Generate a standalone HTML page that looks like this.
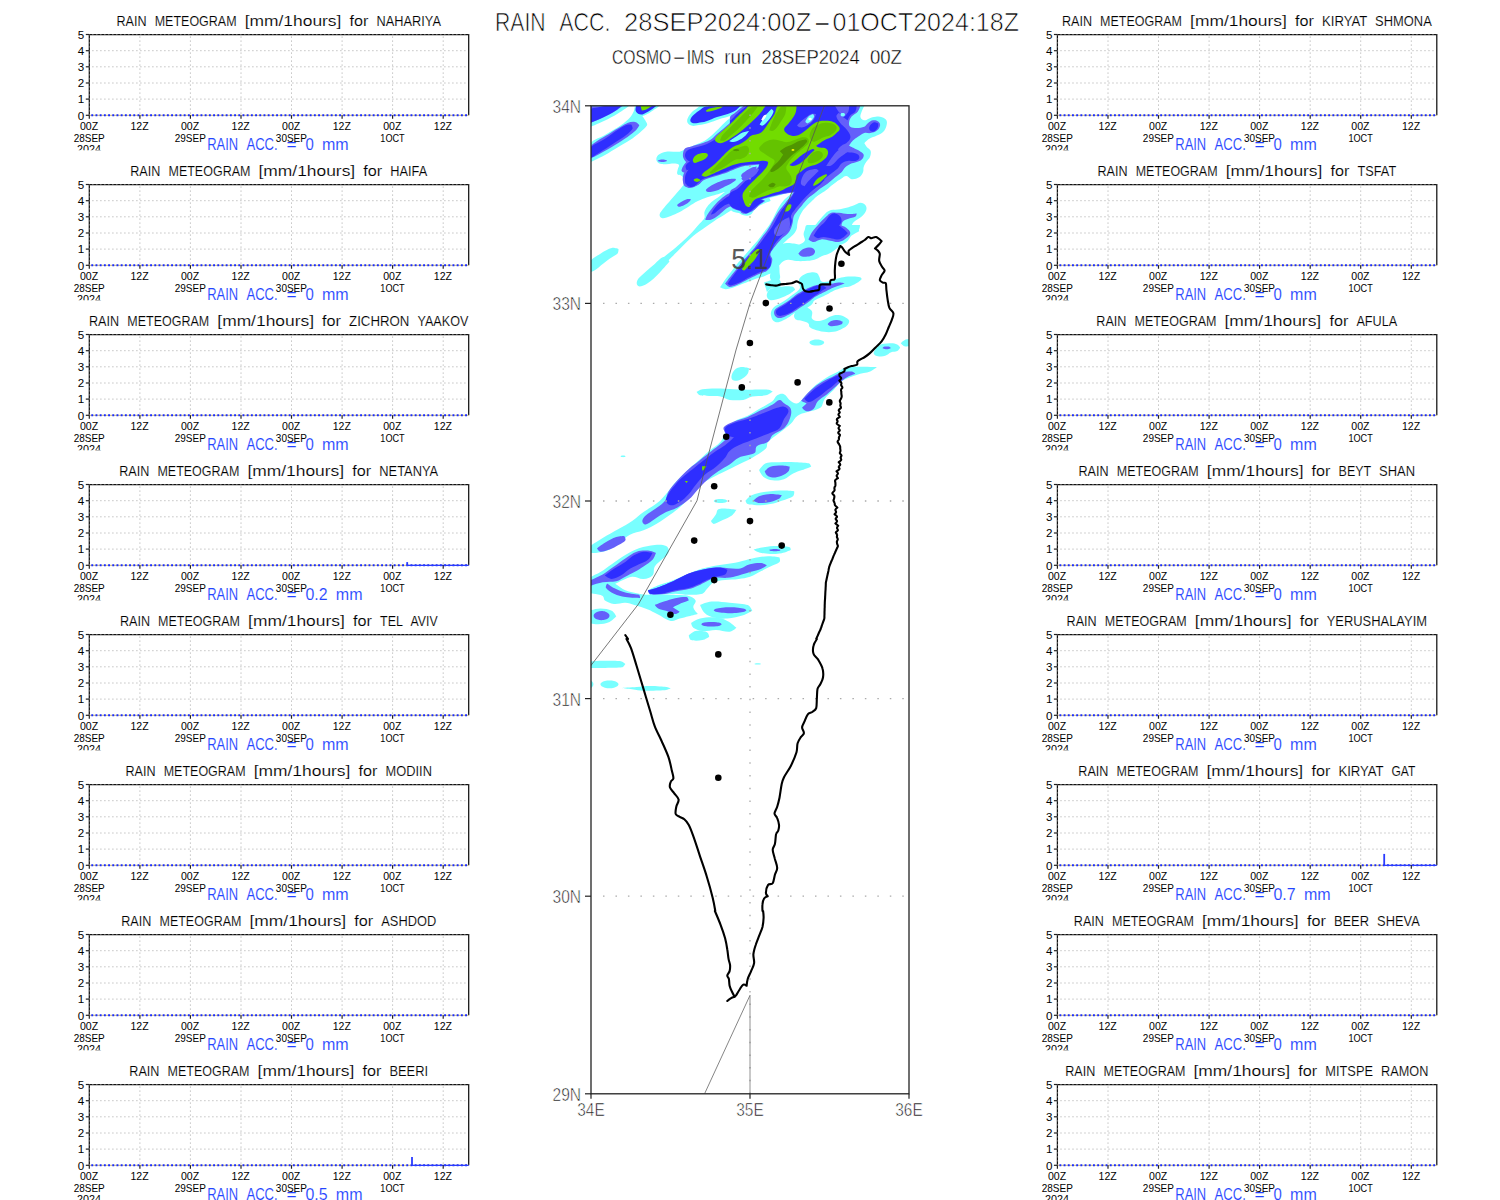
<!DOCTYPE html>
<html><head><meta charset="utf-8"><title>RAIN ACC. COSMO-IMS</title>
<style>
html,body{margin:0;padding:0;background:#fff;}
svg{display:block}
text{font-family:"Liberation Sans", sans-serif;fill:#111;}
.pt{font-size:15.4px;fill:#000;stroke:#fff;stroke-width:.15px}
.yl{font-size:11.6px;text-anchor:end;fill:#000}
.xl{font-size:11.6px;text-anchor:middle;fill:#000}
.ac{font-size:16.2px;fill:#2444ff;stroke:#fff;stroke-width:.12px}
.mt{font-size:25.4px;fill:#000;stroke:#fff;stroke-width:.7px}
.st{font-size:19.5px;fill:#000;stroke:#fff;stroke-width:.4px}
.ml{font-size:18px;fill:#111;stroke:#fff;stroke-width:.55px}
.gd{stroke:#b4b4b4;stroke-width:1;stroke-dasharray:1.2 2.8;fill:none}
.mg{stroke:#aaa;stroke-width:1.3;stroke-dasharray:1.5 10.97;fill:none}
.fr{stroke:#111;stroke-width:1.25;fill:none}
.frd{stroke:#fff;stroke-width:.9;stroke-dasharray:.8 3.2;fill:none;opacity:.75}
.bl{stroke:#1a2cff;stroke-width:2;stroke-dasharray:1.9 2.3;fill:none}
.tk{stroke:#222;stroke-width:1.2}
</style></head>
<body><svg width="1500" height="1200" viewBox="0 0 1500 1200">
<rect width="1500" height="1200" fill="#fff"/>
<g>
<text class="pt" y="26.4"><tspan x="116.5" textLength="30.1" lengthAdjust="spacingAndGlyphs">RAIN</tspan> <tspan x="154.7" textLength="81.9" lengthAdjust="spacingAndGlyphs">METEOGRAM</tspan> <tspan x="244.7" textLength="96.7" lengthAdjust="spacingAndGlyphs">[mm/1hours]</tspan> <tspan x="349.6" textLength="18.9" lengthAdjust="spacingAndGlyphs">for</tspan> <tspan x="376.6" textLength="64.3" lengthAdjust="spacingAndGlyphs">NAHARIYA</tspan></text>
<line class="gd" x1="92.3" y1="99.1" x2="468.7" y2="99.1"/>
<line class="gd" x1="92.3" y1="83.0" x2="468.7" y2="83.0"/>
<line class="gd" x1="92.3" y1="66.8" x2="468.7" y2="66.8"/>
<line class="gd" x1="92.3" y1="50.7" x2="468.7" y2="50.7"/>
<line class="gd" x1="139.9" y1="36.5" x2="139.9" y2="115.3"/>
<line class="gd" x1="190.4" y1="36.5" x2="190.4" y2="115.3"/>
<line class="gd" x1="241.0" y1="36.5" x2="241.0" y2="115.3"/>
<line class="gd" x1="291.5" y1="36.5" x2="291.5" y2="115.3"/>
<line class="gd" x1="342.1" y1="36.5" x2="342.1" y2="115.3"/>
<line class="gd" x1="392.6" y1="36.5" x2="392.6" y2="115.3"/>
<line class="gd" x1="443.2" y1="36.5" x2="443.2" y2="115.3"/>
<path class="fr" d="M89.3 115.3V34.5H468.7V115.3"/>
<path class="frd" d="M89.3 115.3V34.5H468.7"/>
<line x1="89.3" y1="115.3" x2="468.7" y2="115.3" stroke="#c8b878" stroke-width="1"/>
<line class="bl" x1="91.3" y1="115.3" x2="468.7" y2="115.3"/>
<line class="tk" x1="85.8" y1="115.3" x2="89.3" y2="115.3"/>
<text class="yl" x="84.3" y="119.5">0</text>
<line class="tk" x1="85.8" y1="99.1" x2="89.3" y2="99.1"/>
<text class="yl" x="84.3" y="103.3">1</text>
<line class="tk" x1="85.8" y1="83.0" x2="89.3" y2="83.0"/>
<text class="yl" x="84.3" y="87.2">2</text>
<line class="tk" x1="85.8" y1="66.8" x2="89.3" y2="66.8"/>
<text class="yl" x="84.3" y="71.0">3</text>
<line class="tk" x1="85.8" y1="50.7" x2="89.3" y2="50.7"/>
<text class="yl" x="84.3" y="54.9">4</text>
<line class="tk" x1="85.8" y1="34.5" x2="89.3" y2="34.5"/>
<text class="yl" x="84.3" y="38.7">5</text>
<g clip-path="url(#c89_0)">
<clipPath id="c89_0"><rect x="29.299999999999997" y="-5.5" width="499.4" height="155.8"/></clipPath>
<text class="ac" y="149.7"><tspan x="207.2" textLength="30.9" lengthAdjust="spacingAndGlyphs">RAIN</tspan> <tspan x="246.4" textLength="31.3" lengthAdjust="spacingAndGlyphs">ACC.</tspan> <tspan x="286.5" textLength="10.1" lengthAdjust="spacingAndGlyphs">=</tspan> <tspan x="305.4" textLength="8.3" lengthAdjust="spacingAndGlyphs">0</tspan> <tspan x="322.0" textLength="26.7" lengthAdjust="spacingAndGlyphs">mm</tspan></text>
<line class="tk" x1="89.3" y1="115.3" x2="89.3" y2="118.8"/>
<text class="xl" x="89.0" y="129.7" textLength="18.2" lengthAdjust="spacingAndGlyphs">00Z</text>
<text class="xl" x="89.2" y="141.5" textLength="31.1" lengthAdjust="spacingAndGlyphs">28SEP</text>
<line class="tk" x1="139.9" y1="115.3" x2="139.9" y2="118.8"/>
<text class="xl" x="139.6" y="129.7" textLength="18.2" lengthAdjust="spacingAndGlyphs">12Z</text>
<line class="tk" x1="190.4" y1="115.3" x2="190.4" y2="118.8"/>
<text class="xl" x="190.1" y="129.7" textLength="18.2" lengthAdjust="spacingAndGlyphs">00Z</text>
<text class="xl" x="190.3" y="141.5" textLength="31.1" lengthAdjust="spacingAndGlyphs">29SEP</text>
<line class="tk" x1="241.0" y1="115.3" x2="241.0" y2="118.8"/>
<text class="xl" x="240.7" y="129.7" textLength="18.2" lengthAdjust="spacingAndGlyphs">12Z</text>
<line class="tk" x1="291.5" y1="115.3" x2="291.5" y2="118.8"/>
<text class="xl" x="291.2" y="129.7" textLength="18.2" lengthAdjust="spacingAndGlyphs">00Z</text>
<text class="xl" x="291.4" y="141.5" textLength="31.1" lengthAdjust="spacingAndGlyphs">30SEP</text>
<line class="tk" x1="342.1" y1="115.3" x2="342.1" y2="118.8"/>
<text class="xl" x="341.8" y="129.7" textLength="18.2" lengthAdjust="spacingAndGlyphs">12Z</text>
<line class="tk" x1="392.6" y1="115.3" x2="392.6" y2="118.8"/>
<text class="xl" x="392.3" y="129.7" textLength="18.2" lengthAdjust="spacingAndGlyphs">00Z</text>
<text class="xl" x="392.5" y="141.5" textLength="24.3" lengthAdjust="spacingAndGlyphs">1OCT</text>
<line class="tk" x1="443.2" y1="115.3" x2="443.2" y2="118.8"/>
<text class="xl" x="442.9" y="129.7" textLength="18.2" lengthAdjust="spacingAndGlyphs">12Z</text>
<text class="xl" x="89.0" y="153.2" textLength="24" lengthAdjust="spacingAndGlyphs">2024</text>
</g>
</g>
<g>
<text class="pt" y="176.4"><tspan x="130.2" textLength="30.1" lengthAdjust="spacingAndGlyphs">RAIN</tspan> <tspan x="168.5" textLength="81.9" lengthAdjust="spacingAndGlyphs">METEOGRAM</tspan> <tspan x="258.5" textLength="96.7" lengthAdjust="spacingAndGlyphs">[mm/1hours]</tspan> <tspan x="363.3" textLength="18.9" lengthAdjust="spacingAndGlyphs">for</tspan> <tspan x="390.3" textLength="36.9" lengthAdjust="spacingAndGlyphs">HAIFA</tspan></text>
<line class="gd" x1="92.3" y1="249.1" x2="468.7" y2="249.1"/>
<line class="gd" x1="92.3" y1="233.0" x2="468.7" y2="233.0"/>
<line class="gd" x1="92.3" y1="216.8" x2="468.7" y2="216.8"/>
<line class="gd" x1="92.3" y1="200.7" x2="468.7" y2="200.7"/>
<line class="gd" x1="139.9" y1="186.5" x2="139.9" y2="265.3"/>
<line class="gd" x1="190.4" y1="186.5" x2="190.4" y2="265.3"/>
<line class="gd" x1="241.0" y1="186.5" x2="241.0" y2="265.3"/>
<line class="gd" x1="291.5" y1="186.5" x2="291.5" y2="265.3"/>
<line class="gd" x1="342.1" y1="186.5" x2="342.1" y2="265.3"/>
<line class="gd" x1="392.6" y1="186.5" x2="392.6" y2="265.3"/>
<line class="gd" x1="443.2" y1="186.5" x2="443.2" y2="265.3"/>
<path class="fr" d="M89.3 265.3V184.5H468.7V265.3"/>
<path class="frd" d="M89.3 265.3V184.5H468.7"/>
<line x1="89.3" y1="265.3" x2="468.7" y2="265.3" stroke="#c8b878" stroke-width="1"/>
<line class="bl" x1="91.3" y1="265.3" x2="468.7" y2="265.3"/>
<line class="tk" x1="85.8" y1="265.3" x2="89.3" y2="265.3"/>
<text class="yl" x="84.3" y="269.5">0</text>
<line class="tk" x1="85.8" y1="249.1" x2="89.3" y2="249.1"/>
<text class="yl" x="84.3" y="253.3">1</text>
<line class="tk" x1="85.8" y1="233.0" x2="89.3" y2="233.0"/>
<text class="yl" x="84.3" y="237.2">2</text>
<line class="tk" x1="85.8" y1="216.8" x2="89.3" y2="216.8"/>
<text class="yl" x="84.3" y="221.0">3</text>
<line class="tk" x1="85.8" y1="200.7" x2="89.3" y2="200.7"/>
<text class="yl" x="84.3" y="204.9">4</text>
<line class="tk" x1="85.8" y1="184.5" x2="89.3" y2="184.5"/>
<text class="yl" x="84.3" y="188.7">5</text>
<g clip-path="url(#c89_1)">
<clipPath id="c89_1"><rect x="29.299999999999997" y="144.5" width="499.4" height="155.8"/></clipPath>
<text class="ac" y="299.7"><tspan x="207.2" textLength="30.9" lengthAdjust="spacingAndGlyphs">RAIN</tspan> <tspan x="246.4" textLength="31.3" lengthAdjust="spacingAndGlyphs">ACC.</tspan> <tspan x="286.5" textLength="10.1" lengthAdjust="spacingAndGlyphs">=</tspan> <tspan x="305.4" textLength="8.3" lengthAdjust="spacingAndGlyphs">0</tspan> <tspan x="322.0" textLength="26.7" lengthAdjust="spacingAndGlyphs">mm</tspan></text>
<line class="tk" x1="89.3" y1="265.3" x2="89.3" y2="268.8"/>
<text class="xl" x="89.0" y="279.7" textLength="18.2" lengthAdjust="spacingAndGlyphs">00Z</text>
<text class="xl" x="89.2" y="291.5" textLength="31.1" lengthAdjust="spacingAndGlyphs">28SEP</text>
<line class="tk" x1="139.9" y1="265.3" x2="139.9" y2="268.8"/>
<text class="xl" x="139.6" y="279.7" textLength="18.2" lengthAdjust="spacingAndGlyphs">12Z</text>
<line class="tk" x1="190.4" y1="265.3" x2="190.4" y2="268.8"/>
<text class="xl" x="190.1" y="279.7" textLength="18.2" lengthAdjust="spacingAndGlyphs">00Z</text>
<text class="xl" x="190.3" y="291.5" textLength="31.1" lengthAdjust="spacingAndGlyphs">29SEP</text>
<line class="tk" x1="241.0" y1="265.3" x2="241.0" y2="268.8"/>
<text class="xl" x="240.7" y="279.7" textLength="18.2" lengthAdjust="spacingAndGlyphs">12Z</text>
<line class="tk" x1="291.5" y1="265.3" x2="291.5" y2="268.8"/>
<text class="xl" x="291.2" y="279.7" textLength="18.2" lengthAdjust="spacingAndGlyphs">00Z</text>
<text class="xl" x="291.4" y="291.5" textLength="31.1" lengthAdjust="spacingAndGlyphs">30SEP</text>
<line class="tk" x1="342.1" y1="265.3" x2="342.1" y2="268.8"/>
<text class="xl" x="341.8" y="279.7" textLength="18.2" lengthAdjust="spacingAndGlyphs">12Z</text>
<line class="tk" x1="392.6" y1="265.3" x2="392.6" y2="268.8"/>
<text class="xl" x="392.3" y="279.7" textLength="18.2" lengthAdjust="spacingAndGlyphs">00Z</text>
<text class="xl" x="392.5" y="291.5" textLength="24.3" lengthAdjust="spacingAndGlyphs">1OCT</text>
<line class="tk" x1="443.2" y1="265.3" x2="443.2" y2="268.8"/>
<text class="xl" x="442.9" y="279.7" textLength="18.2" lengthAdjust="spacingAndGlyphs">12Z</text>
<text class="xl" x="89.0" y="303.2" textLength="24" lengthAdjust="spacingAndGlyphs">2024</text>
</g>
</g>
<g>
<text class="pt" y="326.4"><tspan x="89.0" textLength="30.1" lengthAdjust="spacingAndGlyphs">RAIN</tspan> <tspan x="127.3" textLength="81.9" lengthAdjust="spacingAndGlyphs">METEOGRAM</tspan> <tspan x="217.3" textLength="96.7" lengthAdjust="spacingAndGlyphs">[mm/1hours]</tspan> <tspan x="322.1" textLength="18.9" lengthAdjust="spacingAndGlyphs">for</tspan> <tspan x="349.1" textLength="60.3" lengthAdjust="spacingAndGlyphs">ZICHRON</tspan> <tspan x="417.5" textLength="50.8" lengthAdjust="spacingAndGlyphs">YAAKOV</tspan></text>
<line class="gd" x1="92.3" y1="399.1" x2="468.7" y2="399.1"/>
<line class="gd" x1="92.3" y1="383.0" x2="468.7" y2="383.0"/>
<line class="gd" x1="92.3" y1="366.8" x2="468.7" y2="366.8"/>
<line class="gd" x1="92.3" y1="350.7" x2="468.7" y2="350.7"/>
<line class="gd" x1="139.9" y1="336.5" x2="139.9" y2="415.3"/>
<line class="gd" x1="190.4" y1="336.5" x2="190.4" y2="415.3"/>
<line class="gd" x1="241.0" y1="336.5" x2="241.0" y2="415.3"/>
<line class="gd" x1="291.5" y1="336.5" x2="291.5" y2="415.3"/>
<line class="gd" x1="342.1" y1="336.5" x2="342.1" y2="415.3"/>
<line class="gd" x1="392.6" y1="336.5" x2="392.6" y2="415.3"/>
<line class="gd" x1="443.2" y1="336.5" x2="443.2" y2="415.3"/>
<path class="fr" d="M89.3 415.3V334.5H468.7V415.3"/>
<path class="frd" d="M89.3 415.3V334.5H468.7"/>
<line x1="89.3" y1="415.3" x2="468.7" y2="415.3" stroke="#c8b878" stroke-width="1"/>
<line class="bl" x1="91.3" y1="415.3" x2="468.7" y2="415.3"/>
<line class="tk" x1="85.8" y1="415.3" x2="89.3" y2="415.3"/>
<text class="yl" x="84.3" y="419.5">0</text>
<line class="tk" x1="85.8" y1="399.1" x2="89.3" y2="399.1"/>
<text class="yl" x="84.3" y="403.3">1</text>
<line class="tk" x1="85.8" y1="383.0" x2="89.3" y2="383.0"/>
<text class="yl" x="84.3" y="387.2">2</text>
<line class="tk" x1="85.8" y1="366.8" x2="89.3" y2="366.8"/>
<text class="yl" x="84.3" y="371.0">3</text>
<line class="tk" x1="85.8" y1="350.7" x2="89.3" y2="350.7"/>
<text class="yl" x="84.3" y="354.9">4</text>
<line class="tk" x1="85.8" y1="334.5" x2="89.3" y2="334.5"/>
<text class="yl" x="84.3" y="338.7">5</text>
<g clip-path="url(#c89_2)">
<clipPath id="c89_2"><rect x="29.299999999999997" y="294.5" width="499.4" height="155.8"/></clipPath>
<text class="ac" y="449.7"><tspan x="207.2" textLength="30.9" lengthAdjust="spacingAndGlyphs">RAIN</tspan> <tspan x="246.4" textLength="31.3" lengthAdjust="spacingAndGlyphs">ACC.</tspan> <tspan x="286.5" textLength="10.1" lengthAdjust="spacingAndGlyphs">=</tspan> <tspan x="305.4" textLength="8.3" lengthAdjust="spacingAndGlyphs">0</tspan> <tspan x="322.0" textLength="26.7" lengthAdjust="spacingAndGlyphs">mm</tspan></text>
<line class="tk" x1="89.3" y1="415.3" x2="89.3" y2="418.8"/>
<text class="xl" x="89.0" y="429.7" textLength="18.2" lengthAdjust="spacingAndGlyphs">00Z</text>
<text class="xl" x="89.2" y="441.5" textLength="31.1" lengthAdjust="spacingAndGlyphs">28SEP</text>
<line class="tk" x1="139.9" y1="415.3" x2="139.9" y2="418.8"/>
<text class="xl" x="139.6" y="429.7" textLength="18.2" lengthAdjust="spacingAndGlyphs">12Z</text>
<line class="tk" x1="190.4" y1="415.3" x2="190.4" y2="418.8"/>
<text class="xl" x="190.1" y="429.7" textLength="18.2" lengthAdjust="spacingAndGlyphs">00Z</text>
<text class="xl" x="190.3" y="441.5" textLength="31.1" lengthAdjust="spacingAndGlyphs">29SEP</text>
<line class="tk" x1="241.0" y1="415.3" x2="241.0" y2="418.8"/>
<text class="xl" x="240.7" y="429.7" textLength="18.2" lengthAdjust="spacingAndGlyphs">12Z</text>
<line class="tk" x1="291.5" y1="415.3" x2="291.5" y2="418.8"/>
<text class="xl" x="291.2" y="429.7" textLength="18.2" lengthAdjust="spacingAndGlyphs">00Z</text>
<text class="xl" x="291.4" y="441.5" textLength="31.1" lengthAdjust="spacingAndGlyphs">30SEP</text>
<line class="tk" x1="342.1" y1="415.3" x2="342.1" y2="418.8"/>
<text class="xl" x="341.8" y="429.7" textLength="18.2" lengthAdjust="spacingAndGlyphs">12Z</text>
<line class="tk" x1="392.6" y1="415.3" x2="392.6" y2="418.8"/>
<text class="xl" x="392.3" y="429.7" textLength="18.2" lengthAdjust="spacingAndGlyphs">00Z</text>
<text class="xl" x="392.5" y="441.5" textLength="24.3" lengthAdjust="spacingAndGlyphs">1OCT</text>
<line class="tk" x1="443.2" y1="415.3" x2="443.2" y2="418.8"/>
<text class="xl" x="442.9" y="429.7" textLength="18.2" lengthAdjust="spacingAndGlyphs">12Z</text>
<text class="xl" x="89.0" y="453.2" textLength="24" lengthAdjust="spacingAndGlyphs">2024</text>
</g>
</g>
<g>
<text class="pt" y="476.4"><tspan x="119.2" textLength="30.1" lengthAdjust="spacingAndGlyphs">RAIN</tspan> <tspan x="157.4" textLength="81.9" lengthAdjust="spacingAndGlyphs">METEOGRAM</tspan> <tspan x="247.4" textLength="96.7" lengthAdjust="spacingAndGlyphs">[mm/1hours]</tspan> <tspan x="352.3" textLength="18.9" lengthAdjust="spacingAndGlyphs">for</tspan> <tspan x="379.3" textLength="58.9" lengthAdjust="spacingAndGlyphs">NETANYA</tspan></text>
<line class="gd" x1="92.3" y1="549.1" x2="468.7" y2="549.1"/>
<line class="gd" x1="92.3" y1="533.0" x2="468.7" y2="533.0"/>
<line class="gd" x1="92.3" y1="516.8" x2="468.7" y2="516.8"/>
<line class="gd" x1="92.3" y1="500.7" x2="468.7" y2="500.7"/>
<line class="gd" x1="139.9" y1="486.5" x2="139.9" y2="565.3"/>
<line class="gd" x1="190.4" y1="486.5" x2="190.4" y2="565.3"/>
<line class="gd" x1="241.0" y1="486.5" x2="241.0" y2="565.3"/>
<line class="gd" x1="291.5" y1="486.5" x2="291.5" y2="565.3"/>
<line class="gd" x1="342.1" y1="486.5" x2="342.1" y2="565.3"/>
<line class="gd" x1="392.6" y1="486.5" x2="392.6" y2="565.3"/>
<line class="gd" x1="443.2" y1="486.5" x2="443.2" y2="565.3"/>
<path class="fr" d="M89.3 565.3V484.5H468.7V565.3"/>
<path class="frd" d="M89.3 565.3V484.5H468.7"/>
<line x1="89.3" y1="565.3" x2="468.7" y2="565.3" stroke="#c8b878" stroke-width="1"/>
<line class="bl" x1="91.3" y1="565.3" x2="468.7" y2="565.3"/>
<path d="M407.2 565.3V562.1" stroke="#2a3cff" stroke-width="1.8" fill="none"/>
<path d="M407.2 565.3H468.7" stroke="#2a3cff" stroke-width="1.2" fill="none"/>
<line class="tk" x1="85.8" y1="565.3" x2="89.3" y2="565.3"/>
<text class="yl" x="84.3" y="569.5">0</text>
<line class="tk" x1="85.8" y1="549.1" x2="89.3" y2="549.1"/>
<text class="yl" x="84.3" y="553.3">1</text>
<line class="tk" x1="85.8" y1="533.0" x2="89.3" y2="533.0"/>
<text class="yl" x="84.3" y="537.2">2</text>
<line class="tk" x1="85.8" y1="516.8" x2="89.3" y2="516.8"/>
<text class="yl" x="84.3" y="521.0">3</text>
<line class="tk" x1="85.8" y1="500.7" x2="89.3" y2="500.7"/>
<text class="yl" x="84.3" y="504.9">4</text>
<line class="tk" x1="85.8" y1="484.5" x2="89.3" y2="484.5"/>
<text class="yl" x="84.3" y="488.7">5</text>
<g clip-path="url(#c89_3)">
<clipPath id="c89_3"><rect x="29.299999999999997" y="444.5" width="499.4" height="155.8"/></clipPath>
<text class="ac" y="599.7"><tspan x="207.2" textLength="30.9" lengthAdjust="spacingAndGlyphs">RAIN</tspan> <tspan x="246.4" textLength="31.3" lengthAdjust="spacingAndGlyphs">ACC.</tspan> <tspan x="286.5" textLength="10.1" lengthAdjust="spacingAndGlyphs">=</tspan> <tspan x="305.4" textLength="22.1" lengthAdjust="spacingAndGlyphs">0.2</tspan> <tspan x="335.8" textLength="26.7" lengthAdjust="spacingAndGlyphs">mm</tspan></text>
<line class="tk" x1="89.3" y1="565.3" x2="89.3" y2="568.8"/>
<text class="xl" x="89.0" y="579.7" textLength="18.2" lengthAdjust="spacingAndGlyphs">00Z</text>
<text class="xl" x="89.2" y="591.5" textLength="31.1" lengthAdjust="spacingAndGlyphs">28SEP</text>
<line class="tk" x1="139.9" y1="565.3" x2="139.9" y2="568.8"/>
<text class="xl" x="139.6" y="579.7" textLength="18.2" lengthAdjust="spacingAndGlyphs">12Z</text>
<line class="tk" x1="190.4" y1="565.3" x2="190.4" y2="568.8"/>
<text class="xl" x="190.1" y="579.7" textLength="18.2" lengthAdjust="spacingAndGlyphs">00Z</text>
<text class="xl" x="190.3" y="591.5" textLength="31.1" lengthAdjust="spacingAndGlyphs">29SEP</text>
<line class="tk" x1="241.0" y1="565.3" x2="241.0" y2="568.8"/>
<text class="xl" x="240.7" y="579.7" textLength="18.2" lengthAdjust="spacingAndGlyphs">12Z</text>
<line class="tk" x1="291.5" y1="565.3" x2="291.5" y2="568.8"/>
<text class="xl" x="291.2" y="579.7" textLength="18.2" lengthAdjust="spacingAndGlyphs">00Z</text>
<text class="xl" x="291.4" y="591.5" textLength="31.1" lengthAdjust="spacingAndGlyphs">30SEP</text>
<line class="tk" x1="342.1" y1="565.3" x2="342.1" y2="568.8"/>
<text class="xl" x="341.8" y="579.7" textLength="18.2" lengthAdjust="spacingAndGlyphs">12Z</text>
<line class="tk" x1="392.6" y1="565.3" x2="392.6" y2="568.8"/>
<text class="xl" x="392.3" y="579.7" textLength="18.2" lengthAdjust="spacingAndGlyphs">00Z</text>
<text class="xl" x="392.5" y="591.5" textLength="24.3" lengthAdjust="spacingAndGlyphs">1OCT</text>
<line class="tk" x1="443.2" y1="565.3" x2="443.2" y2="568.8"/>
<text class="xl" x="442.9" y="579.7" textLength="18.2" lengthAdjust="spacingAndGlyphs">12Z</text>
<text class="xl" x="89.0" y="603.2" textLength="24" lengthAdjust="spacingAndGlyphs">2024</text>
</g>
</g>
<g>
<text class="pt" y="626.4"><tspan x="119.9" textLength="30.1" lengthAdjust="spacingAndGlyphs">RAIN</tspan> <tspan x="158.1" textLength="81.9" lengthAdjust="spacingAndGlyphs">METEOGRAM</tspan> <tspan x="248.1" textLength="96.7" lengthAdjust="spacingAndGlyphs">[mm/1hours]</tspan> <tspan x="353.0" textLength="18.9" lengthAdjust="spacingAndGlyphs">for</tspan> <tspan x="380.0" textLength="22.5" lengthAdjust="spacingAndGlyphs">TEL</tspan> <tspan x="410.6" textLength="27.0" lengthAdjust="spacingAndGlyphs">AVIV</tspan></text>
<line class="gd" x1="92.3" y1="699.1" x2="468.7" y2="699.1"/>
<line class="gd" x1="92.3" y1="683.0" x2="468.7" y2="683.0"/>
<line class="gd" x1="92.3" y1="666.8" x2="468.7" y2="666.8"/>
<line class="gd" x1="92.3" y1="650.7" x2="468.7" y2="650.7"/>
<line class="gd" x1="139.9" y1="636.5" x2="139.9" y2="715.3"/>
<line class="gd" x1="190.4" y1="636.5" x2="190.4" y2="715.3"/>
<line class="gd" x1="241.0" y1="636.5" x2="241.0" y2="715.3"/>
<line class="gd" x1="291.5" y1="636.5" x2="291.5" y2="715.3"/>
<line class="gd" x1="342.1" y1="636.5" x2="342.1" y2="715.3"/>
<line class="gd" x1="392.6" y1="636.5" x2="392.6" y2="715.3"/>
<line class="gd" x1="443.2" y1="636.5" x2="443.2" y2="715.3"/>
<path class="fr" d="M89.3 715.3V634.5H468.7V715.3"/>
<path class="frd" d="M89.3 715.3V634.5H468.7"/>
<line x1="89.3" y1="715.3" x2="468.7" y2="715.3" stroke="#c8b878" stroke-width="1"/>
<line class="bl" x1="91.3" y1="715.3" x2="468.7" y2="715.3"/>
<line class="tk" x1="85.8" y1="715.3" x2="89.3" y2="715.3"/>
<text class="yl" x="84.3" y="719.5">0</text>
<line class="tk" x1="85.8" y1="699.1" x2="89.3" y2="699.1"/>
<text class="yl" x="84.3" y="703.3">1</text>
<line class="tk" x1="85.8" y1="683.0" x2="89.3" y2="683.0"/>
<text class="yl" x="84.3" y="687.2">2</text>
<line class="tk" x1="85.8" y1="666.8" x2="89.3" y2="666.8"/>
<text class="yl" x="84.3" y="671.0">3</text>
<line class="tk" x1="85.8" y1="650.7" x2="89.3" y2="650.7"/>
<text class="yl" x="84.3" y="654.9">4</text>
<line class="tk" x1="85.8" y1="634.5" x2="89.3" y2="634.5"/>
<text class="yl" x="84.3" y="638.7">5</text>
<g clip-path="url(#c89_4)">
<clipPath id="c89_4"><rect x="29.299999999999997" y="594.5" width="499.4" height="155.8"/></clipPath>
<text class="ac" y="749.7"><tspan x="207.2" textLength="30.9" lengthAdjust="spacingAndGlyphs">RAIN</tspan> <tspan x="246.4" textLength="31.3" lengthAdjust="spacingAndGlyphs">ACC.</tspan> <tspan x="286.5" textLength="10.1" lengthAdjust="spacingAndGlyphs">=</tspan> <tspan x="305.4" textLength="8.3" lengthAdjust="spacingAndGlyphs">0</tspan> <tspan x="322.0" textLength="26.7" lengthAdjust="spacingAndGlyphs">mm</tspan></text>
<line class="tk" x1="89.3" y1="715.3" x2="89.3" y2="718.8"/>
<text class="xl" x="89.0" y="729.7" textLength="18.2" lengthAdjust="spacingAndGlyphs">00Z</text>
<text class="xl" x="89.2" y="741.5" textLength="31.1" lengthAdjust="spacingAndGlyphs">28SEP</text>
<line class="tk" x1="139.9" y1="715.3" x2="139.9" y2="718.8"/>
<text class="xl" x="139.6" y="729.7" textLength="18.2" lengthAdjust="spacingAndGlyphs">12Z</text>
<line class="tk" x1="190.4" y1="715.3" x2="190.4" y2="718.8"/>
<text class="xl" x="190.1" y="729.7" textLength="18.2" lengthAdjust="spacingAndGlyphs">00Z</text>
<text class="xl" x="190.3" y="741.5" textLength="31.1" lengthAdjust="spacingAndGlyphs">29SEP</text>
<line class="tk" x1="241.0" y1="715.3" x2="241.0" y2="718.8"/>
<text class="xl" x="240.7" y="729.7" textLength="18.2" lengthAdjust="spacingAndGlyphs">12Z</text>
<line class="tk" x1="291.5" y1="715.3" x2="291.5" y2="718.8"/>
<text class="xl" x="291.2" y="729.7" textLength="18.2" lengthAdjust="spacingAndGlyphs">00Z</text>
<text class="xl" x="291.4" y="741.5" textLength="31.1" lengthAdjust="spacingAndGlyphs">30SEP</text>
<line class="tk" x1="342.1" y1="715.3" x2="342.1" y2="718.8"/>
<text class="xl" x="341.8" y="729.7" textLength="18.2" lengthAdjust="spacingAndGlyphs">12Z</text>
<line class="tk" x1="392.6" y1="715.3" x2="392.6" y2="718.8"/>
<text class="xl" x="392.3" y="729.7" textLength="18.2" lengthAdjust="spacingAndGlyphs">00Z</text>
<text class="xl" x="392.5" y="741.5" textLength="24.3" lengthAdjust="spacingAndGlyphs">1OCT</text>
<line class="tk" x1="443.2" y1="715.3" x2="443.2" y2="718.8"/>
<text class="xl" x="442.9" y="729.7" textLength="18.2" lengthAdjust="spacingAndGlyphs">12Z</text>
<text class="xl" x="89.0" y="753.2" textLength="24" lengthAdjust="spacingAndGlyphs">2024</text>
</g>
</g>
<g>
<text class="pt" y="776.4"><tspan x="125.5" textLength="30.1" lengthAdjust="spacingAndGlyphs">RAIN</tspan> <tspan x="163.7" textLength="81.9" lengthAdjust="spacingAndGlyphs">METEOGRAM</tspan> <tspan x="253.7" textLength="96.7" lengthAdjust="spacingAndGlyphs">[mm/1hours]</tspan> <tspan x="358.6" textLength="18.9" lengthAdjust="spacingAndGlyphs">for</tspan> <tspan x="385.6" textLength="46.3" lengthAdjust="spacingAndGlyphs">MODIIN</tspan></text>
<line class="gd" x1="92.3" y1="849.1" x2="468.7" y2="849.1"/>
<line class="gd" x1="92.3" y1="833.0" x2="468.7" y2="833.0"/>
<line class="gd" x1="92.3" y1="816.8" x2="468.7" y2="816.8"/>
<line class="gd" x1="92.3" y1="800.7" x2="468.7" y2="800.7"/>
<line class="gd" x1="139.9" y1="786.5" x2="139.9" y2="865.3"/>
<line class="gd" x1="190.4" y1="786.5" x2="190.4" y2="865.3"/>
<line class="gd" x1="241.0" y1="786.5" x2="241.0" y2="865.3"/>
<line class="gd" x1="291.5" y1="786.5" x2="291.5" y2="865.3"/>
<line class="gd" x1="342.1" y1="786.5" x2="342.1" y2="865.3"/>
<line class="gd" x1="392.6" y1="786.5" x2="392.6" y2="865.3"/>
<line class="gd" x1="443.2" y1="786.5" x2="443.2" y2="865.3"/>
<path class="fr" d="M89.3 865.3V784.5H468.7V865.3"/>
<path class="frd" d="M89.3 865.3V784.5H468.7"/>
<line x1="89.3" y1="865.3" x2="468.7" y2="865.3" stroke="#c8b878" stroke-width="1"/>
<line class="bl" x1="91.3" y1="865.3" x2="468.7" y2="865.3"/>
<line class="tk" x1="85.8" y1="865.3" x2="89.3" y2="865.3"/>
<text class="yl" x="84.3" y="869.5">0</text>
<line class="tk" x1="85.8" y1="849.1" x2="89.3" y2="849.1"/>
<text class="yl" x="84.3" y="853.3">1</text>
<line class="tk" x1="85.8" y1="833.0" x2="89.3" y2="833.0"/>
<text class="yl" x="84.3" y="837.2">2</text>
<line class="tk" x1="85.8" y1="816.8" x2="89.3" y2="816.8"/>
<text class="yl" x="84.3" y="821.0">3</text>
<line class="tk" x1="85.8" y1="800.7" x2="89.3" y2="800.7"/>
<text class="yl" x="84.3" y="804.9">4</text>
<line class="tk" x1="85.8" y1="784.5" x2="89.3" y2="784.5"/>
<text class="yl" x="84.3" y="788.7">5</text>
<g clip-path="url(#c89_5)">
<clipPath id="c89_5"><rect x="29.299999999999997" y="744.5" width="499.4" height="155.8"/></clipPath>
<text class="ac" y="899.7"><tspan x="207.2" textLength="30.9" lengthAdjust="spacingAndGlyphs">RAIN</tspan> <tspan x="246.4" textLength="31.3" lengthAdjust="spacingAndGlyphs">ACC.</tspan> <tspan x="286.5" textLength="10.1" lengthAdjust="spacingAndGlyphs">=</tspan> <tspan x="305.4" textLength="8.3" lengthAdjust="spacingAndGlyphs">0</tspan> <tspan x="322.0" textLength="26.7" lengthAdjust="spacingAndGlyphs">mm</tspan></text>
<line class="tk" x1="89.3" y1="865.3" x2="89.3" y2="868.8"/>
<text class="xl" x="89.0" y="879.7" textLength="18.2" lengthAdjust="spacingAndGlyphs">00Z</text>
<text class="xl" x="89.2" y="891.5" textLength="31.1" lengthAdjust="spacingAndGlyphs">28SEP</text>
<line class="tk" x1="139.9" y1="865.3" x2="139.9" y2="868.8"/>
<text class="xl" x="139.6" y="879.7" textLength="18.2" lengthAdjust="spacingAndGlyphs">12Z</text>
<line class="tk" x1="190.4" y1="865.3" x2="190.4" y2="868.8"/>
<text class="xl" x="190.1" y="879.7" textLength="18.2" lengthAdjust="spacingAndGlyphs">00Z</text>
<text class="xl" x="190.3" y="891.5" textLength="31.1" lengthAdjust="spacingAndGlyphs">29SEP</text>
<line class="tk" x1="241.0" y1="865.3" x2="241.0" y2="868.8"/>
<text class="xl" x="240.7" y="879.7" textLength="18.2" lengthAdjust="spacingAndGlyphs">12Z</text>
<line class="tk" x1="291.5" y1="865.3" x2="291.5" y2="868.8"/>
<text class="xl" x="291.2" y="879.7" textLength="18.2" lengthAdjust="spacingAndGlyphs">00Z</text>
<text class="xl" x="291.4" y="891.5" textLength="31.1" lengthAdjust="spacingAndGlyphs">30SEP</text>
<line class="tk" x1="342.1" y1="865.3" x2="342.1" y2="868.8"/>
<text class="xl" x="341.8" y="879.7" textLength="18.2" lengthAdjust="spacingAndGlyphs">12Z</text>
<line class="tk" x1="392.6" y1="865.3" x2="392.6" y2="868.8"/>
<text class="xl" x="392.3" y="879.7" textLength="18.2" lengthAdjust="spacingAndGlyphs">00Z</text>
<text class="xl" x="392.5" y="891.5" textLength="24.3" lengthAdjust="spacingAndGlyphs">1OCT</text>
<line class="tk" x1="443.2" y1="865.3" x2="443.2" y2="868.8"/>
<text class="xl" x="442.9" y="879.7" textLength="18.2" lengthAdjust="spacingAndGlyphs">12Z</text>
<text class="xl" x="89.0" y="903.2" textLength="24" lengthAdjust="spacingAndGlyphs">2024</text>
</g>
</g>
<g>
<text class="pt" y="926.4"><tspan x="121.2" textLength="30.1" lengthAdjust="spacingAndGlyphs">RAIN</tspan> <tspan x="159.5" textLength="81.9" lengthAdjust="spacingAndGlyphs">METEOGRAM</tspan> <tspan x="249.5" textLength="96.7" lengthAdjust="spacingAndGlyphs">[mm/1hours]</tspan> <tspan x="354.3" textLength="18.9" lengthAdjust="spacingAndGlyphs">for</tspan> <tspan x="381.3" textLength="54.9" lengthAdjust="spacingAndGlyphs">ASHDOD</tspan></text>
<line class="gd" x1="92.3" y1="999.1" x2="468.7" y2="999.1"/>
<line class="gd" x1="92.3" y1="983.0" x2="468.7" y2="983.0"/>
<line class="gd" x1="92.3" y1="966.8" x2="468.7" y2="966.8"/>
<line class="gd" x1="92.3" y1="950.7" x2="468.7" y2="950.7"/>
<line class="gd" x1="139.9" y1="936.5" x2="139.9" y2="1015.3"/>
<line class="gd" x1="190.4" y1="936.5" x2="190.4" y2="1015.3"/>
<line class="gd" x1="241.0" y1="936.5" x2="241.0" y2="1015.3"/>
<line class="gd" x1="291.5" y1="936.5" x2="291.5" y2="1015.3"/>
<line class="gd" x1="342.1" y1="936.5" x2="342.1" y2="1015.3"/>
<line class="gd" x1="392.6" y1="936.5" x2="392.6" y2="1015.3"/>
<line class="gd" x1="443.2" y1="936.5" x2="443.2" y2="1015.3"/>
<path class="fr" d="M89.3 1015.3V934.5H468.7V1015.3"/>
<path class="frd" d="M89.3 1015.3V934.5H468.7"/>
<line x1="89.3" y1="1015.3" x2="468.7" y2="1015.3" stroke="#c8b878" stroke-width="1"/>
<line class="bl" x1="91.3" y1="1015.3" x2="468.7" y2="1015.3"/>
<line class="tk" x1="85.8" y1="1015.3" x2="89.3" y2="1015.3"/>
<text class="yl" x="84.3" y="1019.5">0</text>
<line class="tk" x1="85.8" y1="999.1" x2="89.3" y2="999.1"/>
<text class="yl" x="84.3" y="1003.3">1</text>
<line class="tk" x1="85.8" y1="983.0" x2="89.3" y2="983.0"/>
<text class="yl" x="84.3" y="987.2">2</text>
<line class="tk" x1="85.8" y1="966.8" x2="89.3" y2="966.8"/>
<text class="yl" x="84.3" y="971.0">3</text>
<line class="tk" x1="85.8" y1="950.7" x2="89.3" y2="950.7"/>
<text class="yl" x="84.3" y="954.9">4</text>
<line class="tk" x1="85.8" y1="934.5" x2="89.3" y2="934.5"/>
<text class="yl" x="84.3" y="938.7">5</text>
<g clip-path="url(#c89_6)">
<clipPath id="c89_6"><rect x="29.299999999999997" y="894.5" width="499.4" height="155.8"/></clipPath>
<text class="ac" y="1049.7"><tspan x="207.2" textLength="30.9" lengthAdjust="spacingAndGlyphs">RAIN</tspan> <tspan x="246.4" textLength="31.3" lengthAdjust="spacingAndGlyphs">ACC.</tspan> <tspan x="286.5" textLength="10.1" lengthAdjust="spacingAndGlyphs">=</tspan> <tspan x="305.4" textLength="8.3" lengthAdjust="spacingAndGlyphs">0</tspan> <tspan x="322.0" textLength="26.7" lengthAdjust="spacingAndGlyphs">mm</tspan></text>
<line class="tk" x1="89.3" y1="1015.3" x2="89.3" y2="1018.8"/>
<text class="xl" x="89.0" y="1029.7" textLength="18.2" lengthAdjust="spacingAndGlyphs">00Z</text>
<text class="xl" x="89.2" y="1041.5" textLength="31.1" lengthAdjust="spacingAndGlyphs">28SEP</text>
<line class="tk" x1="139.9" y1="1015.3" x2="139.9" y2="1018.8"/>
<text class="xl" x="139.6" y="1029.7" textLength="18.2" lengthAdjust="spacingAndGlyphs">12Z</text>
<line class="tk" x1="190.4" y1="1015.3" x2="190.4" y2="1018.8"/>
<text class="xl" x="190.1" y="1029.7" textLength="18.2" lengthAdjust="spacingAndGlyphs">00Z</text>
<text class="xl" x="190.3" y="1041.5" textLength="31.1" lengthAdjust="spacingAndGlyphs">29SEP</text>
<line class="tk" x1="241.0" y1="1015.3" x2="241.0" y2="1018.8"/>
<text class="xl" x="240.7" y="1029.7" textLength="18.2" lengthAdjust="spacingAndGlyphs">12Z</text>
<line class="tk" x1="291.5" y1="1015.3" x2="291.5" y2="1018.8"/>
<text class="xl" x="291.2" y="1029.7" textLength="18.2" lengthAdjust="spacingAndGlyphs">00Z</text>
<text class="xl" x="291.4" y="1041.5" textLength="31.1" lengthAdjust="spacingAndGlyphs">30SEP</text>
<line class="tk" x1="342.1" y1="1015.3" x2="342.1" y2="1018.8"/>
<text class="xl" x="341.8" y="1029.7" textLength="18.2" lengthAdjust="spacingAndGlyphs">12Z</text>
<line class="tk" x1="392.6" y1="1015.3" x2="392.6" y2="1018.8"/>
<text class="xl" x="392.3" y="1029.7" textLength="18.2" lengthAdjust="spacingAndGlyphs">00Z</text>
<text class="xl" x="392.5" y="1041.5" textLength="24.3" lengthAdjust="spacingAndGlyphs">1OCT</text>
<line class="tk" x1="443.2" y1="1015.3" x2="443.2" y2="1018.8"/>
<text class="xl" x="442.9" y="1029.7" textLength="18.2" lengthAdjust="spacingAndGlyphs">12Z</text>
<text class="xl" x="89.0" y="1053.2" textLength="24" lengthAdjust="spacingAndGlyphs">2024</text>
</g>
</g>
<g>
<text class="pt" y="1076.4"><tspan x="129.3" textLength="30.1" lengthAdjust="spacingAndGlyphs">RAIN</tspan> <tspan x="167.6" textLength="81.9" lengthAdjust="spacingAndGlyphs">METEOGRAM</tspan> <tspan x="257.6" textLength="96.7" lengthAdjust="spacingAndGlyphs">[mm/1hours]</tspan> <tspan x="362.4" textLength="18.9" lengthAdjust="spacingAndGlyphs">for</tspan> <tspan x="389.4" textLength="38.7" lengthAdjust="spacingAndGlyphs">BEERI</tspan></text>
<line class="gd" x1="92.3" y1="1149.1" x2="468.7" y2="1149.1"/>
<line class="gd" x1="92.3" y1="1133.0" x2="468.7" y2="1133.0"/>
<line class="gd" x1="92.3" y1="1116.8" x2="468.7" y2="1116.8"/>
<line class="gd" x1="92.3" y1="1100.7" x2="468.7" y2="1100.7"/>
<line class="gd" x1="139.9" y1="1086.5" x2="139.9" y2="1165.3"/>
<line class="gd" x1="190.4" y1="1086.5" x2="190.4" y2="1165.3"/>
<line class="gd" x1="241.0" y1="1086.5" x2="241.0" y2="1165.3"/>
<line class="gd" x1="291.5" y1="1086.5" x2="291.5" y2="1165.3"/>
<line class="gd" x1="342.1" y1="1086.5" x2="342.1" y2="1165.3"/>
<line class="gd" x1="392.6" y1="1086.5" x2="392.6" y2="1165.3"/>
<line class="gd" x1="443.2" y1="1086.5" x2="443.2" y2="1165.3"/>
<path class="fr" d="M89.3 1165.3V1084.5H468.7V1165.3"/>
<path class="frd" d="M89.3 1165.3V1084.5H468.7"/>
<line x1="89.3" y1="1165.3" x2="468.7" y2="1165.3" stroke="#c8b878" stroke-width="1"/>
<line class="bl" x1="91.3" y1="1165.3" x2="468.7" y2="1165.3"/>
<path d="M412.0 1165.3V1157.0" stroke="#2a3cff" stroke-width="1.8" fill="none"/>
<path d="M412.0 1165.3H468.7" stroke="#2a3cff" stroke-width="1.2" fill="none"/>
<line class="tk" x1="85.8" y1="1165.3" x2="89.3" y2="1165.3"/>
<text class="yl" x="84.3" y="1169.5">0</text>
<line class="tk" x1="85.8" y1="1149.1" x2="89.3" y2="1149.1"/>
<text class="yl" x="84.3" y="1153.3">1</text>
<line class="tk" x1="85.8" y1="1133.0" x2="89.3" y2="1133.0"/>
<text class="yl" x="84.3" y="1137.2">2</text>
<line class="tk" x1="85.8" y1="1116.8" x2="89.3" y2="1116.8"/>
<text class="yl" x="84.3" y="1121.0">3</text>
<line class="tk" x1="85.8" y1="1100.7" x2="89.3" y2="1100.7"/>
<text class="yl" x="84.3" y="1104.9">4</text>
<line class="tk" x1="85.8" y1="1084.5" x2="89.3" y2="1084.5"/>
<text class="yl" x="84.3" y="1088.7">5</text>
<g clip-path="url(#c89_7)">
<clipPath id="c89_7"><rect x="29.299999999999997" y="1044.5" width="499.4" height="155.8"/></clipPath>
<text class="ac" y="1199.7"><tspan x="207.2" textLength="30.9" lengthAdjust="spacingAndGlyphs">RAIN</tspan> <tspan x="246.4" textLength="31.3" lengthAdjust="spacingAndGlyphs">ACC.</tspan> <tspan x="286.5" textLength="10.1" lengthAdjust="spacingAndGlyphs">=</tspan> <tspan x="305.4" textLength="22.1" lengthAdjust="spacingAndGlyphs">0.5</tspan> <tspan x="335.8" textLength="26.7" lengthAdjust="spacingAndGlyphs">mm</tspan></text>
<line class="tk" x1="89.3" y1="1165.3" x2="89.3" y2="1168.8"/>
<text class="xl" x="89.0" y="1179.7" textLength="18.2" lengthAdjust="spacingAndGlyphs">00Z</text>
<text class="xl" x="89.2" y="1191.5" textLength="31.1" lengthAdjust="spacingAndGlyphs">28SEP</text>
<line class="tk" x1="139.9" y1="1165.3" x2="139.9" y2="1168.8"/>
<text class="xl" x="139.6" y="1179.7" textLength="18.2" lengthAdjust="spacingAndGlyphs">12Z</text>
<line class="tk" x1="190.4" y1="1165.3" x2="190.4" y2="1168.8"/>
<text class="xl" x="190.1" y="1179.7" textLength="18.2" lengthAdjust="spacingAndGlyphs">00Z</text>
<text class="xl" x="190.3" y="1191.5" textLength="31.1" lengthAdjust="spacingAndGlyphs">29SEP</text>
<line class="tk" x1="241.0" y1="1165.3" x2="241.0" y2="1168.8"/>
<text class="xl" x="240.7" y="1179.7" textLength="18.2" lengthAdjust="spacingAndGlyphs">12Z</text>
<line class="tk" x1="291.5" y1="1165.3" x2="291.5" y2="1168.8"/>
<text class="xl" x="291.2" y="1179.7" textLength="18.2" lengthAdjust="spacingAndGlyphs">00Z</text>
<text class="xl" x="291.4" y="1191.5" textLength="31.1" lengthAdjust="spacingAndGlyphs">30SEP</text>
<line class="tk" x1="342.1" y1="1165.3" x2="342.1" y2="1168.8"/>
<text class="xl" x="341.8" y="1179.7" textLength="18.2" lengthAdjust="spacingAndGlyphs">12Z</text>
<line class="tk" x1="392.6" y1="1165.3" x2="392.6" y2="1168.8"/>
<text class="xl" x="392.3" y="1179.7" textLength="18.2" lengthAdjust="spacingAndGlyphs">00Z</text>
<text class="xl" x="392.5" y="1191.5" textLength="24.3" lengthAdjust="spacingAndGlyphs">1OCT</text>
<line class="tk" x1="443.2" y1="1165.3" x2="443.2" y2="1168.8"/>
<text class="xl" x="442.9" y="1179.7" textLength="18.2" lengthAdjust="spacingAndGlyphs">12Z</text>
<text class="xl" x="89.0" y="1203.2" textLength="24" lengthAdjust="spacingAndGlyphs">2024</text>
</g>
</g>
<g>
<text class="pt" y="26.4"><tspan x="1061.9" textLength="30.1" lengthAdjust="spacingAndGlyphs">RAIN</tspan> <tspan x="1100.1" textLength="81.9" lengthAdjust="spacingAndGlyphs">METEOGRAM</tspan> <tspan x="1190.1" textLength="96.7" lengthAdjust="spacingAndGlyphs">[mm/1hours]</tspan> <tspan x="1295.0" textLength="18.9" lengthAdjust="spacingAndGlyphs">for</tspan> <tspan x="1322.0" textLength="45.0" lengthAdjust="spacingAndGlyphs">KIRYAT</tspan> <tspan x="1375.1" textLength="56.7" lengthAdjust="spacingAndGlyphs">SHMONA</tspan></text>
<line class="gd" x1="1060.4" y1="99.1" x2="1436.8" y2="99.1"/>
<line class="gd" x1="1060.4" y1="83.0" x2="1436.8" y2="83.0"/>
<line class="gd" x1="1060.4" y1="66.8" x2="1436.8" y2="66.8"/>
<line class="gd" x1="1060.4" y1="50.7" x2="1436.8" y2="50.7"/>
<line class="gd" x1="1108.0" y1="36.5" x2="1108.0" y2="115.3"/>
<line class="gd" x1="1158.5" y1="36.5" x2="1158.5" y2="115.3"/>
<line class="gd" x1="1209.1" y1="36.5" x2="1209.1" y2="115.3"/>
<line class="gd" x1="1259.6" y1="36.5" x2="1259.6" y2="115.3"/>
<line class="gd" x1="1310.2" y1="36.5" x2="1310.2" y2="115.3"/>
<line class="gd" x1="1360.7" y1="36.5" x2="1360.7" y2="115.3"/>
<line class="gd" x1="1411.3" y1="36.5" x2="1411.3" y2="115.3"/>
<path class="fr" d="M1057.4 115.3V34.5H1436.8V115.3"/>
<path class="frd" d="M1057.4 115.3V34.5H1436.8"/>
<line x1="1057.4" y1="115.3" x2="1436.8" y2="115.3" stroke="#c8b878" stroke-width="1"/>
<line class="bl" x1="1059.4" y1="115.3" x2="1436.8" y2="115.3"/>
<line class="tk" x1="1053.9" y1="115.3" x2="1057.4" y2="115.3"/>
<text class="yl" x="1052.4" y="119.5">0</text>
<line class="tk" x1="1053.9" y1="99.1" x2="1057.4" y2="99.1"/>
<text class="yl" x="1052.4" y="103.3">1</text>
<line class="tk" x1="1053.9" y1="83.0" x2="1057.4" y2="83.0"/>
<text class="yl" x="1052.4" y="87.2">2</text>
<line class="tk" x1="1053.9" y1="66.8" x2="1057.4" y2="66.8"/>
<text class="yl" x="1052.4" y="71.0">3</text>
<line class="tk" x1="1053.9" y1="50.7" x2="1057.4" y2="50.7"/>
<text class="yl" x="1052.4" y="54.9">4</text>
<line class="tk" x1="1053.9" y1="34.5" x2="1057.4" y2="34.5"/>
<text class="yl" x="1052.4" y="38.7">5</text>
<g clip-path="url(#c1057_0)">
<clipPath id="c1057_0"><rect x="997.4000000000001" y="-5.5" width="499.39999999999986" height="155.8"/></clipPath>
<text class="ac" y="149.7"><tspan x="1175.3" textLength="30.9" lengthAdjust="spacingAndGlyphs">RAIN</tspan> <tspan x="1214.5" textLength="31.3" lengthAdjust="spacingAndGlyphs">ACC.</tspan> <tspan x="1254.6" textLength="10.1" lengthAdjust="spacingAndGlyphs">=</tspan> <tspan x="1273.5" textLength="8.3" lengthAdjust="spacingAndGlyphs">0</tspan> <tspan x="1290.1" textLength="26.7" lengthAdjust="spacingAndGlyphs">mm</tspan></text>
<line class="tk" x1="1057.4" y1="115.3" x2="1057.4" y2="118.8"/>
<text class="xl" x="1057.1" y="129.7" textLength="18.2" lengthAdjust="spacingAndGlyphs">00Z</text>
<text class="xl" x="1057.3" y="141.5" textLength="31.1" lengthAdjust="spacingAndGlyphs">28SEP</text>
<line class="tk" x1="1108.0" y1="115.3" x2="1108.0" y2="118.8"/>
<text class="xl" x="1107.7" y="129.7" textLength="18.2" lengthAdjust="spacingAndGlyphs">12Z</text>
<line class="tk" x1="1158.5" y1="115.3" x2="1158.5" y2="118.8"/>
<text class="xl" x="1158.2" y="129.7" textLength="18.2" lengthAdjust="spacingAndGlyphs">00Z</text>
<text class="xl" x="1158.4" y="141.5" textLength="31.1" lengthAdjust="spacingAndGlyphs">29SEP</text>
<line class="tk" x1="1209.1" y1="115.3" x2="1209.1" y2="118.8"/>
<text class="xl" x="1208.8" y="129.7" textLength="18.2" lengthAdjust="spacingAndGlyphs">12Z</text>
<line class="tk" x1="1259.6" y1="115.3" x2="1259.6" y2="118.8"/>
<text class="xl" x="1259.3" y="129.7" textLength="18.2" lengthAdjust="spacingAndGlyphs">00Z</text>
<text class="xl" x="1259.5" y="141.5" textLength="31.1" lengthAdjust="spacingAndGlyphs">30SEP</text>
<line class="tk" x1="1310.2" y1="115.3" x2="1310.2" y2="118.8"/>
<text class="xl" x="1309.9" y="129.7" textLength="18.2" lengthAdjust="spacingAndGlyphs">12Z</text>
<line class="tk" x1="1360.7" y1="115.3" x2="1360.7" y2="118.8"/>
<text class="xl" x="1360.4" y="129.7" textLength="18.2" lengthAdjust="spacingAndGlyphs">00Z</text>
<text class="xl" x="1360.6" y="141.5" textLength="24.3" lengthAdjust="spacingAndGlyphs">1OCT</text>
<line class="tk" x1="1411.3" y1="115.3" x2="1411.3" y2="118.8"/>
<text class="xl" x="1411.0" y="129.7" textLength="18.2" lengthAdjust="spacingAndGlyphs">12Z</text>
<text class="xl" x="1057.1" y="153.2" textLength="24" lengthAdjust="spacingAndGlyphs">2024</text>
</g>
</g>
<g>
<text class="pt" y="176.4"><tspan x="1097.4" textLength="30.1" lengthAdjust="spacingAndGlyphs">RAIN</tspan> <tspan x="1135.7" textLength="81.9" lengthAdjust="spacingAndGlyphs">METEOGRAM</tspan> <tspan x="1225.7" textLength="96.7" lengthAdjust="spacingAndGlyphs">[mm/1hours]</tspan> <tspan x="1330.5" textLength="18.9" lengthAdjust="spacingAndGlyphs">for</tspan> <tspan x="1357.5" textLength="38.7" lengthAdjust="spacingAndGlyphs">TSFAT</tspan></text>
<line class="gd" x1="1060.4" y1="249.1" x2="1436.8" y2="249.1"/>
<line class="gd" x1="1060.4" y1="233.0" x2="1436.8" y2="233.0"/>
<line class="gd" x1="1060.4" y1="216.8" x2="1436.8" y2="216.8"/>
<line class="gd" x1="1060.4" y1="200.7" x2="1436.8" y2="200.7"/>
<line class="gd" x1="1108.0" y1="186.5" x2="1108.0" y2="265.3"/>
<line class="gd" x1="1158.5" y1="186.5" x2="1158.5" y2="265.3"/>
<line class="gd" x1="1209.1" y1="186.5" x2="1209.1" y2="265.3"/>
<line class="gd" x1="1259.6" y1="186.5" x2="1259.6" y2="265.3"/>
<line class="gd" x1="1310.2" y1="186.5" x2="1310.2" y2="265.3"/>
<line class="gd" x1="1360.7" y1="186.5" x2="1360.7" y2="265.3"/>
<line class="gd" x1="1411.3" y1="186.5" x2="1411.3" y2="265.3"/>
<path class="fr" d="M1057.4 265.3V184.5H1436.8V265.3"/>
<path class="frd" d="M1057.4 265.3V184.5H1436.8"/>
<line x1="1057.4" y1="265.3" x2="1436.8" y2="265.3" stroke="#c8b878" stroke-width="1"/>
<line class="bl" x1="1059.4" y1="265.3" x2="1436.8" y2="265.3"/>
<line class="tk" x1="1053.9" y1="265.3" x2="1057.4" y2="265.3"/>
<text class="yl" x="1052.4" y="269.5">0</text>
<line class="tk" x1="1053.9" y1="249.1" x2="1057.4" y2="249.1"/>
<text class="yl" x="1052.4" y="253.3">1</text>
<line class="tk" x1="1053.9" y1="233.0" x2="1057.4" y2="233.0"/>
<text class="yl" x="1052.4" y="237.2">2</text>
<line class="tk" x1="1053.9" y1="216.8" x2="1057.4" y2="216.8"/>
<text class="yl" x="1052.4" y="221.0">3</text>
<line class="tk" x1="1053.9" y1="200.7" x2="1057.4" y2="200.7"/>
<text class="yl" x="1052.4" y="204.9">4</text>
<line class="tk" x1="1053.9" y1="184.5" x2="1057.4" y2="184.5"/>
<text class="yl" x="1052.4" y="188.7">5</text>
<g clip-path="url(#c1057_1)">
<clipPath id="c1057_1"><rect x="997.4000000000001" y="144.5" width="499.39999999999986" height="155.8"/></clipPath>
<text class="ac" y="299.7"><tspan x="1175.3" textLength="30.9" lengthAdjust="spacingAndGlyphs">RAIN</tspan> <tspan x="1214.5" textLength="31.3" lengthAdjust="spacingAndGlyphs">ACC.</tspan> <tspan x="1254.6" textLength="10.1" lengthAdjust="spacingAndGlyphs">=</tspan> <tspan x="1273.5" textLength="8.3" lengthAdjust="spacingAndGlyphs">0</tspan> <tspan x="1290.1" textLength="26.7" lengthAdjust="spacingAndGlyphs">mm</tspan></text>
<line class="tk" x1="1057.4" y1="265.3" x2="1057.4" y2="268.8"/>
<text class="xl" x="1057.1" y="279.7" textLength="18.2" lengthAdjust="spacingAndGlyphs">00Z</text>
<text class="xl" x="1057.3" y="291.5" textLength="31.1" lengthAdjust="spacingAndGlyphs">28SEP</text>
<line class="tk" x1="1108.0" y1="265.3" x2="1108.0" y2="268.8"/>
<text class="xl" x="1107.7" y="279.7" textLength="18.2" lengthAdjust="spacingAndGlyphs">12Z</text>
<line class="tk" x1="1158.5" y1="265.3" x2="1158.5" y2="268.8"/>
<text class="xl" x="1158.2" y="279.7" textLength="18.2" lengthAdjust="spacingAndGlyphs">00Z</text>
<text class="xl" x="1158.4" y="291.5" textLength="31.1" lengthAdjust="spacingAndGlyphs">29SEP</text>
<line class="tk" x1="1209.1" y1="265.3" x2="1209.1" y2="268.8"/>
<text class="xl" x="1208.8" y="279.7" textLength="18.2" lengthAdjust="spacingAndGlyphs">12Z</text>
<line class="tk" x1="1259.6" y1="265.3" x2="1259.6" y2="268.8"/>
<text class="xl" x="1259.3" y="279.7" textLength="18.2" lengthAdjust="spacingAndGlyphs">00Z</text>
<text class="xl" x="1259.5" y="291.5" textLength="31.1" lengthAdjust="spacingAndGlyphs">30SEP</text>
<line class="tk" x1="1310.2" y1="265.3" x2="1310.2" y2="268.8"/>
<text class="xl" x="1309.9" y="279.7" textLength="18.2" lengthAdjust="spacingAndGlyphs">12Z</text>
<line class="tk" x1="1360.7" y1="265.3" x2="1360.7" y2="268.8"/>
<text class="xl" x="1360.4" y="279.7" textLength="18.2" lengthAdjust="spacingAndGlyphs">00Z</text>
<text class="xl" x="1360.6" y="291.5" textLength="24.3" lengthAdjust="spacingAndGlyphs">1OCT</text>
<line class="tk" x1="1411.3" y1="265.3" x2="1411.3" y2="268.8"/>
<text class="xl" x="1411.0" y="279.7" textLength="18.2" lengthAdjust="spacingAndGlyphs">12Z</text>
<text class="xl" x="1057.1" y="303.2" textLength="24" lengthAdjust="spacingAndGlyphs">2024</text>
</g>
</g>
<g>
<text class="pt" y="326.4"><tspan x="1096.3" textLength="30.1" lengthAdjust="spacingAndGlyphs">RAIN</tspan> <tspan x="1134.5" textLength="81.9" lengthAdjust="spacingAndGlyphs">METEOGRAM</tspan> <tspan x="1224.5" textLength="96.7" lengthAdjust="spacingAndGlyphs">[mm/1hours]</tspan> <tspan x="1329.4" textLength="18.9" lengthAdjust="spacingAndGlyphs">for</tspan> <tspan x="1356.4" textLength="40.9" lengthAdjust="spacingAndGlyphs">AFULA</tspan></text>
<line class="gd" x1="1060.4" y1="399.1" x2="1436.8" y2="399.1"/>
<line class="gd" x1="1060.4" y1="383.0" x2="1436.8" y2="383.0"/>
<line class="gd" x1="1060.4" y1="366.8" x2="1436.8" y2="366.8"/>
<line class="gd" x1="1060.4" y1="350.7" x2="1436.8" y2="350.7"/>
<line class="gd" x1="1108.0" y1="336.5" x2="1108.0" y2="415.3"/>
<line class="gd" x1="1158.5" y1="336.5" x2="1158.5" y2="415.3"/>
<line class="gd" x1="1209.1" y1="336.5" x2="1209.1" y2="415.3"/>
<line class="gd" x1="1259.6" y1="336.5" x2="1259.6" y2="415.3"/>
<line class="gd" x1="1310.2" y1="336.5" x2="1310.2" y2="415.3"/>
<line class="gd" x1="1360.7" y1="336.5" x2="1360.7" y2="415.3"/>
<line class="gd" x1="1411.3" y1="336.5" x2="1411.3" y2="415.3"/>
<path class="fr" d="M1057.4 415.3V334.5H1436.8V415.3"/>
<path class="frd" d="M1057.4 415.3V334.5H1436.8"/>
<line x1="1057.4" y1="415.3" x2="1436.8" y2="415.3" stroke="#c8b878" stroke-width="1"/>
<line class="bl" x1="1059.4" y1="415.3" x2="1436.8" y2="415.3"/>
<line class="tk" x1="1053.9" y1="415.3" x2="1057.4" y2="415.3"/>
<text class="yl" x="1052.4" y="419.5">0</text>
<line class="tk" x1="1053.9" y1="399.1" x2="1057.4" y2="399.1"/>
<text class="yl" x="1052.4" y="403.3">1</text>
<line class="tk" x1="1053.9" y1="383.0" x2="1057.4" y2="383.0"/>
<text class="yl" x="1052.4" y="387.2">2</text>
<line class="tk" x1="1053.9" y1="366.8" x2="1057.4" y2="366.8"/>
<text class="yl" x="1052.4" y="371.0">3</text>
<line class="tk" x1="1053.9" y1="350.7" x2="1057.4" y2="350.7"/>
<text class="yl" x="1052.4" y="354.9">4</text>
<line class="tk" x1="1053.9" y1="334.5" x2="1057.4" y2="334.5"/>
<text class="yl" x="1052.4" y="338.7">5</text>
<g clip-path="url(#c1057_2)">
<clipPath id="c1057_2"><rect x="997.4000000000001" y="294.5" width="499.39999999999986" height="155.8"/></clipPath>
<text class="ac" y="449.7"><tspan x="1175.3" textLength="30.9" lengthAdjust="spacingAndGlyphs">RAIN</tspan> <tspan x="1214.5" textLength="31.3" lengthAdjust="spacingAndGlyphs">ACC.</tspan> <tspan x="1254.6" textLength="10.1" lengthAdjust="spacingAndGlyphs">=</tspan> <tspan x="1273.5" textLength="8.3" lengthAdjust="spacingAndGlyphs">0</tspan> <tspan x="1290.1" textLength="26.7" lengthAdjust="spacingAndGlyphs">mm</tspan></text>
<line class="tk" x1="1057.4" y1="415.3" x2="1057.4" y2="418.8"/>
<text class="xl" x="1057.1" y="429.7" textLength="18.2" lengthAdjust="spacingAndGlyphs">00Z</text>
<text class="xl" x="1057.3" y="441.5" textLength="31.1" lengthAdjust="spacingAndGlyphs">28SEP</text>
<line class="tk" x1="1108.0" y1="415.3" x2="1108.0" y2="418.8"/>
<text class="xl" x="1107.7" y="429.7" textLength="18.2" lengthAdjust="spacingAndGlyphs">12Z</text>
<line class="tk" x1="1158.5" y1="415.3" x2="1158.5" y2="418.8"/>
<text class="xl" x="1158.2" y="429.7" textLength="18.2" lengthAdjust="spacingAndGlyphs">00Z</text>
<text class="xl" x="1158.4" y="441.5" textLength="31.1" lengthAdjust="spacingAndGlyphs">29SEP</text>
<line class="tk" x1="1209.1" y1="415.3" x2="1209.1" y2="418.8"/>
<text class="xl" x="1208.8" y="429.7" textLength="18.2" lengthAdjust="spacingAndGlyphs">12Z</text>
<line class="tk" x1="1259.6" y1="415.3" x2="1259.6" y2="418.8"/>
<text class="xl" x="1259.3" y="429.7" textLength="18.2" lengthAdjust="spacingAndGlyphs">00Z</text>
<text class="xl" x="1259.5" y="441.5" textLength="31.1" lengthAdjust="spacingAndGlyphs">30SEP</text>
<line class="tk" x1="1310.2" y1="415.3" x2="1310.2" y2="418.8"/>
<text class="xl" x="1309.9" y="429.7" textLength="18.2" lengthAdjust="spacingAndGlyphs">12Z</text>
<line class="tk" x1="1360.7" y1="415.3" x2="1360.7" y2="418.8"/>
<text class="xl" x="1360.4" y="429.7" textLength="18.2" lengthAdjust="spacingAndGlyphs">00Z</text>
<text class="xl" x="1360.6" y="441.5" textLength="24.3" lengthAdjust="spacingAndGlyphs">1OCT</text>
<line class="tk" x1="1411.3" y1="415.3" x2="1411.3" y2="418.8"/>
<text class="xl" x="1411.0" y="429.7" textLength="18.2" lengthAdjust="spacingAndGlyphs">12Z</text>
<text class="xl" x="1057.1" y="453.2" textLength="24" lengthAdjust="spacingAndGlyphs">2024</text>
</g>
</g>
<g>
<text class="pt" y="476.4"><tspan x="1078.5" textLength="30.1" lengthAdjust="spacingAndGlyphs">RAIN</tspan> <tspan x="1116.8" textLength="81.9" lengthAdjust="spacingAndGlyphs">METEOGRAM</tspan> <tspan x="1206.8" textLength="96.7" lengthAdjust="spacingAndGlyphs">[mm/1hours]</tspan> <tspan x="1311.6" textLength="18.9" lengthAdjust="spacingAndGlyphs">for</tspan> <tspan x="1338.6" textLength="32.4" lengthAdjust="spacingAndGlyphs">BEYT</tspan> <tspan x="1379.1" textLength="36.0" lengthAdjust="spacingAndGlyphs">SHAN</tspan></text>
<line class="gd" x1="1060.4" y1="549.1" x2="1436.8" y2="549.1"/>
<line class="gd" x1="1060.4" y1="533.0" x2="1436.8" y2="533.0"/>
<line class="gd" x1="1060.4" y1="516.8" x2="1436.8" y2="516.8"/>
<line class="gd" x1="1060.4" y1="500.7" x2="1436.8" y2="500.7"/>
<line class="gd" x1="1108.0" y1="486.5" x2="1108.0" y2="565.3"/>
<line class="gd" x1="1158.5" y1="486.5" x2="1158.5" y2="565.3"/>
<line class="gd" x1="1209.1" y1="486.5" x2="1209.1" y2="565.3"/>
<line class="gd" x1="1259.6" y1="486.5" x2="1259.6" y2="565.3"/>
<line class="gd" x1="1310.2" y1="486.5" x2="1310.2" y2="565.3"/>
<line class="gd" x1="1360.7" y1="486.5" x2="1360.7" y2="565.3"/>
<line class="gd" x1="1411.3" y1="486.5" x2="1411.3" y2="565.3"/>
<path class="fr" d="M1057.4 565.3V484.5H1436.8V565.3"/>
<path class="frd" d="M1057.4 565.3V484.5H1436.8"/>
<line x1="1057.4" y1="565.3" x2="1436.8" y2="565.3" stroke="#c8b878" stroke-width="1"/>
<line class="bl" x1="1059.4" y1="565.3" x2="1436.8" y2="565.3"/>
<line class="tk" x1="1053.9" y1="565.3" x2="1057.4" y2="565.3"/>
<text class="yl" x="1052.4" y="569.5">0</text>
<line class="tk" x1="1053.9" y1="549.1" x2="1057.4" y2="549.1"/>
<text class="yl" x="1052.4" y="553.3">1</text>
<line class="tk" x1="1053.9" y1="533.0" x2="1057.4" y2="533.0"/>
<text class="yl" x="1052.4" y="537.2">2</text>
<line class="tk" x1="1053.9" y1="516.8" x2="1057.4" y2="516.8"/>
<text class="yl" x="1052.4" y="521.0">3</text>
<line class="tk" x1="1053.9" y1="500.7" x2="1057.4" y2="500.7"/>
<text class="yl" x="1052.4" y="504.9">4</text>
<line class="tk" x1="1053.9" y1="484.5" x2="1057.4" y2="484.5"/>
<text class="yl" x="1052.4" y="488.7">5</text>
<g clip-path="url(#c1057_3)">
<clipPath id="c1057_3"><rect x="997.4000000000001" y="444.5" width="499.39999999999986" height="155.8"/></clipPath>
<text class="ac" y="599.7"><tspan x="1175.3" textLength="30.9" lengthAdjust="spacingAndGlyphs">RAIN</tspan> <tspan x="1214.5" textLength="31.3" lengthAdjust="spacingAndGlyphs">ACC.</tspan> <tspan x="1254.6" textLength="10.1" lengthAdjust="spacingAndGlyphs">=</tspan> <tspan x="1273.5" textLength="8.3" lengthAdjust="spacingAndGlyphs">0</tspan> <tspan x="1290.1" textLength="26.7" lengthAdjust="spacingAndGlyphs">mm</tspan></text>
<line class="tk" x1="1057.4" y1="565.3" x2="1057.4" y2="568.8"/>
<text class="xl" x="1057.1" y="579.7" textLength="18.2" lengthAdjust="spacingAndGlyphs">00Z</text>
<text class="xl" x="1057.3" y="591.5" textLength="31.1" lengthAdjust="spacingAndGlyphs">28SEP</text>
<line class="tk" x1="1108.0" y1="565.3" x2="1108.0" y2="568.8"/>
<text class="xl" x="1107.7" y="579.7" textLength="18.2" lengthAdjust="spacingAndGlyphs">12Z</text>
<line class="tk" x1="1158.5" y1="565.3" x2="1158.5" y2="568.8"/>
<text class="xl" x="1158.2" y="579.7" textLength="18.2" lengthAdjust="spacingAndGlyphs">00Z</text>
<text class="xl" x="1158.4" y="591.5" textLength="31.1" lengthAdjust="spacingAndGlyphs">29SEP</text>
<line class="tk" x1="1209.1" y1="565.3" x2="1209.1" y2="568.8"/>
<text class="xl" x="1208.8" y="579.7" textLength="18.2" lengthAdjust="spacingAndGlyphs">12Z</text>
<line class="tk" x1="1259.6" y1="565.3" x2="1259.6" y2="568.8"/>
<text class="xl" x="1259.3" y="579.7" textLength="18.2" lengthAdjust="spacingAndGlyphs">00Z</text>
<text class="xl" x="1259.5" y="591.5" textLength="31.1" lengthAdjust="spacingAndGlyphs">30SEP</text>
<line class="tk" x1="1310.2" y1="565.3" x2="1310.2" y2="568.8"/>
<text class="xl" x="1309.9" y="579.7" textLength="18.2" lengthAdjust="spacingAndGlyphs">12Z</text>
<line class="tk" x1="1360.7" y1="565.3" x2="1360.7" y2="568.8"/>
<text class="xl" x="1360.4" y="579.7" textLength="18.2" lengthAdjust="spacingAndGlyphs">00Z</text>
<text class="xl" x="1360.6" y="591.5" textLength="24.3" lengthAdjust="spacingAndGlyphs">1OCT</text>
<line class="tk" x1="1411.3" y1="565.3" x2="1411.3" y2="568.8"/>
<text class="xl" x="1411.0" y="579.7" textLength="18.2" lengthAdjust="spacingAndGlyphs">12Z</text>
<text class="xl" x="1057.1" y="603.2" textLength="24" lengthAdjust="spacingAndGlyphs">2024</text>
</g>
</g>
<g>
<text class="pt" y="626.4"><tspan x="1066.6" textLength="30.1" lengthAdjust="spacingAndGlyphs">RAIN</tspan> <tspan x="1104.8" textLength="81.9" lengthAdjust="spacingAndGlyphs">METEOGRAM</tspan> <tspan x="1194.8" textLength="96.7" lengthAdjust="spacingAndGlyphs">[mm/1hours]</tspan> <tspan x="1299.7" textLength="18.9" lengthAdjust="spacingAndGlyphs">for</tspan> <tspan x="1326.7" textLength="100.3" lengthAdjust="spacingAndGlyphs">YERUSHALAYIM</tspan></text>
<line class="gd" x1="1060.4" y1="699.1" x2="1436.8" y2="699.1"/>
<line class="gd" x1="1060.4" y1="683.0" x2="1436.8" y2="683.0"/>
<line class="gd" x1="1060.4" y1="666.8" x2="1436.8" y2="666.8"/>
<line class="gd" x1="1060.4" y1="650.7" x2="1436.8" y2="650.7"/>
<line class="gd" x1="1108.0" y1="636.5" x2="1108.0" y2="715.3"/>
<line class="gd" x1="1158.5" y1="636.5" x2="1158.5" y2="715.3"/>
<line class="gd" x1="1209.1" y1="636.5" x2="1209.1" y2="715.3"/>
<line class="gd" x1="1259.6" y1="636.5" x2="1259.6" y2="715.3"/>
<line class="gd" x1="1310.2" y1="636.5" x2="1310.2" y2="715.3"/>
<line class="gd" x1="1360.7" y1="636.5" x2="1360.7" y2="715.3"/>
<line class="gd" x1="1411.3" y1="636.5" x2="1411.3" y2="715.3"/>
<path class="fr" d="M1057.4 715.3V634.5H1436.8V715.3"/>
<path class="frd" d="M1057.4 715.3V634.5H1436.8"/>
<line x1="1057.4" y1="715.3" x2="1436.8" y2="715.3" stroke="#c8b878" stroke-width="1"/>
<line class="bl" x1="1059.4" y1="715.3" x2="1436.8" y2="715.3"/>
<line class="tk" x1="1053.9" y1="715.3" x2="1057.4" y2="715.3"/>
<text class="yl" x="1052.4" y="719.5">0</text>
<line class="tk" x1="1053.9" y1="699.1" x2="1057.4" y2="699.1"/>
<text class="yl" x="1052.4" y="703.3">1</text>
<line class="tk" x1="1053.9" y1="683.0" x2="1057.4" y2="683.0"/>
<text class="yl" x="1052.4" y="687.2">2</text>
<line class="tk" x1="1053.9" y1="666.8" x2="1057.4" y2="666.8"/>
<text class="yl" x="1052.4" y="671.0">3</text>
<line class="tk" x1="1053.9" y1="650.7" x2="1057.4" y2="650.7"/>
<text class="yl" x="1052.4" y="654.9">4</text>
<line class="tk" x1="1053.9" y1="634.5" x2="1057.4" y2="634.5"/>
<text class="yl" x="1052.4" y="638.7">5</text>
<g clip-path="url(#c1057_4)">
<clipPath id="c1057_4"><rect x="997.4000000000001" y="594.5" width="499.39999999999986" height="155.8"/></clipPath>
<text class="ac" y="749.7"><tspan x="1175.3" textLength="30.9" lengthAdjust="spacingAndGlyphs">RAIN</tspan> <tspan x="1214.5" textLength="31.3" lengthAdjust="spacingAndGlyphs">ACC.</tspan> <tspan x="1254.6" textLength="10.1" lengthAdjust="spacingAndGlyphs">=</tspan> <tspan x="1273.5" textLength="8.3" lengthAdjust="spacingAndGlyphs">0</tspan> <tspan x="1290.1" textLength="26.7" lengthAdjust="spacingAndGlyphs">mm</tspan></text>
<line class="tk" x1="1057.4" y1="715.3" x2="1057.4" y2="718.8"/>
<text class="xl" x="1057.1" y="729.7" textLength="18.2" lengthAdjust="spacingAndGlyphs">00Z</text>
<text class="xl" x="1057.3" y="741.5" textLength="31.1" lengthAdjust="spacingAndGlyphs">28SEP</text>
<line class="tk" x1="1108.0" y1="715.3" x2="1108.0" y2="718.8"/>
<text class="xl" x="1107.7" y="729.7" textLength="18.2" lengthAdjust="spacingAndGlyphs">12Z</text>
<line class="tk" x1="1158.5" y1="715.3" x2="1158.5" y2="718.8"/>
<text class="xl" x="1158.2" y="729.7" textLength="18.2" lengthAdjust="spacingAndGlyphs">00Z</text>
<text class="xl" x="1158.4" y="741.5" textLength="31.1" lengthAdjust="spacingAndGlyphs">29SEP</text>
<line class="tk" x1="1209.1" y1="715.3" x2="1209.1" y2="718.8"/>
<text class="xl" x="1208.8" y="729.7" textLength="18.2" lengthAdjust="spacingAndGlyphs">12Z</text>
<line class="tk" x1="1259.6" y1="715.3" x2="1259.6" y2="718.8"/>
<text class="xl" x="1259.3" y="729.7" textLength="18.2" lengthAdjust="spacingAndGlyphs">00Z</text>
<text class="xl" x="1259.5" y="741.5" textLength="31.1" lengthAdjust="spacingAndGlyphs">30SEP</text>
<line class="tk" x1="1310.2" y1="715.3" x2="1310.2" y2="718.8"/>
<text class="xl" x="1309.9" y="729.7" textLength="18.2" lengthAdjust="spacingAndGlyphs">12Z</text>
<line class="tk" x1="1360.7" y1="715.3" x2="1360.7" y2="718.8"/>
<text class="xl" x="1360.4" y="729.7" textLength="18.2" lengthAdjust="spacingAndGlyphs">00Z</text>
<text class="xl" x="1360.6" y="741.5" textLength="24.3" lengthAdjust="spacingAndGlyphs">1OCT</text>
<line class="tk" x1="1411.3" y1="715.3" x2="1411.3" y2="718.8"/>
<text class="xl" x="1411.0" y="729.7" textLength="18.2" lengthAdjust="spacingAndGlyphs">12Z</text>
<text class="xl" x="1057.1" y="753.2" textLength="24" lengthAdjust="spacingAndGlyphs">2024</text>
</g>
</g>
<g>
<text class="pt" y="776.4"><tspan x="1078.3" textLength="30.1" lengthAdjust="spacingAndGlyphs">RAIN</tspan> <tspan x="1116.5" textLength="81.9" lengthAdjust="spacingAndGlyphs">METEOGRAM</tspan> <tspan x="1206.5" textLength="96.7" lengthAdjust="spacingAndGlyphs">[mm/1hours]</tspan> <tspan x="1311.4" textLength="18.9" lengthAdjust="spacingAndGlyphs">for</tspan> <tspan x="1338.4" textLength="45.0" lengthAdjust="spacingAndGlyphs">KIRYAT</tspan> <tspan x="1391.5" textLength="23.8" lengthAdjust="spacingAndGlyphs">GAT</tspan></text>
<line class="gd" x1="1060.4" y1="849.1" x2="1436.8" y2="849.1"/>
<line class="gd" x1="1060.4" y1="833.0" x2="1436.8" y2="833.0"/>
<line class="gd" x1="1060.4" y1="816.8" x2="1436.8" y2="816.8"/>
<line class="gd" x1="1060.4" y1="800.7" x2="1436.8" y2="800.7"/>
<line class="gd" x1="1108.0" y1="786.5" x2="1108.0" y2="865.3"/>
<line class="gd" x1="1158.5" y1="786.5" x2="1158.5" y2="865.3"/>
<line class="gd" x1="1209.1" y1="786.5" x2="1209.1" y2="865.3"/>
<line class="gd" x1="1259.6" y1="786.5" x2="1259.6" y2="865.3"/>
<line class="gd" x1="1310.2" y1="786.5" x2="1310.2" y2="865.3"/>
<line class="gd" x1="1360.7" y1="786.5" x2="1360.7" y2="865.3"/>
<line class="gd" x1="1411.3" y1="786.5" x2="1411.3" y2="865.3"/>
<path class="fr" d="M1057.4 865.3V784.5H1436.8V865.3"/>
<path class="frd" d="M1057.4 865.3V784.5H1436.8"/>
<line x1="1057.4" y1="865.3" x2="1436.8" y2="865.3" stroke="#c8b878" stroke-width="1"/>
<line class="bl" x1="1059.4" y1="865.3" x2="1436.8" y2="865.3"/>
<path d="M1384.2 865.3V853.9" stroke="#2a3cff" stroke-width="1.8" fill="none"/>
<path d="M1384.2 865.3H1436.8" stroke="#2a3cff" stroke-width="1.2" fill="none"/>
<line class="tk" x1="1053.9" y1="865.3" x2="1057.4" y2="865.3"/>
<text class="yl" x="1052.4" y="869.5">0</text>
<line class="tk" x1="1053.9" y1="849.1" x2="1057.4" y2="849.1"/>
<text class="yl" x="1052.4" y="853.3">1</text>
<line class="tk" x1="1053.9" y1="833.0" x2="1057.4" y2="833.0"/>
<text class="yl" x="1052.4" y="837.2">2</text>
<line class="tk" x1="1053.9" y1="816.8" x2="1057.4" y2="816.8"/>
<text class="yl" x="1052.4" y="821.0">3</text>
<line class="tk" x1="1053.9" y1="800.7" x2="1057.4" y2="800.7"/>
<text class="yl" x="1052.4" y="804.9">4</text>
<line class="tk" x1="1053.9" y1="784.5" x2="1057.4" y2="784.5"/>
<text class="yl" x="1052.4" y="788.7">5</text>
<g clip-path="url(#c1057_5)">
<clipPath id="c1057_5"><rect x="997.4000000000001" y="744.5" width="499.39999999999986" height="155.8"/></clipPath>
<text class="ac" y="899.7"><tspan x="1175.3" textLength="30.9" lengthAdjust="spacingAndGlyphs">RAIN</tspan> <tspan x="1214.5" textLength="31.3" lengthAdjust="spacingAndGlyphs">ACC.</tspan> <tspan x="1254.6" textLength="10.1" lengthAdjust="spacingAndGlyphs">=</tspan> <tspan x="1273.5" textLength="22.1" lengthAdjust="spacingAndGlyphs">0.7</tspan> <tspan x="1303.9" textLength="26.7" lengthAdjust="spacingAndGlyphs">mm</tspan></text>
<line class="tk" x1="1057.4" y1="865.3" x2="1057.4" y2="868.8"/>
<text class="xl" x="1057.1" y="879.7" textLength="18.2" lengthAdjust="spacingAndGlyphs">00Z</text>
<text class="xl" x="1057.3" y="891.5" textLength="31.1" lengthAdjust="spacingAndGlyphs">28SEP</text>
<line class="tk" x1="1108.0" y1="865.3" x2="1108.0" y2="868.8"/>
<text class="xl" x="1107.7" y="879.7" textLength="18.2" lengthAdjust="spacingAndGlyphs">12Z</text>
<line class="tk" x1="1158.5" y1="865.3" x2="1158.5" y2="868.8"/>
<text class="xl" x="1158.2" y="879.7" textLength="18.2" lengthAdjust="spacingAndGlyphs">00Z</text>
<text class="xl" x="1158.4" y="891.5" textLength="31.1" lengthAdjust="spacingAndGlyphs">29SEP</text>
<line class="tk" x1="1209.1" y1="865.3" x2="1209.1" y2="868.8"/>
<text class="xl" x="1208.8" y="879.7" textLength="18.2" lengthAdjust="spacingAndGlyphs">12Z</text>
<line class="tk" x1="1259.6" y1="865.3" x2="1259.6" y2="868.8"/>
<text class="xl" x="1259.3" y="879.7" textLength="18.2" lengthAdjust="spacingAndGlyphs">00Z</text>
<text class="xl" x="1259.5" y="891.5" textLength="31.1" lengthAdjust="spacingAndGlyphs">30SEP</text>
<line class="tk" x1="1310.2" y1="865.3" x2="1310.2" y2="868.8"/>
<text class="xl" x="1309.9" y="879.7" textLength="18.2" lengthAdjust="spacingAndGlyphs">12Z</text>
<line class="tk" x1="1360.7" y1="865.3" x2="1360.7" y2="868.8"/>
<text class="xl" x="1360.4" y="879.7" textLength="18.2" lengthAdjust="spacingAndGlyphs">00Z</text>
<text class="xl" x="1360.6" y="891.5" textLength="24.3" lengthAdjust="spacingAndGlyphs">1OCT</text>
<line class="tk" x1="1411.3" y1="865.3" x2="1411.3" y2="868.8"/>
<text class="xl" x="1411.0" y="879.7" textLength="18.2" lengthAdjust="spacingAndGlyphs">12Z</text>
<text class="xl" x="1057.1" y="903.2" textLength="24" lengthAdjust="spacingAndGlyphs">2024</text>
</g>
</g>
<g>
<text class="pt" y="926.4"><tspan x="1073.8" textLength="30.1" lengthAdjust="spacingAndGlyphs">RAIN</tspan> <tspan x="1112.0" textLength="81.9" lengthAdjust="spacingAndGlyphs">METEOGRAM</tspan> <tspan x="1202.0" textLength="96.7" lengthAdjust="spacingAndGlyphs">[mm/1hours]</tspan> <tspan x="1306.9" textLength="18.9" lengthAdjust="spacingAndGlyphs">for</tspan> <tspan x="1333.9" textLength="35.1" lengthAdjust="spacingAndGlyphs">BEER</tspan> <tspan x="1377.1" textLength="42.7" lengthAdjust="spacingAndGlyphs">SHEVA</tspan></text>
<line class="gd" x1="1060.4" y1="999.1" x2="1436.8" y2="999.1"/>
<line class="gd" x1="1060.4" y1="983.0" x2="1436.8" y2="983.0"/>
<line class="gd" x1="1060.4" y1="966.8" x2="1436.8" y2="966.8"/>
<line class="gd" x1="1060.4" y1="950.7" x2="1436.8" y2="950.7"/>
<line class="gd" x1="1108.0" y1="936.5" x2="1108.0" y2="1015.3"/>
<line class="gd" x1="1158.5" y1="936.5" x2="1158.5" y2="1015.3"/>
<line class="gd" x1="1209.1" y1="936.5" x2="1209.1" y2="1015.3"/>
<line class="gd" x1="1259.6" y1="936.5" x2="1259.6" y2="1015.3"/>
<line class="gd" x1="1310.2" y1="936.5" x2="1310.2" y2="1015.3"/>
<line class="gd" x1="1360.7" y1="936.5" x2="1360.7" y2="1015.3"/>
<line class="gd" x1="1411.3" y1="936.5" x2="1411.3" y2="1015.3"/>
<path class="fr" d="M1057.4 1015.3V934.5H1436.8V1015.3"/>
<path class="frd" d="M1057.4 1015.3V934.5H1436.8"/>
<line x1="1057.4" y1="1015.3" x2="1436.8" y2="1015.3" stroke="#c8b878" stroke-width="1"/>
<line class="bl" x1="1059.4" y1="1015.3" x2="1436.8" y2="1015.3"/>
<line class="tk" x1="1053.9" y1="1015.3" x2="1057.4" y2="1015.3"/>
<text class="yl" x="1052.4" y="1019.5">0</text>
<line class="tk" x1="1053.9" y1="999.1" x2="1057.4" y2="999.1"/>
<text class="yl" x="1052.4" y="1003.3">1</text>
<line class="tk" x1="1053.9" y1="983.0" x2="1057.4" y2="983.0"/>
<text class="yl" x="1052.4" y="987.2">2</text>
<line class="tk" x1="1053.9" y1="966.8" x2="1057.4" y2="966.8"/>
<text class="yl" x="1052.4" y="971.0">3</text>
<line class="tk" x1="1053.9" y1="950.7" x2="1057.4" y2="950.7"/>
<text class="yl" x="1052.4" y="954.9">4</text>
<line class="tk" x1="1053.9" y1="934.5" x2="1057.4" y2="934.5"/>
<text class="yl" x="1052.4" y="938.7">5</text>
<g clip-path="url(#c1057_6)">
<clipPath id="c1057_6"><rect x="997.4000000000001" y="894.5" width="499.39999999999986" height="155.8"/></clipPath>
<text class="ac" y="1049.7"><tspan x="1175.3" textLength="30.9" lengthAdjust="spacingAndGlyphs">RAIN</tspan> <tspan x="1214.5" textLength="31.3" lengthAdjust="spacingAndGlyphs">ACC.</tspan> <tspan x="1254.6" textLength="10.1" lengthAdjust="spacingAndGlyphs">=</tspan> <tspan x="1273.5" textLength="8.3" lengthAdjust="spacingAndGlyphs">0</tspan> <tspan x="1290.1" textLength="26.7" lengthAdjust="spacingAndGlyphs">mm</tspan></text>
<line class="tk" x1="1057.4" y1="1015.3" x2="1057.4" y2="1018.8"/>
<text class="xl" x="1057.1" y="1029.7" textLength="18.2" lengthAdjust="spacingAndGlyphs">00Z</text>
<text class="xl" x="1057.3" y="1041.5" textLength="31.1" lengthAdjust="spacingAndGlyphs">28SEP</text>
<line class="tk" x1="1108.0" y1="1015.3" x2="1108.0" y2="1018.8"/>
<text class="xl" x="1107.7" y="1029.7" textLength="18.2" lengthAdjust="spacingAndGlyphs">12Z</text>
<line class="tk" x1="1158.5" y1="1015.3" x2="1158.5" y2="1018.8"/>
<text class="xl" x="1158.2" y="1029.7" textLength="18.2" lengthAdjust="spacingAndGlyphs">00Z</text>
<text class="xl" x="1158.4" y="1041.5" textLength="31.1" lengthAdjust="spacingAndGlyphs">29SEP</text>
<line class="tk" x1="1209.1" y1="1015.3" x2="1209.1" y2="1018.8"/>
<text class="xl" x="1208.8" y="1029.7" textLength="18.2" lengthAdjust="spacingAndGlyphs">12Z</text>
<line class="tk" x1="1259.6" y1="1015.3" x2="1259.6" y2="1018.8"/>
<text class="xl" x="1259.3" y="1029.7" textLength="18.2" lengthAdjust="spacingAndGlyphs">00Z</text>
<text class="xl" x="1259.5" y="1041.5" textLength="31.1" lengthAdjust="spacingAndGlyphs">30SEP</text>
<line class="tk" x1="1310.2" y1="1015.3" x2="1310.2" y2="1018.8"/>
<text class="xl" x="1309.9" y="1029.7" textLength="18.2" lengthAdjust="spacingAndGlyphs">12Z</text>
<line class="tk" x1="1360.7" y1="1015.3" x2="1360.7" y2="1018.8"/>
<text class="xl" x="1360.4" y="1029.7" textLength="18.2" lengthAdjust="spacingAndGlyphs">00Z</text>
<text class="xl" x="1360.6" y="1041.5" textLength="24.3" lengthAdjust="spacingAndGlyphs">1OCT</text>
<line class="tk" x1="1411.3" y1="1015.3" x2="1411.3" y2="1018.8"/>
<text class="xl" x="1411.0" y="1029.7" textLength="18.2" lengthAdjust="spacingAndGlyphs">12Z</text>
<text class="xl" x="1057.1" y="1053.2" textLength="24" lengthAdjust="spacingAndGlyphs">2024</text>
</g>
</g>
<g>
<text class="pt" y="1076.4"><tspan x="1065.2" textLength="30.1" lengthAdjust="spacingAndGlyphs">RAIN</tspan> <tspan x="1103.5" textLength="81.9" lengthAdjust="spacingAndGlyphs">METEOGRAM</tspan> <tspan x="1193.5" textLength="96.7" lengthAdjust="spacingAndGlyphs">[mm/1hours]</tspan> <tspan x="1298.3" textLength="18.9" lengthAdjust="spacingAndGlyphs">for</tspan> <tspan x="1325.3" textLength="47.7" lengthAdjust="spacingAndGlyphs">MITSPE</tspan> <tspan x="1381.1" textLength="47.2" lengthAdjust="spacingAndGlyphs">RAMON</tspan></text>
<line class="gd" x1="1060.4" y1="1149.1" x2="1436.8" y2="1149.1"/>
<line class="gd" x1="1060.4" y1="1133.0" x2="1436.8" y2="1133.0"/>
<line class="gd" x1="1060.4" y1="1116.8" x2="1436.8" y2="1116.8"/>
<line class="gd" x1="1060.4" y1="1100.7" x2="1436.8" y2="1100.7"/>
<line class="gd" x1="1108.0" y1="1086.5" x2="1108.0" y2="1165.3"/>
<line class="gd" x1="1158.5" y1="1086.5" x2="1158.5" y2="1165.3"/>
<line class="gd" x1="1209.1" y1="1086.5" x2="1209.1" y2="1165.3"/>
<line class="gd" x1="1259.6" y1="1086.5" x2="1259.6" y2="1165.3"/>
<line class="gd" x1="1310.2" y1="1086.5" x2="1310.2" y2="1165.3"/>
<line class="gd" x1="1360.7" y1="1086.5" x2="1360.7" y2="1165.3"/>
<line class="gd" x1="1411.3" y1="1086.5" x2="1411.3" y2="1165.3"/>
<path class="fr" d="M1057.4 1165.3V1084.5H1436.8V1165.3"/>
<path class="frd" d="M1057.4 1165.3V1084.5H1436.8"/>
<line x1="1057.4" y1="1165.3" x2="1436.8" y2="1165.3" stroke="#c8b878" stroke-width="1"/>
<line class="bl" x1="1059.4" y1="1165.3" x2="1436.8" y2="1165.3"/>
<line class="tk" x1="1053.9" y1="1165.3" x2="1057.4" y2="1165.3"/>
<text class="yl" x="1052.4" y="1169.5">0</text>
<line class="tk" x1="1053.9" y1="1149.1" x2="1057.4" y2="1149.1"/>
<text class="yl" x="1052.4" y="1153.3">1</text>
<line class="tk" x1="1053.9" y1="1133.0" x2="1057.4" y2="1133.0"/>
<text class="yl" x="1052.4" y="1137.2">2</text>
<line class="tk" x1="1053.9" y1="1116.8" x2="1057.4" y2="1116.8"/>
<text class="yl" x="1052.4" y="1121.0">3</text>
<line class="tk" x1="1053.9" y1="1100.7" x2="1057.4" y2="1100.7"/>
<text class="yl" x="1052.4" y="1104.9">4</text>
<line class="tk" x1="1053.9" y1="1084.5" x2="1057.4" y2="1084.5"/>
<text class="yl" x="1052.4" y="1088.7">5</text>
<g clip-path="url(#c1057_7)">
<clipPath id="c1057_7"><rect x="997.4000000000001" y="1044.5" width="499.39999999999986" height="155.8"/></clipPath>
<text class="ac" y="1199.7"><tspan x="1175.3" textLength="30.9" lengthAdjust="spacingAndGlyphs">RAIN</tspan> <tspan x="1214.5" textLength="31.3" lengthAdjust="spacingAndGlyphs">ACC.</tspan> <tspan x="1254.6" textLength="10.1" lengthAdjust="spacingAndGlyphs">=</tspan> <tspan x="1273.5" textLength="8.3" lengthAdjust="spacingAndGlyphs">0</tspan> <tspan x="1290.1" textLength="26.7" lengthAdjust="spacingAndGlyphs">mm</tspan></text>
<line class="tk" x1="1057.4" y1="1165.3" x2="1057.4" y2="1168.8"/>
<text class="xl" x="1057.1" y="1179.7" textLength="18.2" lengthAdjust="spacingAndGlyphs">00Z</text>
<text class="xl" x="1057.3" y="1191.5" textLength="31.1" lengthAdjust="spacingAndGlyphs">28SEP</text>
<line class="tk" x1="1108.0" y1="1165.3" x2="1108.0" y2="1168.8"/>
<text class="xl" x="1107.7" y="1179.7" textLength="18.2" lengthAdjust="spacingAndGlyphs">12Z</text>
<line class="tk" x1="1158.5" y1="1165.3" x2="1158.5" y2="1168.8"/>
<text class="xl" x="1158.2" y="1179.7" textLength="18.2" lengthAdjust="spacingAndGlyphs">00Z</text>
<text class="xl" x="1158.4" y="1191.5" textLength="31.1" lengthAdjust="spacingAndGlyphs">29SEP</text>
<line class="tk" x1="1209.1" y1="1165.3" x2="1209.1" y2="1168.8"/>
<text class="xl" x="1208.8" y="1179.7" textLength="18.2" lengthAdjust="spacingAndGlyphs">12Z</text>
<line class="tk" x1="1259.6" y1="1165.3" x2="1259.6" y2="1168.8"/>
<text class="xl" x="1259.3" y="1179.7" textLength="18.2" lengthAdjust="spacingAndGlyphs">00Z</text>
<text class="xl" x="1259.5" y="1191.5" textLength="31.1" lengthAdjust="spacingAndGlyphs">30SEP</text>
<line class="tk" x1="1310.2" y1="1165.3" x2="1310.2" y2="1168.8"/>
<text class="xl" x="1309.9" y="1179.7" textLength="18.2" lengthAdjust="spacingAndGlyphs">12Z</text>
<line class="tk" x1="1360.7" y1="1165.3" x2="1360.7" y2="1168.8"/>
<text class="xl" x="1360.4" y="1179.7" textLength="18.2" lengthAdjust="spacingAndGlyphs">00Z</text>
<text class="xl" x="1360.6" y="1191.5" textLength="24.3" lengthAdjust="spacingAndGlyphs">1OCT</text>
<line class="tk" x1="1411.3" y1="1165.3" x2="1411.3" y2="1168.8"/>
<text class="xl" x="1411.0" y="1179.7" textLength="18.2" lengthAdjust="spacingAndGlyphs">12Z</text>
<text class="xl" x="1057.1" y="1203.2" textLength="24" lengthAdjust="spacingAndGlyphs">2024</text>
</g>
</g>
<text class="mt" y="30.6"><tspan x="495.0" textLength="50.6" lengthAdjust="spacingAndGlyphs">RAIN</tspan> <tspan x="559.2" textLength="51.3" lengthAdjust="spacingAndGlyphs">ACC.</tspan> <tspan x="624.1" textLength="187.2" lengthAdjust="spacingAndGlyphs">28SEP2024:00Z</tspan><tspan x="812.6" textLength="19.4" lengthAdjust="spacingAndGlyphs">-</tspan><tspan x="832.5" textLength="186.5" lengthAdjust="spacingAndGlyphs">01OCT2024:18Z</tspan></text>
<text class="st" y="64.0"><tspan x="612.0" textLength="59.2" lengthAdjust="spacingAndGlyphs">COSMO</tspan><tspan x="672.1" textLength="14.2" lengthAdjust="spacingAndGlyphs">-</tspan><tspan x="686.7" textLength="27.7" lengthAdjust="spacingAndGlyphs">IMS</tspan> <tspan x="724.3" textLength="27.1" lengthAdjust="spacingAndGlyphs">run</tspan> <tspan x="761.4" textLength="98.5" lengthAdjust="spacingAndGlyphs">28SEP2024</tspan> <tspan x="869.9" textLength="32.1" lengthAdjust="spacingAndGlyphs">00Z</tspan></text>
<clipPath id="mapclip"><rect x="591.0" y="105.8" width="318.0" height="988.0"/></clipPath>
<g clip-path="url(#mapclip)">
<g fill="#78ffff"><path d="M590.0 105.0C590.0 105.0 630.0 105.6 630.0 105.6C630.0 105.6 622.4 110.8 617.5 113.8C612.9 116.5 609.5 118.4 605.0 120.6C601.3 122.5 597.5 124.0 595.0 125.0C593.1 125.8 590.0 126.9 590.0 126.9C590.0 126.9 590.0 105.0 590.0 105.0Z"/><path d="M590.0 144.4C593.0 138.9 599.3 138.5 605.0 135.0C611.2 131.2 616.5 128.3 621.2 125.0C624.8 122.5 627.5 120.2 630.0 117.5C631.9 115.5 632.5 113.6 633.8 111.2C634.8 109.2 634.0 106.1 636.2 105.6C639.3 105.0 660.0 105.6 660.0 105.6C660.0 105.6 653.5 110.4 650.0 112.5C647.3 114.2 642.5 116.2 642.5 116.2C642.5 116.2 645.4 120.2 646.2 121.9C646.9 123.2 647.6 124.4 646.9 125.6C645.9 127.3 642.8 130.1 640.0 132.5C636.6 135.4 634.0 137.4 630.0 140.0C625.5 143.0 622.2 144.7 617.5 147.5C612.8 150.3 609.5 152.5 605.0 155.0C601.3 157.1 597.5 158.8 595.0 160.0C593.1 160.9 590.0 162.5 590.0 162.5C590.0 162.5 587.0 149.9 590.0 144.4Z"/><path d="M687.1 121.3C686.9 119.0 688.5 116.3 690.3 113.9C692.2 111.3 694.4 110.2 696.7 108.5C698.6 107.1 699.7 105.5 702.1 105.3C705.2 105.1 744.7 105.3 744.7 105.3C744.7 105.3 741.1 109.7 738.3 111.7C735.4 113.8 733.2 114.7 729.8 116.0C726.0 117.5 723.2 117.9 719.1 119.2C715.0 120.5 712.5 121.8 708.5 122.9C704.9 124.0 702.3 124.5 698.9 125.1C696.1 125.5 693.7 126.3 691.4 125.6C689.2 124.9 687.3 123.6 687.1 121.3Z"/><path d="M589.1 262.7C591.3 258.9 595.9 256.6 600.4 253.7C604.4 251.0 608.4 248.8 611.7 248.0C614.3 247.4 618.5 249.1 618.5 249.1C618.5 249.1 618.7 252.4 617.4 253.7C615.7 255.3 611.0 257.7 607.2 260.5C602.9 263.6 599.0 267.4 595.9 269.5C593.5 271.2 589.1 272.9 589.1 272.9C589.1 272.9 587.1 266.1 589.1 262.7Z"/><path d="M730.0 105.1C730.0 105.1 864.9 105.1 864.9 105.1C864.9 105.1 862.6 109.1 861.7 111.5C861.0 113.5 860.0 115.4 860.5 117.2C861.0 118.9 862.5 120.1 864.3 120.3C866.0 120.6 867.4 119.0 869.3 118.4C871.6 117.7 873.2 117.0 875.7 116.8C878.1 116.5 879.8 116.5 882.0 117.2C884.0 117.8 885.5 118.6 886.4 120.3C887.3 122.1 887.0 123.9 886.4 126.0C885.8 128.3 885.0 130.0 883.3 131.7C881.4 133.6 879.4 134.3 876.9 135.5C874.1 136.9 871.9 137.2 869.3 138.7C867.1 140.0 864.3 143.1 864.3 143.1C864.3 143.1 865.7 145.6 866.8 146.9C868.1 148.5 870.0 148.8 870.6 150.7C871.2 152.8 870.8 154.8 870.0 157.1C869.1 159.3 867.4 160.1 866.2 162.1C865.0 164.0 864.3 165.2 863.6 167.2C863.1 169.1 863.8 170.5 863.0 172.3C862.1 174.3 861.3 176.1 859.2 177.3C856.9 178.7 854.1 179.5 851.6 179.2C849.3 179.0 848.6 176.2 846.5 176.1C844.5 175.9 843.3 177.5 841.5 178.6C839.0 180.1 836.6 181.6 833.9 183.7C830.9 185.9 829.3 187.7 826.3 190.0C823.5 192.1 821.6 193.1 818.7 195.1C815.8 197.0 813.9 198.1 811.1 200.1C808.6 201.9 806.9 203.0 804.7 205.2C802.6 207.4 801.1 208.8 799.7 211.5C798.2 214.2 797.9 216.2 797.1 219.1C796.4 222.0 797.1 224.1 795.9 226.7C794.6 229.5 792.9 230.8 790.8 233.1C788.5 235.6 786.5 236.6 784.5 239.4C782.6 242.0 783.8 246.2 780.7 247.0C776.5 248.0 754.1 247.0 754.1 247.0C754.1 247.0 756.2 242.9 757.9 240.7C760.1 237.7 762.8 235.4 765.5 231.8C768.2 228.1 769.4 225.5 771.8 221.7C774.2 217.8 775.7 215.4 778.1 211.5C780.5 207.7 781.7 205.0 784.5 201.4C787.5 197.3 793.3 191.3 793.3 191.3C793.3 191.3 785.5 193.7 780.7 195.1C774.6 196.8 767.2 198.4 762.9 200.1C759.7 201.4 757.6 202.8 755.3 205.2C753.3 207.4 754.1 210.5 751.5 212.2C749.0 213.8 746.0 214.1 742.7 213.4C738.4 212.5 730.6 213.0 730.0 207.7C729.2 200.8 730.0 105.1 730.0 105.1Z"/><path d="M806.0 238.1C806.2 236.1 807.0 233.9 808.5 231.8C810.5 229.0 813.4 227.2 816.1 224.2C818.7 221.4 819.9 219.3 822.5 216.6C824.7 214.3 825.9 212.2 828.8 210.9C831.8 209.5 834.3 210.2 837.7 209.6C841.1 209.0 843.2 208.6 846.5 207.7C849.5 206.9 851.3 206.2 854.1 205.2C856.6 204.3 858.2 202.7 860.5 202.7C862.6 202.7 864.4 203.7 865.5 205.2C866.7 206.7 866.8 208.4 866.2 210.3C865.4 212.5 863.9 214.6 861.7 216.6C859.3 218.9 855.9 220.2 854.1 221.7C852.8 222.8 851.6 225.5 851.6 225.5C851.6 225.5 856.6 227.0 857.9 228.0C859.0 228.8 859.2 231.2 859.2 231.2C859.2 231.2 853.9 233.7 851.6 235.6C849.8 237.1 849.6 239.1 847.8 240.7C845.8 242.4 844.2 243.7 841.5 244.5C838.2 245.4 835.2 245.1 831.3 245.1C827.5 245.1 825.0 244.8 821.2 244.5C817.8 244.1 814.9 243.7 812.3 243.2C810.4 242.8 808.5 242.9 807.3 241.9C806.1 241.0 805.8 239.6 806.0 238.1Z"/><path d="M807.2 225.0C809.9 224.8 860.0 225.0 860.0 225.0C860.0 225.0 860.0 228.4 858.8 229.8C857.2 231.7 854.3 232.7 851.6 234.6C848.5 236.8 845.4 238.6 843.2 240.6C841.5 242.1 841.0 243.7 839.6 245.4C838.3 246.9 837.5 247.8 836.0 249.0C834.0 250.6 831.7 252.4 828.8 253.8C826.2 255.1 824.3 255.1 821.6 256.2C818.8 257.4 817.3 259.0 814.4 259.8C811.0 260.8 808.4 260.8 804.8 261.0C801.6 261.2 799.6 261.2 796.4 261.0C793.2 260.8 790.9 259.6 788.0 259.8C785.6 260.0 783.9 261.0 782.0 262.2C780.4 263.2 780.1 265.3 778.4 265.8C776.7 266.3 774.8 266.0 773.6 264.6C772.4 263.2 772.2 260.9 772.4 258.6C772.6 256.0 773.4 253.9 774.8 251.4C776.2 248.8 777.2 247.1 779.6 245.4C782.0 243.7 783.9 243.4 786.8 243.0C789.5 242.7 791.4 243.4 794.0 243.6C796.3 243.8 797.8 244.8 800.0 244.2C802.2 243.6 804.1 242.5 804.8 240.6C805.5 238.7 803.6 236.8 803.6 234.6C803.6 232.7 804.1 231.6 804.8 229.8C805.5 227.9 805.2 225.2 807.2 225.0Z"/><path d="M800.0 277.8C801.2 276.1 802.8 275.2 804.8 274.2C806.9 273.1 808.4 272.6 810.8 272.4C813.1 272.2 815.1 272.2 816.8 273.0C818.3 273.7 818.4 275.2 819.2 276.6C820.2 278.3 819.8 280.5 821.6 281.4C823.5 282.4 826.1 281.8 828.8 281.4C831.6 280.9 833.2 279.8 836.0 279.0C838.7 278.2 840.4 277.6 843.2 277.2C846.6 276.7 849.4 276.6 852.8 276.6C855.5 276.6 858.8 276.9 860.0 277.2C860.9 277.4 861.8 279.0 861.8 279.0C861.8 279.0 859.4 281.5 857.6 282.6C855.3 284.0 853.3 285.2 850.4 286.2C847.8 287.1 845.9 286.7 843.2 287.4C840.4 288.1 838.7 288.7 836.0 289.8C833.2 291.0 831.5 292.0 828.8 293.4C826.1 294.8 824.3 295.6 821.6 297.0C818.9 298.4 816.1 299.3 814.4 300.6C813.1 301.6 813.2 303.0 812.0 304.2C810.6 305.6 807.2 307.8 807.2 307.8C807.2 307.8 811.1 309.3 812.0 311.4C813.0 313.6 811.0 316.7 812.0 318.6C812.9 320.4 814.8 320.8 816.8 321.0C819.2 321.2 821.4 320.7 824.0 319.8C826.9 318.8 828.3 317.2 831.2 316.2C833.8 315.3 835.6 314.8 838.4 315.0C841.3 315.2 843.4 316.2 845.6 317.4C847.3 318.3 849.0 319.3 849.2 321.0C849.4 322.7 848.2 324.4 846.8 325.8C845.1 327.5 843.2 328.3 840.8 329.4C838.2 330.6 836.5 331.4 833.6 331.8C830.2 332.3 827.6 332.3 824.0 331.8C820.3 331.3 816.9 330.2 814.4 329.4C812.5 328.8 810.8 328.2 809.6 327.0C808.6 326.0 809.5 324.3 808.4 323.4C807.0 322.2 804.8 321.7 802.4 321.0C800.2 320.3 798.1 320.8 796.4 319.8C795.0 319.0 794.2 317.6 794.0 316.2C793.8 314.8 795.2 312.6 795.2 312.6C795.2 312.6 792.3 314.9 790.4 316.2C788.2 317.6 786.8 318.6 784.4 319.8C782.2 320.9 780.6 322.0 778.4 322.2C776.5 322.4 775.0 322.2 773.6 321.0C772.2 319.8 771.7 318.1 771.2 316.2C770.8 314.4 770.6 313.1 771.2 311.4C771.9 309.5 773.1 308.1 774.8 306.6C776.7 304.9 778.6 304.4 780.8 303.0C783.4 301.3 785.6 299.9 788.0 298.2C789.9 296.9 791.0 296.0 792.8 294.6C794.6 293.2 796.2 292.4 797.6 291.0C798.8 289.8 799.8 289.0 800.0 287.4C800.2 285.7 798.8 284.5 798.8 282.6C798.8 280.7 798.9 279.3 800.0 277.8Z"/><path d="M767.0 297.0C766.5 295.4 766.8 293.8 767.6 292.2C768.4 290.5 769.4 289.4 771.2 288.6C773.4 287.6 775.7 287.9 778.4 287.4C781.1 286.9 782.8 286.3 785.6 286.2C788.3 286.1 791.0 286.1 792.8 286.8C794.2 287.3 795.2 289.8 795.2 289.8C795.2 289.8 792.4 292.2 790.4 293.4C788.0 294.8 786.0 295.8 783.2 297.0C780.5 298.1 778.6 298.8 776.0 299.4C773.8 299.9 771.8 300.5 770.0 300.0C768.4 299.6 767.5 298.5 767.0 297.0Z"/><path d="M764.0 282.6C764.0 282.6 778.4 277.8 778.4 277.8C778.4 277.8 780.6 280.7 780.8 282.6C781.0 284.5 781.2 286.4 779.6 287.4C777.7 288.6 773.7 287.6 771.2 288.6C769.2 289.3 767.0 292.2 767.0 292.2C767.0 292.2 764.0 282.6 764.0 282.6Z"/><path d="M824.2 342.6C824.2 343.2 823.8 343.7 823.2 344.1C822.5 344.6 821.6 344.9 820.5 345.2C819.2 345.5 818.2 345.6 816.8 345.6C815.4 345.6 814.4 345.5 813.1 345.2C812.0 344.9 811.1 344.6 810.4 344.1C809.8 343.7 809.4 343.2 809.4 342.6C809.4 342.0 809.8 341.5 810.4 341.1C811.1 340.6 812.0 340.3 813.1 340.0C814.4 339.7 815.4 339.6 816.8 339.6C818.2 339.6 819.2 339.7 820.5 340.0C821.6 340.3 822.5 340.6 823.2 341.1C823.8 341.5 824.2 342.0 824.2 342.6Z"/><path d="M873.8 352.2C874.3 350.7 876.0 347.9 878.0 346.2C879.9 344.6 881.6 344.3 884.0 343.8C886.6 343.2 888.6 343.1 891.2 343.2C893.5 343.3 895.4 343.6 897.2 344.4C898.7 345.1 900.2 347.4 900.2 347.4C900.2 347.4 898.8 350.2 897.2 351.0C895.4 352.0 893.4 351.3 891.2 352.2C888.8 353.2 887.6 355.0 885.2 355.8C883.0 356.6 881.2 356.5 879.2 356.4C877.5 356.3 876.1 356.0 875.0 355.2C874.0 354.4 873.4 353.4 873.8 352.2Z"/><path d="M900.8 343.2C900.8 343.2 903.7 340.4 905.6 339.6C907.3 338.9 910.4 339.0 910.4 339.0C910.4 339.0 910.4 346.2 910.4 346.2C910.4 346.2 906.3 346.8 904.4 346.2C902.7 345.7 900.8 343.2 900.8 343.2Z"/><path d="M731.4 377.2C731.4 375.2 732.2 372.4 734.1 370.4C736.0 368.4 738.1 367.4 740.9 367.0C743.9 366.5 748.9 368.1 748.9 368.1C748.9 368.1 749.0 372.0 747.7 373.8C746.1 376.1 743.7 378.1 740.9 379.5C738.6 380.6 736.0 381.1 734.1 380.6C732.5 380.2 731.4 378.9 731.4 377.2Z"/><path d="M696.7 391.9C696.7 391.9 700.0 389.6 702.4 389.2C705.5 388.7 710.8 388.5 716.0 388.5C722.3 388.5 727.2 389.0 734.1 389.2C741.0 389.4 745.5 389.6 752.3 389.7C758.3 389.7 765.7 389.5 768.1 389.7C770.0 389.8 772.7 391.5 772.7 391.5C772.7 391.5 768.8 394.6 765.9 395.3C762.1 396.3 756.8 395.6 752.3 396.5C748.7 397.2 746.8 399.3 743.2 399.9C738.7 400.5 734.1 400.5 729.6 399.9C726.0 399.3 724.1 397.1 720.5 396.5C716.5 395.7 713.3 396.2 709.2 396.0C705.8 395.8 702.4 396.1 700.1 395.3C698.4 394.8 696.7 391.9 696.7 391.9Z"/><path d="M589.1 547.2C590.9 545.3 597.4 541.4 602.7 538.1C608.6 534.5 612.6 532.5 618.5 529.1C623.7 526.1 627.2 524.5 632.1 521.1C636.7 518.0 639.0 515.3 643.5 512.1C648.5 508.4 652.5 506.6 657.1 503.0C660.9 500.0 662.9 497.6 666.1 493.9C669.8 489.9 671.5 486.7 675.2 482.6C679.3 478.1 682.1 475.5 686.5 471.3C690.7 467.3 693.6 464.9 697.9 461.1C702.2 457.2 704.8 454.6 709.2 450.9C713.4 447.3 717.1 446.1 720.5 441.8C724.1 437.3 724.7 432.2 727.3 428.2C729.4 425.2 731.0 423.3 734.1 421.4C738.2 418.9 742.7 418.2 747.7 415.7C753.1 413.1 756.3 410.7 761.3 407.8C765.7 405.2 769.8 403.2 772.7 401.0C774.8 399.3 774.9 396.7 777.2 395.3C779.4 394.0 781.6 393.2 784.0 394.2C786.7 395.3 788.1 399.2 790.8 401.0C793.1 402.5 795.1 404.3 797.6 403.3C800.8 401.9 803.2 397.6 806.7 394.2C810.1 390.8 812.0 388.3 815.7 385.1C819.8 381.8 822.6 379.9 827.1 377.2C831.2 374.7 834.3 373.6 838.4 371.5C841.8 369.8 843.6 367.5 847.5 367.0C852.5 366.4 876.9 367.0 876.9 367.0C876.9 367.0 873.0 370.4 870.1 371.5C866.3 373.0 861.6 373.2 856.5 374.9C851.2 376.7 847.5 377.7 842.9 380.6C838.8 383.3 837.3 386.2 833.9 389.7C830.4 393.1 827.5 395.1 824.8 398.7C822.5 401.8 823.3 405.5 820.3 407.8C816.6 410.5 811.2 410.7 806.7 412.3C803.2 413.5 800.6 413.6 797.6 415.7C794.4 418.0 793.7 421.0 790.8 423.7C787.2 427.1 783.8 429.3 779.5 432.7C775.2 436.2 770.5 439.1 768.1 441.8C766.4 443.9 767.8 446.7 765.9 448.6C763.3 451.1 757.6 454.5 752.3 457.7C747.3 460.6 743.8 461.9 738.7 464.5C733.5 467.1 730.2 468.7 725.1 471.3C719.9 473.9 716.5 475.3 711.5 478.1C707.1 480.5 704.1 481.8 700.1 484.9C696.3 487.9 694.3 490.3 691.1 493.9C687.4 498.0 685.9 501.4 682.0 505.3C678.1 509.2 675.1 511.1 670.7 514.3C665.7 518.0 662.4 520.3 657.1 523.4C652.1 526.3 648.8 528.0 643.5 530.2C638.4 532.3 634.6 532.1 629.9 534.7C625.0 537.4 623.1 540.6 618.5 543.8C614.4 546.7 611.7 548.8 607.2 550.6C603.1 552.2 599.3 552.5 595.9 552.9C593.3 553.1 589.1 552.4 589.1 552.4C589.1 552.4 587.7 548.6 589.1 547.2Z"/><path d="M759.1 470.1C759.1 470.1 762.5 464.7 765.9 463.3C769.9 461.7 774.3 462.4 779.5 462.2C785.4 462.0 789.4 462.0 795.3 462.2C800.5 462.4 807.0 462.8 808.9 463.3C810.4 463.8 811.2 466.7 811.2 466.7C811.2 466.7 805.6 468.8 802.1 470.1C798.7 471.4 796.4 471.9 793.1 473.5C789.4 475.3 787.9 477.9 784.0 479.2C779.9 480.6 776.7 480.8 772.7 480.3C769.0 479.9 766.3 479.0 763.6 476.9C761.1 475.1 759.1 470.1 759.1 470.1Z"/><path d="M745.5 500.7C745.5 500.7 749.2 496.4 752.3 495.1C756.3 493.3 760.6 492.4 765.9 491.7C772.2 490.8 778.9 490.6 784.0 490.5C787.9 490.5 794.2 491.2 794.2 491.2C794.2 491.2 794.6 495.0 793.1 496.2C791.0 497.8 786.1 499.2 781.7 500.7C777.5 502.2 774.8 503.3 770.4 504.1C765.4 505.0 761.3 505.3 756.8 505.3C753.3 505.3 749.6 504.9 747.7 504.1C746.3 503.6 745.5 500.7 745.5 500.7Z"/><path d="M711.0 521.1C711.0 521.1 714.6 516.7 716.0 514.3C717.1 512.6 716.4 510.3 718.3 509.3C720.5 508.2 723.9 508.6 727.3 508.7C730.8 508.8 736.4 509.8 736.4 509.8C736.4 509.8 734.1 513.8 731.9 515.5C729.1 517.5 726.3 518.4 722.8 520.0C719.4 521.6 715.6 523.7 713.7 523.9C712.3 524.0 711.0 521.1 711.0 521.1Z"/><path d="M727.3 501.0C727.3 501.0 726.9 501.7 726.4 502.0C725.8 502.3 724.9 502.6 723.9 502.7C722.8 502.9 721.8 503.0 720.5 503.0C719.2 503.0 718.3 502.9 717.1 502.7C716.2 502.6 715.3 502.3 714.6 502.0C714.2 501.7 713.7 501.0 713.7 501.0C713.7 501.0 714.2 500.2 714.6 499.9C715.3 499.6 716.2 499.4 717.1 499.2C718.3 499.0 719.2 498.9 720.5 498.9C721.8 498.9 722.8 499.0 723.9 499.2C724.9 499.4 725.8 499.6 726.4 499.9C726.9 500.2 727.3 501.0 727.3 501.0Z"/><path d="M625.6 456.3C625.6 456.5 625.4 456.6 625.2 456.8C625.0 456.9 624.7 457.0 624.3 457.1C623.9 457.2 623.5 457.2 623.1 457.2C622.6 457.2 622.3 457.2 621.8 457.1C621.5 457.0 621.1 456.9 620.9 456.8C620.7 456.6 620.6 456.5 620.6 456.3C620.6 456.1 620.7 456.0 620.9 455.9C621.1 455.7 621.5 455.6 621.8 455.5C622.3 455.4 622.6 455.4 623.1 455.4C623.5 455.4 623.9 455.4 624.3 455.5C624.7 455.6 625.0 455.7 625.2 455.9C625.4 456.0 625.6 456.1 625.6 456.3Z"/><path d="M753.4 549.5C753.4 549.5 759.7 547.8 763.6 547.2C768.4 546.5 772.0 546.1 777.2 546.1C782.0 546.1 788.2 546.7 789.7 547.2C790.8 547.5 790.8 550.1 790.8 550.1C790.8 550.1 785.3 552.6 781.7 553.3C777.7 554.1 774.7 554.2 770.4 554.0C766.1 553.8 762.2 553.2 759.1 552.4C756.7 551.8 753.4 549.5 753.4 549.5Z"/><path d="M589.1 578.9C591.3 575.8 596.2 574.9 600.4 572.1C604.8 569.3 607.4 567.2 611.7 564.2C616.7 560.8 620.0 558.3 625.3 555.1C630.3 552.2 633.5 550.2 638.9 548.3C644.8 546.3 649.4 545.4 654.8 544.9C659.1 544.6 663.4 544.5 666.1 546.1C668.5 547.4 669.3 550.3 668.4 552.9C667.5 555.6 664.2 557.1 661.6 559.7C659.0 562.3 656.6 563.3 654.8 566.5C653.0 569.6 654.8 573.0 652.5 575.5C650.3 578.0 647.1 578.7 643.5 578.9C639.4 579.2 636.2 576.4 632.1 576.7C628.5 576.9 626.4 578.6 623.1 580.1C619.5 581.6 617.5 583.0 614.0 584.6C609.9 586.4 607.3 588.5 602.7 589.1C597.7 589.8 589.1 588.0 589.1 588.0C589.1 588.0 587.1 581.7 589.1 578.9Z"/><path d="M648.0 590.3C648.0 590.3 653.5 587.2 657.1 585.7C661.6 583.9 665.6 583.1 670.7 581.2C675.9 579.2 679.1 577.7 684.3 575.5C689.4 573.4 692.6 571.6 697.9 569.9C702.9 568.2 706.3 567.6 711.5 566.5C716.6 565.4 719.9 565.1 725.1 564.2C730.2 563.3 733.5 563.0 738.7 561.9C743.9 560.8 747.0 559.5 752.3 558.5C758.2 557.4 762.7 556.5 768.1 556.3C772.5 556.1 779.5 557.4 779.5 557.4C779.5 557.4 780.7 560.7 779.5 561.9C777.9 563.5 773.8 564.7 770.4 566.5C767.0 568.2 764.8 569.3 761.3 571.0C757.3 573.0 754.5 575.1 750.0 576.7C745.9 578.1 743.0 578.3 738.7 578.9C733.7 579.6 730.1 579.4 725.1 580.1C720.7 580.7 717.4 580.5 713.7 582.3C710.5 584.0 709.2 586.9 706.9 589.1C705.2 590.9 704.7 592.9 702.4 593.7C699.3 594.6 694.0 594.8 688.8 594.8C683.6 594.8 680.4 593.7 675.2 593.7C670.0 593.7 666.6 594.6 661.6 594.8C657.3 595.0 652.7 595.6 650.3 594.8C648.4 594.2 648.0 590.3 648.0 590.3Z"/><path d="M589.1 582.3C589.1 582.3 599.1 583.7 602.7 583.5C605.4 583.3 606.8 581.0 609.5 581.2C612.2 581.4 613.8 583.2 616.3 584.6C619.4 586.4 621.6 588.8 625.3 590.3C629.9 592.1 634.5 592.8 638.9 593.7C642.3 594.3 644.5 594.7 648.0 594.8C652.6 595.0 662.5 594.6 670.7 594.8C677.6 595.0 684.8 595.0 688.8 595.9C691.8 596.6 694.7 598.2 695.6 600.5C696.5 602.7 692.9 604.6 693.3 607.3C693.8 610.0 697.9 614.1 697.9 614.1C697.9 614.1 692.2 615.5 688.8 616.3C685.4 617.2 683.2 617.7 679.7 618.6C676.3 619.5 674.1 621.6 670.7 620.9C666.1 620.0 661.6 616.3 657.1 614.1C653.6 612.3 651.6 611.0 648.0 609.5C643.5 607.7 638.9 606.3 634.4 605.0C631.0 604.0 628.9 602.9 625.3 602.7C621.3 602.5 618.1 604.3 614.0 603.9C610.3 603.5 607.0 601.9 604.9 600.5C603.4 599.4 604.3 596.9 602.7 595.9C600.5 594.6 595.8 594.0 593.6 593.7C591.9 593.4 589.1 593.7 589.1 593.7C589.1 593.7 589.1 582.3 589.1 582.3Z"/><path d="M589.1 610.7C589.1 610.7 596.0 608.4 600.4 608.4C604.8 608.4 608.6 609.1 611.7 610.7C614.2 611.9 616.3 616.3 616.3 616.3C616.3 616.3 612.5 620.7 609.5 622.0C605.8 623.6 602.2 624.0 598.1 624.3C594.7 624.5 589.1 623.1 589.1 623.1C589.1 623.1 589.1 610.7 589.1 610.7Z"/><path d="M700.1 605.0C700.1 605.0 707.0 601.9 711.5 601.6C717.4 601.1 722.7 602.1 729.6 602.7C736.5 603.4 744.3 603.8 747.7 605.0C750.3 605.9 752.3 610.7 752.3 610.7C752.3 610.7 746.9 614.0 743.2 615.2C738.4 616.7 733.2 618.1 727.3 618.6C722.2 619.0 718.3 618.6 713.7 617.5C710.0 616.5 707.4 615.4 704.7 612.9C702.1 610.6 700.1 605.0 700.1 605.0Z"/><path d="M691.1 623.1C691.1 623.1 696.4 619.5 700.1 618.6C705.1 617.5 710.6 617.0 716.0 617.5C720.5 617.8 723.3 618.9 727.3 620.9C731.2 622.8 736.4 627.7 736.4 627.7C736.4 627.7 732.6 631.4 729.6 631.7C725.7 632.2 721.2 630.1 716.0 629.9C710.8 629.8 706.9 631.5 702.4 631.1C698.7 630.7 695.4 629.1 693.3 627.7C691.8 626.6 691.1 623.1 691.1 623.1Z"/><path d="M688.8 635.6C688.8 635.6 692.5 631.6 695.6 631.1C699.2 630.4 704.6 631.2 706.9 632.2C708.7 632.9 709.2 636.7 709.2 636.7C709.2 636.7 705.2 639.6 702.4 640.1C698.8 640.8 693.5 640.9 691.1 640.1C689.2 639.5 688.8 635.6 688.8 635.6Z"/><path d="M589.1 661.7C589.1 661.7 597.5 660.8 602.7 660.8C609.0 660.7 618.2 660.8 620.8 661.2C622.8 661.5 625.3 663.9 625.3 663.9C625.3 663.9 623.7 667.0 621.9 667.3C619.6 667.8 609.2 667.9 602.7 668.0C597.5 668.1 589.1 668.0 589.1 668.0C589.1 668.0 589.1 661.7 589.1 661.7Z"/><path d="M618.5 684.3C618.5 685.1 618.0 685.7 617.3 686.3C616.4 686.9 615.3 687.3 614.0 687.7C612.4 688.1 611.2 688.2 609.5 688.2C607.7 688.2 606.5 688.1 604.9 687.7C603.6 687.3 602.5 686.9 601.6 686.3C600.9 685.7 600.4 685.1 600.4 684.3C600.4 683.6 600.9 682.9 601.6 682.4C602.5 681.7 603.6 681.3 604.9 681.0C606.5 680.6 607.7 680.5 609.5 680.5C611.2 680.5 612.4 680.6 614.0 681.0C615.3 681.3 616.4 681.7 617.3 682.4C618.0 682.9 618.5 683.6 618.5 684.3Z"/><path d="M621.9 688.0C621.9 688.0 631.1 687.4 636.7 687.1C641.8 686.7 645.1 686.1 650.3 686.1C656.2 686.1 663.8 686.8 666.1 687.1C667.9 687.3 670.7 688.4 670.7 688.4C670.7 688.4 666.5 690.0 663.9 690.2C660.4 690.5 649.2 690.8 643.5 690.7C639.1 690.6 636.4 689.9 632.1 689.3C628.3 688.8 621.9 688.0 621.9 688.0Z"/><path d="M593.4 684.3C593.4 685.0 593.3 685.5 592.9 686.1C592.6 686.7 592.3 687.1 591.8 687.5C591.3 687.8 590.8 688.0 590.2 688.0C589.6 688.0 589.1 687.8 588.6 687.5C588.1 687.1 587.8 686.7 587.5 686.1C587.1 685.5 587.0 685.0 587.0 684.3C587.0 683.6 587.1 683.1 587.5 682.5C587.8 681.9 588.1 681.6 588.6 681.2C589.1 680.8 589.6 680.7 590.2 680.7C590.8 680.7 591.3 680.8 591.8 681.2C592.3 681.6 592.6 681.9 592.9 682.5C593.3 683.1 593.4 683.6 593.4 684.3Z"/><path d="M760.9 663.9C760.9 663.9 760.6 664.2 760.5 664.3C760.2 664.4 759.7 664.5 759.3 664.5C758.7 664.6 758.3 664.6 757.7 664.6C757.1 664.6 756.7 664.6 756.1 664.5C755.7 664.5 755.2 664.4 755.0 664.3C754.8 664.2 754.5 663.9 754.5 663.9C754.5 663.9 754.8 663.7 755.0 663.6C755.2 663.5 755.7 663.4 756.1 663.3C756.7 663.3 757.1 663.3 757.7 663.3C758.3 663.3 758.7 663.3 759.3 663.3C759.7 663.4 760.2 663.5 760.5 663.6C760.6 663.7 760.9 663.9 760.9 663.9Z"/><path d="M738.7 104.1C734.7 105.6 736.7 110.9 734.1 114.3C731.4 117.9 728.4 119.1 725.1 122.2C721.5 125.5 719.6 127.9 716.0 131.3C712.7 134.4 710.6 136.7 706.9 139.2C703.8 141.4 701.4 142.2 697.9 143.7C693.8 145.5 690.0 146.7 686.5 148.3C683.9 149.4 682.6 151.2 679.7 151.7C676.0 152.3 670.4 151.0 666.1 151.7C662.9 152.2 660.1 153.3 658.2 155.1C656.6 156.6 655.9 158.9 656.6 160.7C657.3 162.5 659.3 163.8 661.6 164.1C664.6 164.6 672.7 163.2 675.2 163.5C677.1 163.6 678.8 164.1 679.7 165.7C680.7 167.4 679.5 169.7 680.2 172.1C680.8 174.4 682.0 175.6 683.1 177.7C684.4 180.2 684.0 183.2 686.5 184.5C689.5 186.1 693.5 185.6 697.9 185.7C703.6 185.8 761.3 185.7 761.3 185.7C761.3 185.7 761.3 104.1 761.3 104.1C761.3 104.1 743.9 102.1 738.7 104.1Z"/><path d="M677.3 161.9C677.3 161.9 679.1 163.4 679.2 164.7C679.3 166.2 678.2 167.5 677.8 169.3C677.5 171.1 676.7 172.8 677.3 174.0C678.0 175.2 679.8 174.7 681.1 175.4C682.3 176.1 683.0 176.6 683.9 177.7C684.8 178.9 686.2 179.9 685.7 181.5C685.2 183.5 683.0 185.6 681.1 188.0C679.0 190.6 677.6 192.1 675.5 194.5C673.3 197.0 672.0 198.6 669.9 201.1C667.7 203.5 666.2 205.0 664.3 207.6C662.3 210.1 660.0 212.5 659.6 214.6C659.3 216.3 660.6 218.1 662.4 218.3C664.6 218.6 667.7 217.1 670.8 216.0C674.1 214.8 676.1 213.9 679.2 212.3C682.7 210.4 685.0 208.8 688.5 206.7C692.1 204.5 694.2 202.9 697.9 201.1C701.3 199.4 703.6 198.6 707.2 197.3C710.7 196.1 713.7 195.4 716.5 194.5C718.7 193.9 720.0 193.5 722.1 192.7C724.9 191.6 731.8 192.4 733.3 188.0C735.3 182.3 733.3 160.0 733.3 160.0C733.3 160.0 694.2 159.8 688.5 160.0C684.2 160.1 677.3 161.9 677.3 161.9Z"/><path d="M704.4 212.3C705.0 210.0 705.8 208.6 707.2 206.7C708.9 204.4 710.5 203.0 712.8 201.1C715.1 199.1 716.8 198.0 719.3 196.4C722.7 194.2 727.2 189.2 733.3 188.0C741.3 186.4 753.9 185.4 761.3 188.0C767.1 190.0 770.7 201.1 770.7 201.1C770.7 201.1 764.5 203.1 761.3 204.8C758.6 206.2 757.0 207.4 754.8 209.5C752.8 211.3 752.6 213.9 750.1 215.1C747.7 216.2 745.1 215.6 742.7 215.1C740.7 214.6 739.8 213.3 738.0 212.3C736.2 211.2 735.4 209.1 733.3 209.5C730.7 210.0 727.5 212.9 724.0 215.1C720.5 217.2 718.1 218.4 714.7 220.7C711.0 223.0 708.9 224.7 705.3 227.2C701.8 229.7 699.4 231.0 696.0 233.7C692.3 236.7 690.1 238.8 686.7 242.1C683.0 245.6 680.9 247.9 677.3 251.5C673.8 255.0 671.5 257.3 668.0 260.8C664.5 264.3 661.2 267.5 658.7 270.1C656.8 272.2 656.6 274.8 654.0 275.7C651.0 276.9 643.7 275.7 643.7 275.7C643.7 275.7 652.4 266.7 656.8 262.7C660.1 259.6 662.6 258.0 666.1 255.2C669.7 252.4 672.0 250.7 675.5 247.7C678.7 245.0 680.8 243.2 683.9 240.3C687.1 237.2 689.2 235.1 692.3 231.9C695.2 228.8 697.3 226.2 699.7 223.5C701.5 221.4 703.5 220.1 704.4 217.9C705.2 215.9 703.9 214.3 704.4 212.3Z"/><path d="M636.7 283.1C636.7 281.3 637.7 279.2 639.4 277.5C641.5 275.2 650.4 267.5 654.8 263.9C658.1 261.1 660.9 257.5 663.9 257.1C666.6 256.6 669.5 261.6 669.5 261.6C669.5 261.6 663.4 268.8 659.3 272.9C655.2 277.0 651.8 280.5 648.0 283.1C645.1 285.1 641.6 286.5 639.4 286.5C637.7 286.5 636.7 284.8 636.7 283.1Z"/><path d="M790.9 194.0C789.0 196.0 787.3 196.7 785.3 198.7C783.4 200.6 782.2 202.0 780.7 204.3C779.0 206.6 778.3 208.3 776.9 210.8C775.4 213.6 774.7 215.5 773.2 218.3C771.9 220.8 771.1 222.4 769.5 224.8C767.6 227.6 766.0 229.4 763.9 232.3C761.7 235.1 760.5 237.0 758.3 239.7C755.9 242.7 754.2 244.4 751.7 247.2C749.3 250.0 747.7 251.8 745.2 254.7C742.7 257.5 741.1 259.2 738.7 262.1C736.1 265.3 734.6 267.3 732.1 270.5C729.7 273.7 727.6 276.2 725.6 278.9C724.1 281.0 722.8 283.1 721.9 284.5C721.2 285.6 720.0 287.3 720.0 287.3C720.0 287.3 723.4 289.2 725.6 289.2C728.4 289.2 730.9 288.3 734.0 287.3C737.5 286.2 739.8 285.0 743.3 283.6C746.9 282.2 749.1 281.1 752.7 279.9C756.2 278.6 758.8 278.2 762.0 277.1C764.5 276.2 766.1 275.4 768.5 274.3C770.7 273.3 772.6 273.3 774.1 271.5C775.8 269.4 776.6 266.8 776.9 264.0C777.3 261.5 775.8 259.9 776.0 257.5C776.2 255.2 776.9 253.9 777.9 251.9C779.0 249.4 779.9 247.6 781.6 245.3C783.4 242.9 785.0 241.8 787.2 239.7C789.2 237.9 790.9 237.1 792.8 235.1C794.5 233.2 795.6 231.9 796.5 229.5C797.4 227.1 796.9 225.4 797.5 222.9C798.0 220.7 798.5 219.4 799.3 217.3C800.2 215.1 800.8 213.7 802.1 211.7C803.6 209.5 804.9 208.2 806.8 206.1C808.8 203.9 810.3 202.7 812.4 200.5C814.5 198.4 815.8 197.0 818.0 194.9C820.0 193.1 821.4 191.9 823.6 190.3C825.6 188.7 827.1 188.0 829.2 186.5C831.3 185.1 833.2 184.0 834.8 182.8C836.0 181.9 837.6 180.0 837.6 180.0C837.6 180.0 813.2 177.2 804.0 180.0C797.0 182.1 793.5 191.4 790.9 194.0Z"/><path d="M772.4 261.0C772.4 261.0 777.1 261.3 778.4 263.4C779.8 265.8 779.4 270.0 779.6 273.0C779.8 275.3 780.8 277.3 779.6 279.0C778.4 280.7 775.5 281.6 773.6 281.4C771.7 281.2 770.4 279.7 770.0 277.8C769.5 275.6 770.8 273.3 771.2 270.6C771.7 267.2 772.4 261.0 772.4 261.0Z"/></g>
<g fill="#645ffa"><path d="M590.0 146.9C593.8 142.1 603.8 137.2 611.2 132.5C617.3 128.7 624.0 124.7 627.5 123.1C630.1 121.9 632.6 121.5 635.0 121.9C637.0 122.2 639.4 125.0 639.4 125.0C639.4 125.0 637.8 128.4 636.2 130.0C634.2 132.1 631.0 134.4 627.5 136.9C623.2 139.9 619.8 142.0 615.0 145.0C609.8 148.2 606.2 150.3 601.2 153.1C597.0 155.5 590.0 159.0 590.0 159.0C590.0 159.0 587.1 150.5 590.0 146.9Z"/><path d="M590.0 106.2C590.0 106.2 622.5 106.0 622.5 106.0C622.5 106.0 616.5 110.5 612.5 112.8C608.0 115.3 604.5 116.9 600.0 119.0C596.3 120.7 590.0 123.2 590.0 123.2C590.0 123.2 590.0 106.2 590.0 106.2Z"/><path d="M723.9 427.1C725.7 424.8 730.1 423.1 734.1 421.4C738.9 419.4 742.7 419.0 747.7 416.9C753.1 414.6 756.3 412.6 761.3 410.1C765.6 407.9 769.1 406.4 772.7 404.4C775.4 402.9 777.2 400.1 779.5 399.9C781.6 399.7 782.3 401.9 784.0 403.3C786.2 405.0 789.7 405.8 790.8 408.9C791.9 412.1 791.0 415.5 789.7 419.1C788.3 423.0 787.0 425.4 784.0 428.2C780.6 431.4 775.8 432.3 772.7 435.0C770.3 437.0 770.7 440.0 768.1 441.8C765.0 444.1 759.5 444.1 756.8 446.3C754.7 448.1 756.8 451.7 754.5 453.1C751.5 455.0 743.7 455.4 738.7 457.7C734.7 459.4 733.2 462.1 729.6 464.5C725.5 467.2 722.4 468.4 718.3 471.3C713.7 474.4 711.0 476.7 706.9 480.3C703.3 483.6 701.2 485.9 697.9 489.4C694.3 493.2 692.7 496.2 688.8 499.6C684.9 503.1 682.0 505.0 677.5 507.5C673.4 509.8 670.3 510.0 666.1 512.1C661.6 514.3 658.9 516.4 654.8 518.9C651.3 521.0 648.1 524.1 645.7 524.5C643.9 524.9 642.3 522.9 642.3 521.1C642.3 519.3 643.9 517.2 645.7 515.5C648.2 513.2 653.2 510.5 657.1 507.5C660.2 505.1 662.7 503.9 665.0 500.7C667.1 497.7 666.5 494.8 668.4 491.7C670.9 487.6 673.8 484.4 677.5 480.3C681.5 475.8 684.3 473.1 688.8 469.0C692.9 465.3 695.8 463.4 700.1 459.9C704.4 456.5 707.4 454.0 711.5 450.9C714.9 448.2 717.4 446.8 720.5 444.1C723.3 441.7 726.4 439.5 727.3 437.3C728.0 435.5 725.7 434.6 725.1 432.7C724.4 430.7 722.6 428.8 723.9 427.1Z"/><path d="M801.0 401.0C801.0 401.0 805.6 395.1 808.9 391.9C812.8 388.3 815.7 385.8 820.3 382.9C824.3 380.2 827.5 379.2 831.6 377.2C835.0 375.5 837.0 373.7 840.7 372.7C844.7 371.5 850.0 371.4 852.0 371.5C853.5 371.7 855.4 373.8 855.4 373.8C855.4 373.8 848.8 376.0 845.2 378.3C841.4 380.8 839.6 383.3 836.1 386.3C832.7 389.3 830.6 391.3 827.1 394.2C823.7 396.9 820.7 398.1 818.0 401.0C815.6 403.6 815.7 406.9 813.5 408.9C811.4 410.8 808.9 411.4 806.7 411.2C804.5 411.0 802.1 407.8 802.1 407.8C802.1 407.8 806.7 403.3 806.7 403.3C806.7 403.3 801.0 401.0 801.0 401.0Z"/><path d="M764.7 471.3C764.7 471.3 767.8 467.6 770.4 466.7C773.8 465.6 777.9 465.6 781.7 465.6C784.8 465.6 789.7 466.7 789.7 466.7C789.7 466.7 789.7 469.9 788.5 471.3C787.0 473.0 784.6 474.6 781.7 475.8C778.6 477.1 775.6 477.7 772.7 477.6C770.3 477.5 768.6 476.6 767.0 475.3C765.6 474.2 764.7 471.3 764.7 471.3Z"/><path d="M753.4 500.7C753.4 500.7 756.5 497.2 759.1 496.2C762.4 494.9 766.0 494.2 770.4 493.9C774.7 493.7 781.7 495.1 781.7 495.1C781.7 495.1 780.8 497.7 779.5 498.5C777.7 499.5 774.0 501.1 770.4 501.9C766.3 502.8 762.1 503.2 759.1 503.0C756.8 502.8 753.4 500.7 753.4 500.7Z"/><path d="M597.0 548.3C597.0 548.3 601.7 544.5 604.9 542.7C608.8 540.4 612.5 538.3 616.3 537.0C619.1 536.0 624.2 535.9 624.2 535.9C624.2 535.9 626.3 538.9 625.3 540.4C624.2 542.2 621.2 543.4 618.5 544.9C615.4 546.7 613.1 548.1 609.5 549.5C606.1 550.7 602.8 552.0 600.4 551.7C598.6 551.6 597.0 548.3 597.0 548.3Z"/><path d="M589.1 581.2C591.0 579.5 597.7 577.3 602.7 574.4C607.2 571.7 609.7 569.5 614.0 566.5C618.3 563.5 620.9 561.4 625.3 558.5C629.5 555.8 632.1 553.3 636.7 551.7C640.8 550.3 644.1 550.4 648.0 550.6C651.1 550.8 655.9 552.9 655.9 552.9C655.9 552.9 654.5 557.5 652.5 559.7C650.0 562.4 647.0 564.0 643.5 566.5C640.1 568.8 637.9 570.1 634.4 572.1C631.0 574.0 628.8 574.9 625.3 576.7C621.9 578.4 620.0 580.3 616.3 581.2C611.7 582.3 607.8 581.4 602.7 582.3C597.4 583.3 589.1 586.4 589.1 586.4C589.1 586.4 587.6 582.5 589.1 581.2Z"/><path d="M607.2 583.5C607.2 583.5 611.2 586.6 614.0 588.0C617.6 589.8 620.9 591.3 625.3 592.5C630.3 593.9 637.3 594.2 638.9 594.8C640.2 595.3 640.1 598.2 640.1 598.2C640.1 598.2 630.5 598.0 625.3 597.1C620.9 596.3 617.9 595.5 614.0 593.7C610.6 592.1 607.4 589.9 606.1 588.0C605.1 586.5 607.2 583.5 607.2 583.5Z"/><path d="M648.0 590.3C648.0 590.3 655.1 588.4 659.3 586.9C663.7 585.3 666.4 584.2 670.7 582.3C675.1 580.4 677.6 578.6 682.0 576.7C686.2 574.8 688.9 573.5 693.3 572.1C698.3 570.5 701.7 569.6 706.9 568.7C712.0 567.9 715.3 567.6 720.5 567.6C726.9 567.6 732.8 569.4 738.7 568.7C743.3 568.2 745.5 565.3 750.0 564.2C754.2 563.2 758.3 562.9 761.3 563.1C763.6 563.2 767.0 565.3 767.0 565.3C767.0 565.3 763.7 567.8 761.3 568.7C758.3 570.0 754.3 570.8 750.0 572.1C745.7 573.4 743.0 574.4 738.7 575.5C734.4 576.6 731.7 577.4 727.3 577.8C723.0 578.2 720.1 577.1 716.0 577.8C712.4 578.4 710.3 579.7 706.9 581.2C703.4 582.7 701.4 584.2 697.9 585.7C694.5 587.2 692.4 588.2 688.8 589.1C684.3 590.3 680.3 590.4 675.2 591.4C670.0 592.4 666.6 593.8 661.6 594.3C657.3 594.9 652.5 595.0 650.3 594.3C648.6 593.8 648.0 590.3 648.0 590.3Z"/><path d="M654.8 605.0C654.8 605.0 660.4 602.8 663.9 601.6C667.9 600.2 670.8 599.1 675.2 598.2C679.4 597.4 684.5 596.7 686.5 597.1C688.1 597.3 688.8 600.5 688.8 600.5C688.8 600.5 682.9 602.5 679.7 603.9C677.1 605.0 672.9 607.3 672.9 607.3C672.9 607.3 679.7 611.8 679.7 611.8C679.7 611.8 677.1 614.2 675.2 614.1C672.7 613.9 669.5 611.8 666.1 610.7C663.2 609.7 660.4 609.5 658.2 608.4C656.6 607.6 654.8 605.0 654.8 605.0Z"/><path d="M609.5 615.7C609.5 616.6 609.1 617.3 608.4 617.9C607.6 618.7 606.7 619.2 605.5 619.6C604.1 620.0 603.1 620.2 601.5 620.2C600.0 620.2 598.9 620.0 597.6 619.6C596.4 619.2 595.5 618.7 594.7 617.9C594.0 617.3 593.6 616.6 593.6 615.7C593.6 614.7 594.0 614.1 594.7 613.4C595.5 612.6 596.4 612.1 597.6 611.7C598.9 611.3 600.0 611.1 601.5 611.1C603.1 611.1 604.1 611.3 605.5 611.7C606.7 612.1 607.6 612.6 608.4 613.4C609.1 614.1 609.5 614.7 609.5 615.7Z"/><path d="M746.4 610.2C746.4 610.2 745.1 611.4 744.2 611.7C742.9 612.1 740.5 612.5 738.2 612.8C735.4 613.1 733.2 613.2 730.1 613.2C726.9 613.2 724.7 613.1 721.9 612.8C719.6 612.5 717.2 612.1 715.9 611.7C715.0 611.4 713.7 610.2 713.7 610.2C713.7 610.2 715.0 609.0 715.9 608.7C717.2 608.3 719.6 607.9 721.9 607.7C724.7 607.4 726.9 607.3 730.1 607.3C733.2 607.3 735.4 607.4 738.2 607.7C740.5 607.9 742.9 608.3 744.2 608.7C745.1 609.0 746.4 610.2 746.4 610.2Z"/><path d="M721.7 624.3C721.7 624.3 720.9 625.2 720.3 625.4C719.5 625.7 718.0 626.0 716.6 626.2C714.8 626.5 713.4 626.5 711.5 626.5C709.5 626.5 708.1 626.5 706.4 626.2C704.9 626.0 703.5 625.7 702.6 625.4C702.0 625.2 701.3 624.3 701.3 624.3C701.3 624.3 702.0 623.4 702.6 623.1C703.5 622.8 704.9 622.5 706.4 622.3C708.1 622.1 709.5 622.0 711.5 622.0C713.4 622.0 714.8 622.1 716.6 622.3C718.0 622.5 719.5 622.8 720.3 623.1C720.9 623.4 721.7 624.3 721.7 624.3Z"/><path d="M780.6 550.1C780.6 550.1 780.2 550.6 779.8 550.7C779.4 550.9 778.6 551.0 777.8 551.1C776.8 551.2 776.0 551.3 774.9 551.3C773.9 551.3 773.1 551.2 772.1 551.1C771.3 551.0 770.5 550.9 770.0 550.7C769.7 550.6 769.3 550.1 769.3 550.1C769.3 550.1 769.7 549.7 770.0 549.6C770.5 549.4 771.3 549.3 772.1 549.2C773.1 549.1 773.9 549.0 774.9 549.0C776.0 549.0 776.8 549.1 777.8 549.2C778.6 549.3 779.4 549.4 779.8 549.6C780.2 549.7 780.6 550.1 780.6 550.1Z"/><path d="M798.4 253.8C798.4 253.8 800.5 250.8 802.4 249.6C804.4 248.4 806.2 247.8 808.4 247.6C810.2 247.4 811.9 247.5 813.2 248.4C814.5 249.3 815.2 250.6 815.0 252.0C814.8 253.4 813.6 254.8 812.0 255.6C810.2 256.6 808.2 256.7 806.0 256.8C804.2 256.9 802.7 256.8 801.2 256.2C799.9 255.7 798.4 253.8 798.4 253.8Z"/><path d="M774.2 311.4C774.6 309.7 775.8 308.9 777.2 307.8C779.0 306.4 781.0 305.6 783.2 304.2C785.8 302.5 787.8 301.3 790.4 299.4C792.8 297.7 794.0 296.3 796.4 294.6C798.6 293.1 800.1 292.3 802.4 291.0C805.0 289.6 806.8 288.6 809.6 287.4C812.3 286.3 814.0 285.6 816.8 285.0C819.5 284.4 821.3 284.6 824.0 284.4C826.7 284.2 828.5 284.1 831.2 283.8C834.0 283.5 835.8 282.7 838.4 282.6C840.7 282.5 844.4 283.2 844.4 283.2C844.4 283.2 842.2 284.4 840.8 285.0C838.9 285.7 836.3 286.3 833.6 287.4C830.8 288.6 829.1 289.6 826.4 291.0C823.7 292.4 821.8 293.2 819.2 294.6C816.9 295.9 815.4 296.7 813.2 298.2C810.8 299.9 809.6 301.3 807.2 303.0C804.6 304.9 802.7 306.0 800.0 307.8C797.3 309.6 795.6 310.9 792.8 312.6C790.2 314.1 788.2 315.1 785.6 316.2C783.4 317.1 781.6 318.0 779.6 318.0C777.9 318.0 776.5 317.5 775.4 316.2C774.3 314.9 773.8 313.1 774.2 311.4Z"/><path d="M827.6 324.0C827.6 324.0 829.6 321.7 831.2 321.0C833.1 320.2 834.9 319.9 837.2 320.0C839.3 320.2 842.6 321.6 842.6 321.6C842.6 321.6 842.8 323.5 842.0 324.0C841.0 324.7 838.3 325.4 836.0 325.8C833.8 326.2 831.5 326.4 830.0 326.0C828.8 325.8 827.6 324.0 827.6 324.0Z"/><path d="M890.6 347.9C890.6 348.2 890.4 348.4 890.1 348.6C889.7 348.8 889.2 349.0 888.6 349.1C887.9 349.3 887.4 349.3 886.6 349.3C885.9 349.3 885.3 349.3 884.7 349.1C884.1 349.0 883.6 348.8 883.2 348.6C882.9 348.4 882.7 348.2 882.7 347.9C882.7 347.6 882.9 347.3 883.2 347.2C883.6 346.9 884.1 346.8 884.7 346.6C885.3 346.5 885.9 346.4 886.6 346.4C887.4 346.4 887.9 346.5 888.6 346.6C889.2 346.8 889.7 346.9 890.1 347.2C890.4 347.3 890.6 347.6 890.6 347.9Z"/><path d="M730.0 117.8C730.3 115.1 733.0 114.6 735.1 112.7C737.6 110.5 741.8 107.1 742.7 106.4C743.3 105.9 743.7 105.1 744.6 105.1C745.7 105.1 860.5 105.1 860.5 105.1C860.5 105.1 859.5 109.4 857.9 111.5C856.2 113.7 853.4 114.4 851.6 116.5C850.1 118.4 849.3 120.2 849.1 122.2C848.8 124.0 848.9 125.6 850.3 126.7C851.9 127.8 854.2 127.9 856.7 127.9C859.5 127.9 862.0 127.7 864.3 126.7C866.1 125.8 866.4 124.1 868.1 122.9C869.8 121.6 871.1 120.6 873.1 120.3C875.1 120.1 876.8 120.6 878.2 121.6C879.5 122.5 880.3 123.8 880.1 125.4C879.8 127.2 878.7 129.0 876.9 130.5C875.0 132.0 873.1 132.5 870.6 133.0C868.2 133.5 866.6 132.3 864.3 133.0C861.7 133.8 860.2 135.3 857.9 136.8C855.9 138.1 854.6 138.9 852.9 140.6C851.2 142.3 849.1 145.7 849.1 145.7C849.1 145.7 852.2 147.2 854.1 148.2C856.1 149.2 857.4 149.5 859.2 150.7C861.0 152.0 863.1 152.8 863.6 154.5C864.1 156.3 863.1 158.1 861.7 159.6C860.3 161.1 858.7 161.4 856.7 162.1C854.4 163.0 852.6 163.0 850.3 164.0C848.3 165.0 846.9 165.7 845.3 167.2C843.5 168.8 843.2 170.6 841.5 172.3C839.4 174.3 837.5 175.4 835.1 177.3C832.3 179.6 830.5 181.4 827.5 183.7C824.8 185.7 822.7 186.7 819.9 188.7C816.9 191.0 815.3 192.8 812.3 195.1C809.6 197.1 807.4 197.9 804.7 200.1C802.1 202.3 800.6 203.8 798.4 206.5C796.2 209.2 794.9 211.0 793.3 214.1C792.0 216.8 791.6 218.9 790.8 221.7C790.2 224.0 790.6 225.8 789.5 228.0C788.3 230.5 786.5 232.0 784.5 234.3C782.2 236.9 780.4 238.1 778.1 240.7C776.1 243.0 776.0 246.2 773.1 247.0C769.2 248.1 755.3 247.0 755.3 247.0C755.3 247.0 758.4 242.2 760.4 239.4C762.9 235.9 765.5 233.1 768.0 229.3C770.2 226.0 771.1 223.7 773.1 220.4C775.3 216.6 776.9 213.8 779.4 210.3C781.6 207.2 783.3 205.5 785.7 202.7C788.8 199.1 794.6 192.5 794.6 192.5C794.6 192.5 785.9 193.3 780.7 194.4C774.1 195.8 765.7 197.9 761.7 199.5C758.6 200.7 756.9 202.4 754.7 204.6C752.9 206.4 753.2 209.0 750.9 210.3C748.5 211.7 745.8 212.2 742.7 211.5C738.6 210.7 732.5 209.8 730.0 205.8C727.5 201.9 728.7 195.7 730.0 191.9C731.0 189.0 734.0 188.8 736.3 186.8C738.8 184.7 740.2 183.2 742.7 181.1C745.5 178.7 747.5 177.3 750.3 174.8C753.3 172.0 755.1 169.5 757.9 167.2C760.0 165.4 764.2 163.4 764.2 163.4C764.2 163.4 730.0 163.4 730.0 163.4C730.0 163.4 729.6 121.4 730.0 117.8Z"/><path d="M808.5 239.4C808.5 239.4 810.5 234.5 812.3 231.8C814.4 228.8 816.1 227.0 818.7 224.2C821.4 221.2 823.9 218.7 826.3 216.6C828.1 215.0 829.0 213.5 831.3 212.8C833.9 212.0 836.1 212.6 838.9 212.8C842.2 213.1 844.4 213.9 847.8 214.1C851.2 214.2 856.7 213.4 856.7 213.4C856.7 213.4 856.5 215.9 855.4 216.6C854.0 217.5 850.3 218.1 847.8 219.1C845.8 219.9 844.0 220.4 842.7 221.7C841.7 222.7 841.5 225.5 841.5 225.5C841.5 225.5 844.9 226.6 846.5 228.0C848.3 229.5 850.3 231.0 850.3 233.1C850.3 235.1 848.4 236.7 846.5 238.1C844.3 239.9 842.1 241.4 838.9 241.9C835.6 242.4 833.4 241.1 830.1 240.7C826.7 240.2 824.5 239.1 821.2 239.4C818.2 239.6 816.1 241.9 813.6 241.9C811.4 241.9 808.5 239.4 808.5 239.4Z"/><path d="M681.5 170.3C681.7 168.6 683.0 165.8 684.8 163.7C686.5 161.8 687.9 160.3 690.4 160.0C693.7 159.6 714.7 160.0 714.7 160.0C714.7 160.0 710.9 164.7 709.1 167.5C707.5 169.8 706.7 171.5 705.3 174.0C703.8 176.8 703.5 179.0 701.6 181.5C699.9 183.7 698.4 184.8 696.0 186.1C693.7 187.4 691.6 188.1 689.5 188.0C687.6 187.9 685.3 185.7 685.3 185.7C685.3 185.7 686.2 181.0 687.6 178.7C688.9 176.5 692.3 174.0 692.3 174.0C692.3 174.0 690.1 172.4 688.5 172.1C686.9 171.9 685.3 173.0 683.9 172.6C682.7 172.3 681.4 171.5 681.5 170.3Z"/><path d="M705.8 189.9C705.8 189.9 707.7 188.0 709.1 187.1C710.8 185.9 712.5 184.9 714.7 183.8C717.1 182.6 718.6 181.9 721.2 181.0C724.0 180.1 725.9 179.6 728.7 179.1C731.1 178.7 734.4 178.6 735.2 178.7C735.8 178.7 736.1 180.1 736.1 180.1C736.1 180.1 733.3 182.2 731.5 183.3C729.2 184.6 727.4 185.4 724.9 186.6C722.5 187.8 721.0 188.9 718.4 189.9C716.0 190.8 714.1 191.4 711.9 191.7C710.1 192.0 708.3 192.1 707.2 191.7C706.4 191.5 705.8 189.9 705.8 189.9Z"/><path d="M741.3 174.9C741.8 173.6 743.7 172.4 745.5 171.2C747.4 169.8 748.8 168.9 751.1 167.9C753.1 167.1 756.7 166.5 756.7 166.5C756.7 166.5 756.3 168.9 755.7 170.3C755.0 171.9 754.4 173.5 752.9 174.9C751.5 176.4 750.3 177.2 748.3 177.7C746.2 178.3 744.1 178.3 742.7 177.7C741.6 177.3 740.8 176.0 741.3 174.9Z"/><path d="M677.3 204.8C677.8 204.2 679.5 202.9 681.1 202.0C682.9 200.9 684.7 199.8 686.7 199.2C688.2 198.8 690.9 199.2 690.9 199.2C690.9 199.2 690.2 200.8 689.5 201.5C688.5 202.5 686.7 203.8 684.8 204.8C683.1 205.7 681.3 206.4 680.1 206.7C679.2 206.8 678.4 206.6 677.8 206.2C677.3 205.9 677.0 205.2 677.3 204.8Z"/><path d="M705.3 219.7C705.3 219.7 706.2 216.7 707.2 215.1C708.5 212.9 710.0 210.9 711.9 208.5C713.9 206.0 715.2 204.3 717.5 202.0C719.8 199.7 721.4 198.3 724.0 196.4C726.3 194.7 728.1 193.8 730.5 192.7C732.6 191.7 733.9 191.2 736.1 190.8C738.2 190.5 740.2 189.5 741.7 190.8C743.2 192.1 742.9 195.1 743.6 197.3C744.2 199.1 744.4 200.4 745.5 202.0C746.6 203.7 747.7 205.4 749.2 205.7C750.7 206.1 751.7 204.8 752.9 203.9C754.4 202.7 755.0 201.1 756.7 200.1C758.2 199.3 759.7 199.0 761.3 199.2C762.9 199.4 765.1 201.1 765.1 201.1C765.1 201.1 761.4 203.2 759.5 204.8C757.5 206.4 756.7 208.0 754.8 209.5C753.2 210.8 752.0 211.4 750.1 212.3C748.4 213.0 747.2 213.6 745.5 213.7C743.8 213.8 742.5 213.8 741.3 212.7C740.1 211.7 740.5 209.9 739.4 208.5C738.2 207.1 737.1 206.1 735.2 205.7C733.2 205.4 731.6 205.8 729.6 206.7C727.4 207.6 726.0 208.8 724.0 210.4C721.6 212.3 720.1 214.1 717.5 216.0C715.1 217.7 713.4 219.0 710.9 219.7C708.9 220.4 705.3 219.7 705.3 219.7Z"/><path d="M667.1 160.7C667.1 160.7 666.7 161.2 666.4 161.3C666.1 161.5 665.4 161.6 664.7 161.7C663.9 161.8 663.3 161.9 662.4 161.9C661.5 161.9 660.9 161.8 660.1 161.7C659.4 161.6 658.7 161.5 658.4 161.3C658.1 161.2 657.7 160.7 657.7 160.7C657.7 160.7 658.1 160.3 658.4 160.2C658.7 160.0 659.4 159.9 660.1 159.8C660.9 159.7 661.5 159.6 662.4 159.6C663.3 159.6 663.9 159.7 664.7 159.8C665.4 159.9 666.1 160.0 666.4 160.2C666.7 160.3 667.1 160.7 667.1 160.7Z"/><path d="M745.8 105.3C741.8 106.1 742.1 110.8 739.4 113.9C736.8 116.9 734.9 118.6 731.9 121.3C729.2 123.9 727.3 125.3 724.5 127.7C721.6 130.2 719.6 131.9 717.0 134.1C714.9 135.9 713.9 137.4 711.7 138.9C709.4 140.5 707.8 141.1 705.3 142.1C702.9 143.1 701.3 143.5 698.9 144.3C696.1 145.1 694.2 145.5 691.4 146.4C688.9 147.2 686.7 146.7 685.0 148.5C683.3 150.3 682.9 153.0 682.9 155.5C682.9 157.6 683.9 159.1 685.0 160.8C685.9 162.3 688.0 162.3 688.2 164.0C688.4 165.7 687.0 167.3 686.1 169.3C685.1 171.4 684.0 172.5 683.4 174.7C682.8 177.0 682.5 178.7 682.9 181.1C683.2 183.2 683.1 185.3 685.0 186.4C686.9 187.6 689.7 187.4 692.5 186.9C695.1 186.5 696.7 185.5 698.9 184.3C700.7 183.2 701.2 181.6 703.1 180.5C705.6 179.2 708.4 178.4 711.7 177.3C715.5 176.1 718.3 175.5 722.3 174.1C726.5 172.7 729.2 171.4 733.0 169.9C736.2 168.6 738.3 167.5 741.5 166.7C744.3 165.9 746.2 165.9 749.0 165.6C752.6 165.2 755.6 164.9 759.7 164.5C763.3 164.2 769.3 164.0 769.3 164.0C769.3 164.0 768.0 149.1 770.3 142.7C772.3 137.3 779.4 137.5 781.0 132.0C783.1 124.7 781.0 105.3 781.0 105.3C781.0 105.3 751.0 104.3 745.8 105.3Z"/><path d="M791.9 194.9C789.6 197.8 787.9 199.4 785.8 202.4C783.8 205.1 782.8 207.0 781.1 209.9C779.3 213.0 778.1 215.3 776.5 218.3C775.1 220.8 774.3 222.4 772.7 224.8C770.9 227.6 769.3 229.4 767.1 232.3C765.0 235.1 763.8 237.0 761.5 239.7C759.2 242.7 757.5 244.4 755.0 247.2C752.5 250.0 750.9 251.8 748.5 254.7C746.0 257.5 744.3 259.2 741.9 262.1C739.4 265.3 737.9 267.4 735.4 270.5C733.1 273.4 731.4 275.4 729.3 278.0C727.7 280.1 725.1 283.6 725.1 283.6C725.1 283.6 727.3 286.6 729.3 286.9C731.7 287.1 734.1 286.0 736.8 285.0C739.8 283.9 741.4 282.7 744.3 281.3C747.1 279.8 749.1 278.8 751.7 277.5C753.9 276.5 755.3 275.7 757.3 274.7C759.1 273.9 760.2 273.6 762.0 272.9C763.8 272.2 765.1 272.1 766.7 271.0C768.3 269.8 769.5 268.7 770.4 266.8C771.5 264.5 772.3 261.9 772.3 259.3C772.3 257.1 769.8 255.9 770.4 253.7C771.1 250.9 773.9 248.1 776.0 245.3C777.6 243.1 778.7 241.7 780.7 239.7C782.9 237.5 785.1 236.4 787.2 234.1C788.9 232.2 789.9 230.9 790.9 228.5C792.0 226.2 792.2 224.4 792.8 222.0C793.3 219.9 792.9 218.4 793.7 216.4C794.7 214.2 795.9 212.8 797.5 210.8C799.1 208.6 800.4 207.3 802.1 205.2C803.9 203.1 804.9 201.6 806.8 199.6C808.8 197.4 810.2 196.0 812.4 194.0C814.4 192.1 815.8 191.0 818.0 189.3C820.0 187.8 821.5 187.1 823.6 185.6C825.4 184.3 827.3 182.7 828.3 181.9C829.0 181.2 830.1 180.0 830.1 180.0C830.1 180.0 811.7 177.0 804.0 180.0C797.2 182.7 794.9 191.2 791.9 194.9Z"/></g>
<g fill="#2e2eff"><path d="M590.0 110.2C591.3 107.5 594.6 108.3 597.5 107.5C600.3 106.8 602.1 106.4 605.0 106.2C608.8 106.1 621.2 106.2 621.2 106.2C621.2 106.2 616.0 110.4 612.5 112.5C608.2 115.0 604.5 116.7 600.0 118.8C596.3 120.4 590.0 122.8 590.0 122.8C590.0 122.8 588.5 113.3 590.0 110.2Z"/><path d="M590.0 148.1C593.0 144.3 599.5 142.4 605.0 138.8C609.8 135.6 613.3 132.7 617.5 130.0C620.7 127.9 623.9 126.0 626.2 125.0C628.0 124.3 631.2 124.4 631.2 124.4C631.2 124.4 633.2 127.2 632.5 128.8C631.5 130.8 628.9 132.9 626.2 135.0C622.8 137.7 619.3 139.7 615.0 142.5C610.3 145.6 606.8 147.9 602.5 150.6C599.2 152.8 595.5 155.2 593.8 156.2C592.4 157.0 590.0 157.8 590.0 157.8C590.0 157.8 587.7 151.0 590.0 148.1Z"/><path d="M636.2 106.0C636.2 106.0 656.2 106.0 656.2 106.0C656.2 106.0 652.5 109.1 650.0 110.6C647.3 112.3 644.6 113.8 642.5 114.4C640.9 114.8 639.5 114.5 638.1 113.8C636.8 113.0 636.0 112.1 635.6 110.6C635.2 109.1 636.2 106.0 636.2 106.0Z"/><path d="M725.1 428.2C726.0 425.9 729.0 424.9 731.9 423.7C735.5 422.1 738.9 421.6 743.2 420.3C748.2 418.7 751.8 417.5 756.8 415.7C761.2 414.1 764.1 412.8 768.1 411.2C771.6 409.9 774.0 408.7 777.2 407.8C779.7 407.1 781.7 406.0 784.0 406.7C786.3 407.3 788.5 408.8 788.5 411.2C788.5 413.7 785.6 416.1 784.0 419.1C782.2 422.5 782.2 425.5 779.5 428.2C776.7 430.9 773.9 431.2 770.4 432.7C766.3 434.5 763.4 435.5 759.1 437.3C754.8 439.0 751.8 440.2 747.7 441.8C744.3 443.1 742.0 443.6 738.7 445.2C735.0 447.0 732.3 448.4 729.6 450.9C727.3 453.0 727.1 455.3 725.1 457.7C722.4 460.8 719.7 463.6 716.0 466.7C712.0 470.1 708.6 471.2 704.7 474.7C700.8 478.1 698.8 481.0 695.6 484.9C692.9 488.2 691.7 490.8 688.8 493.9C685.7 497.3 683.4 499.6 679.7 501.9C676.6 503.8 673.4 505.5 670.7 505.3C668.2 505.1 666.6 503.0 666.1 500.7C665.7 498.5 667.0 496.3 668.4 493.9C670.2 490.8 672.4 488.1 675.2 484.9C678.4 481.2 680.6 479.0 684.3 475.8C688.3 472.2 691.3 470.2 695.6 466.7C699.9 463.3 702.9 460.8 706.9 457.7C710.3 455.0 712.5 453.3 716.0 450.9C719.3 448.6 721.8 447.6 725.1 445.2C728.7 442.5 734.1 437.3 734.1 437.3C734.1 437.3 729.1 436.8 727.3 435.0C725.5 433.2 724.2 430.5 725.1 428.2Z"/><path d="M804.4 398.7C804.4 398.7 808.4 394.3 811.2 391.9C814.4 389.2 816.7 387.6 820.3 385.1C823.6 382.8 825.8 381.5 829.3 379.5C832.7 377.6 838.4 374.9 838.4 374.9C838.4 374.9 840.7 378.3 840.7 378.3C840.7 378.3 836.6 382.8 833.9 385.1C830.7 387.9 828.2 389.3 824.8 391.9C821.4 394.5 818.9 396.7 815.7 398.7C813.3 400.3 811.2 402.1 808.9 402.1C806.8 402.1 804.4 398.7 804.4 398.7Z"/><path d="M604.9 575.5C604.9 575.5 610.4 571.1 614.0 568.7C618.1 566.0 621.3 564.7 625.3 561.9C628.9 559.5 630.8 557.2 634.4 555.1C637.6 553.3 639.8 552.2 643.5 551.7C646.9 551.3 652.5 552.9 652.5 552.9C652.5 552.9 650.4 557.7 648.0 559.7C645.3 561.9 642.4 562.5 638.9 564.2C635.5 565.9 633.1 566.7 629.9 568.7C626.2 571.0 624.4 573.5 620.8 575.5C617.6 577.3 614.9 578.9 611.7 578.9C608.8 578.9 604.9 575.5 604.9 575.5Z"/><path d="M648.0 590.3C648.0 590.3 655.1 588.4 659.3 586.9C663.7 585.3 666.4 584.2 670.7 582.3C675.1 580.4 677.6 578.6 682.0 576.7C686.2 574.8 688.9 573.5 693.3 572.1C698.3 570.5 701.7 569.6 706.9 568.7C712.0 567.9 717.0 567.4 720.5 567.6C723.3 567.8 727.3 569.9 727.3 569.9C727.3 569.9 726.7 573.4 725.1 574.4C722.9 575.7 719.4 575.6 716.0 576.7C712.5 577.8 710.3 578.6 706.9 580.1C703.4 581.6 701.4 583.1 697.9 584.6C694.5 586.1 692.4 587.1 688.8 588.0C684.3 589.1 680.3 589.2 675.2 590.3C670.0 591.4 666.6 593.0 661.6 593.7C657.3 594.2 652.2 594.2 650.3 593.7C648.8 593.3 648.0 590.3 648.0 590.3Z"/><path d="M776.0 311.4C776.2 309.8 778.1 309.0 779.6 307.8C781.5 306.4 783.4 305.7 785.6 304.2C788.2 302.4 790.2 300.7 792.8 298.8C795.1 297.2 796.5 296.1 798.8 294.6C801.0 293.2 802.5 292.3 804.8 291.0C807.4 289.6 809.4 288.5 812.0 287.4C814.2 286.5 815.6 285.8 818.0 285.6C820.3 285.4 822.6 285.8 824.0 286.2C825.1 286.5 826.4 288.0 826.4 288.0C826.4 288.0 823.4 289.8 821.6 291.0C819.7 292.3 818.6 293.3 816.8 294.6C814.6 296.2 813.1 297.2 810.8 298.8C808.5 300.4 807.1 301.4 804.8 303.0C802.2 304.8 800.3 306.0 797.6 307.8C794.9 309.6 793.0 311.2 790.4 312.6C788.2 313.8 786.8 314.4 784.4 315.0C782.2 315.6 780.1 316.3 778.4 315.6C776.7 314.9 775.8 313.0 776.0 311.4Z"/><path d="M730.0 121.0C730.0 120.0 731.2 119.9 731.9 119.2C732.8 118.3 735.8 115.0 738.4 112.7C741.2 110.2 745.6 107.0 746.3 106.4C746.9 105.9 747.0 105.1 747.7 105.1C748.7 105.1 856.7 105.1 856.7 105.1C856.7 105.1 856.7 109.4 855.4 111.5C854.1 113.5 851.9 113.5 850.3 115.3C848.9 116.9 847.8 120.3 847.8 120.3C847.8 120.3 845.3 118.9 844.0 117.8C842.3 116.3 838.9 112.7 838.9 112.7C838.9 112.7 836.2 114.8 836.4 116.5C836.7 118.6 838.5 120.7 840.2 122.9C841.9 125.0 843.5 125.9 845.3 127.9C846.9 129.7 848.1 131.0 849.1 133.0C850.0 134.8 850.8 136.1 850.3 138.1C849.8 140.1 848.3 141.6 846.5 143.1C844.9 144.5 843.2 144.4 841.5 145.7C839.8 146.9 837.7 149.5 837.7 149.5C837.7 149.5 841.5 151.4 844.0 152.0C846.8 152.6 848.8 152.1 851.6 152.6C854.1 153.1 856.4 153.4 857.9 154.5C859.2 155.4 859.7 157.1 859.2 158.3C858.7 159.6 857.1 160.5 855.4 160.9C853.2 161.4 850.6 160.4 847.8 160.9C845.2 161.3 843.5 161.9 841.5 163.4C839.5 164.8 839.4 166.8 837.7 168.5C835.6 170.5 833.7 171.6 831.3 173.5C828.5 175.8 826.5 177.3 823.7 179.9C821.2 182.2 819.9 183.9 817.4 186.2C814.6 188.7 812.6 190.3 809.8 192.5C807.4 194.5 805.7 195.6 803.5 197.6C801.4 199.4 800.2 200.6 798.4 202.7C796.4 204.9 794.8 206.3 793.3 209.0C791.9 211.7 791.8 213.7 790.8 216.6C789.8 219.5 789.3 221.7 788.3 224.2C787.5 226.2 786.9 227.5 785.7 229.3C784.2 231.5 782.6 233.2 780.7 235.6C778.4 238.4 776.1 241.2 774.3 243.2C773.0 244.7 772.5 246.5 770.5 247.0C767.9 247.6 757.9 247.0 757.9 247.0C757.9 247.0 760.9 242.2 762.9 239.4C765.5 235.9 768.4 232.3 770.5 229.3C772.1 227.0 772.9 225.4 774.3 222.9C776.2 219.7 778.5 214.9 780.7 211.5C782.3 208.9 783.8 207.6 785.7 205.2C788.3 202.2 790.9 199.0 793.3 196.3C795.2 194.3 798.4 191.3 798.4 191.3C798.4 191.3 787.3 192.4 780.7 193.8C773.3 195.3 765.9 197.2 761.7 198.9C758.4 200.1 756.2 201.8 754.1 203.9C752.3 205.7 753.0 208.3 750.9 209.6C748.6 211.0 745.8 211.6 742.7 210.9C738.6 210.0 732.5 208.6 730.0 205.2C727.5 201.8 728.5 197.1 730.0 193.8C731.5 190.6 734.9 190.9 737.6 188.7C740.2 186.6 741.4 184.7 743.9 182.4C746.7 179.9 748.8 178.6 751.5 176.1C754.5 173.3 756.3 170.9 759.1 168.5C761.4 166.5 765.5 164.0 765.5 164.0C765.5 164.0 730.0 164.0 730.0 164.0C730.0 164.0 729.9 122.3 730.0 121.0Z"/><path d="M813.6 235.6C813.6 235.6 816.5 230.7 818.7 228.0C820.8 225.4 822.7 224.2 825.0 221.7C827.1 219.4 828.0 217.0 830.1 215.3C831.7 214.0 833.1 213.2 835.1 213.4C837.2 213.7 838.9 215.0 840.2 216.6C841.4 218.2 841.7 219.9 841.5 221.7C841.2 223.4 838.9 225.5 838.9 225.5C838.9 225.5 842.2 227.7 844.0 229.3C845.6 230.6 847.8 233.1 847.8 233.1C847.8 233.1 845.7 235.8 844.0 236.9C842.0 238.1 840.2 239.2 837.7 239.4C834.9 239.7 832.9 238.6 830.1 238.1C827.7 237.7 826.2 236.9 823.7 236.9C821.3 236.9 819.4 238.4 817.4 238.1C815.7 237.9 813.6 235.6 813.6 235.6Z"/><path d="M690.3 120.3C690.3 118.9 691.3 117.4 692.5 116.0C694.1 114.2 696.3 112.5 698.9 110.7C701.6 108.8 703.1 106.8 706.3 106.4C710.6 105.9 740.5 105.9 740.5 105.9C740.5 105.9 737.4 109.2 735.1 110.7C732.6 112.3 730.6 112.8 727.7 113.9C724.0 115.1 721.0 115.7 717.0 117.1C712.9 118.5 710.2 120.2 706.3 121.3C703.2 122.3 700.4 122.6 697.8 122.9C695.8 123.2 694.0 123.5 692.5 122.9C691.2 122.5 690.3 121.6 690.3 120.3Z"/><path d="M686.7 185.2C686.7 185.2 687.3 181.5 688.5 179.6C689.8 177.5 691.3 176.6 693.2 174.9C694.9 173.4 697.9 171.2 697.9 171.2C697.9 171.2 694.5 169.5 692.3 169.3C690.1 169.2 686.7 170.3 686.7 170.3C686.7 170.3 685.1 167.3 685.7 165.6C686.5 163.7 688.8 162.0 690.4 160.9C691.6 160.1 692.7 160.1 694.1 160.0C696.1 159.9 710.9 160.0 710.9 160.0C710.9 160.0 708.5 164.0 707.2 166.5C706.0 168.9 705.6 170.7 704.4 173.1C703.1 175.6 702.2 177.4 700.7 179.6C699.4 181.5 698.7 182.8 696.9 184.3C695.1 185.8 693.4 186.9 691.3 187.1C689.4 187.2 686.7 185.2 686.7 185.2Z"/><path d="M710.9 214.6C710.9 214.6 712.5 211.3 713.7 209.5C715.2 207.3 716.4 205.8 718.4 203.9C720.4 201.9 721.8 200.9 724.0 199.2C726.0 197.7 727.4 196.8 729.6 195.5C731.7 194.3 733.0 193.4 735.2 192.7C737.2 192.0 740.8 191.7 740.8 191.7C740.8 191.7 742.0 195.2 742.7 197.3C743.4 199.5 743.4 201.1 744.5 202.9C745.6 204.7 746.8 206.3 748.3 206.7C749.8 207.0 750.8 205.8 752.0 204.8C753.3 203.7 753.4 202.1 754.8 201.1C756.3 199.9 757.6 199.2 759.5 199.2C761.3 199.2 764.1 201.1 764.1 201.1C764.1 201.1 761.1 202.7 759.5 203.9C757.4 205.4 755.7 207.1 753.9 208.5C752.5 209.6 751.7 210.5 750.1 211.3C748.5 212.2 747.1 212.7 745.5 212.7C744.0 212.7 742.8 212.4 741.7 211.3C740.6 210.1 740.8 208.2 739.9 206.7C739.1 205.4 738.4 204.5 737.1 203.9C735.4 203.1 733.6 202.8 731.5 202.9C729.2 203.1 727.9 203.8 725.9 204.8C723.6 205.9 722.3 207.0 720.3 208.5C718.1 210.2 716.3 212.1 714.7 213.2C713.4 214.0 710.9 214.6 710.9 214.6Z"/><path d="M749.0 105.3C745.0 106.2 745.3 110.8 742.6 113.9C740.0 116.9 738.1 118.6 735.1 121.3C732.4 123.9 730.5 125.3 727.7 127.7C724.8 130.2 722.8 131.8 720.2 134.1C718.1 136.1 717.2 137.7 714.9 139.5C712.3 141.4 710.2 142.5 707.4 143.7C705.1 144.8 703.5 145.1 701.0 145.9C698.2 146.7 696.3 147.0 693.5 148.0C691.0 148.9 688.8 149.2 687.1 150.7C685.6 152.0 685.0 153.7 685.0 155.5C685.0 157.3 686.0 158.4 687.1 159.7C688.4 161.2 691.0 161.2 691.4 162.9C691.8 164.6 690.2 166.3 689.3 168.3C688.2 170.4 686.9 171.5 686.1 173.6C685.3 175.5 685.0 176.9 685.0 178.9C685.0 181.0 684.8 183.1 686.1 184.3C687.3 185.4 689.4 185.1 691.4 184.8C693.7 184.5 695.7 183.7 697.8 182.7C699.6 181.8 700.2 180.3 702.1 179.5C704.5 178.3 708.0 177.4 711.7 176.3C715.7 175.0 718.3 174.5 722.3 173.1C726.5 171.6 729.2 170.3 733.0 168.8C736.2 167.5 738.3 166.5 741.5 165.6C744.3 164.9 746.2 164.9 749.0 164.5C752.6 164.1 755.6 163.8 759.7 163.5C763.3 163.2 769.3 162.9 769.3 162.9C769.3 162.9 768.0 148.9 770.3 142.7C772.4 137.3 779.4 137.5 781.0 132.0C783.1 124.7 781.0 105.3 781.0 105.3C781.0 105.3 754.2 104.2 749.0 105.3Z"/><path d="M759.7 164.0C761.2 163.2 769.3 161.9 769.3 161.9C769.3 161.9 770.0 164.7 769.3 166.1C768.3 168.0 766.1 170.2 763.9 172.5C762.0 174.7 760.6 175.8 758.6 177.9C756.6 179.9 755.3 181.2 753.3 183.2C751.2 185.2 749.6 186.4 747.9 188.5C746.5 190.4 745.5 191.7 744.7 193.9C744.1 195.8 743.9 197.2 744.2 199.2C744.5 201.3 745.2 202.8 746.3 204.5C747.4 206.1 749.5 206.2 750.1 207.7C750.6 209.2 750.1 210.9 749.0 212.0C747.9 213.1 746.2 214.0 744.7 213.1C743.0 212.0 741.5 209.4 740.5 206.7C739.4 204.0 739.2 202.0 739.4 199.2C739.6 196.6 740.5 195.1 741.5 192.8C742.5 190.6 743.4 189.4 744.7 187.5C746.2 185.3 747.4 184.2 749.0 182.1C750.6 180.1 751.6 178.8 753.3 176.8C754.9 174.8 756.5 173.4 757.5 171.5C758.3 170.0 758.2 168.7 758.6 167.2C759.0 166.0 758.5 164.6 759.7 164.0Z"/><path d="M792.3 195.9C790.2 198.7 788.7 200.4 786.7 203.3C784.8 206.1 783.8 207.9 782.1 210.8C780.2 213.9 779.1 216.2 777.4 219.2C776.0 221.7 775.3 223.4 773.7 225.7C771.8 228.5 770.2 230.4 768.1 233.2C765.9 236.0 764.7 237.9 762.5 240.7C760.1 243.6 758.4 245.3 755.9 248.1C753.5 251.0 751.9 252.8 749.4 255.6C746.9 258.4 745.3 260.2 742.9 263.1C740.3 266.2 738.8 268.3 736.3 271.5C734.2 274.3 732.4 276.6 730.7 278.9C729.5 280.7 727.5 283.6 727.5 283.6C727.5 283.6 729.0 285.5 730.3 285.5C731.9 285.5 734.4 284.6 736.8 283.6C739.6 282.5 741.4 281.3 744.3 279.9C747.1 278.4 749.1 277.4 751.7 276.1C753.9 275.1 755.3 274.3 757.3 273.3C759.1 272.5 760.2 272.2 762.0 271.5C763.8 270.8 765.1 270.7 766.7 269.6C768.3 268.5 769.6 267.7 770.4 265.9C771.2 263.8 771.1 261.6 770.9 259.3C770.7 257.5 769.2 256.5 769.5 254.7C769.7 252.6 771.2 251.2 772.3 249.1C773.3 246.9 773.7 245.4 775.1 243.5C776.6 241.2 777.9 239.9 779.7 237.9C781.8 235.6 783.3 234.5 785.3 232.3C787.2 230.2 788.7 228.9 790.0 226.7C791.1 224.7 791.7 223.3 791.9 221.1C792.0 218.9 790.4 217.6 790.9 215.5C791.5 213.2 793.1 211.9 794.7 209.9C796.3 207.7 797.6 206.4 799.3 204.3C801.1 202.1 802.1 200.7 804.0 198.7C805.7 196.8 806.9 195.8 808.7 194.0C810.4 192.2 811.4 190.9 813.3 189.3C815.3 187.7 817.1 187.1 818.9 185.6C820.5 184.3 821.7 182.8 822.7 181.9C823.4 181.2 824.5 180.0 824.5 180.0C824.5 180.0 810.4 176.8 804.0 180.0C797.6 183.2 795.1 192.1 792.3 195.9Z"/></g>
<g fill="#645ffa"><path d="M826.3 165.9C826.3 165.9 829.3 161.1 831.3 158.3C833.6 155.3 835.1 152.8 837.7 150.7C839.7 149.1 841.7 148.2 844.0 148.2C846.2 148.2 849.1 150.7 849.1 150.7C849.1 150.7 845.9 153.1 844.0 154.5C842.1 156.0 840.7 156.7 838.9 158.3C836.9 160.1 835.6 161.9 833.9 163.4C832.5 164.5 831.6 165.4 830.1 165.9C828.7 166.4 826.3 165.9 826.3 165.9Z"/><path d="M800.9 183.7C800.6 181.6 801.6 178.6 802.8 176.1C804.0 173.8 805.0 172.2 807.3 171.0C809.9 169.6 814.5 169.1 816.1 169.1C817.3 169.1 818.7 171.0 818.7 171.0C818.7 171.0 815.5 174.1 813.6 176.1C811.7 178.0 810.3 179.1 808.5 181.1C806.9 182.9 804.7 186.2 804.7 186.2C804.7 186.2 801.3 185.4 800.9 183.7Z"/><path d="M797.1 125.4C797.1 125.4 800.1 122.1 802.2 120.3C805.0 118.1 808.8 115.0 811.1 114.0C812.8 113.2 816.1 114.0 816.1 114.0C816.1 114.0 814.5 119.2 812.3 121.6C810.1 124.1 807.1 125.6 804.7 126.7C803.0 127.5 801.2 127.6 799.7 127.3C798.5 127.1 797.1 125.4 797.1 125.4Z"/><path d="M835.1 106.1C835.1 106.1 849.1 106.1 849.1 106.1C849.1 106.1 849.3 109.6 848.4 111.5C847.4 113.7 844.0 117.2 844.0 117.2C844.0 117.2 840.6 114.2 838.9 112.1C837.3 110.0 835.1 106.1 835.1 106.1Z"/><path d="M741.4 178.6C741.4 178.6 743.3 175.0 745.2 173.5C747.5 171.8 750.0 170.6 752.8 169.7C755.1 169.0 759.1 169.1 759.1 169.1C759.1 169.1 757.9 172.1 756.6 173.5C754.9 175.4 752.8 177.1 750.3 178.6C748.0 179.9 745.7 181.1 743.9 181.1C742.6 181.1 741.4 178.6 741.4 178.6Z"/><path d="M774.1 230.4C774.7 228.3 776.1 226.7 777.9 224.8C779.7 222.8 781.2 221.6 783.5 220.1C785.4 218.8 789.1 217.3 789.1 217.3C789.1 217.3 790.0 220.8 790.0 222.9C790.0 225.1 790.1 226.6 789.1 228.5C787.9 230.6 786.4 231.7 784.4 233.2C782.5 234.6 780.7 235.6 778.8 236.0C777.4 236.3 776.0 236.2 775.1 235.1C774.1 233.9 773.7 232.1 774.1 230.4Z"/></g>
<g fill="#78ffff"><path d="M759.7 124.5C759.7 124.5 763.7 118.0 766.1 114.9C767.9 112.5 771.4 109.1 771.4 109.1C771.4 109.1 773.8 110.5 773.5 111.7C773.2 113.4 771.3 116.6 769.3 119.2C767.2 121.9 764.3 124.8 762.9 125.6C761.7 126.2 759.7 124.5 759.7 124.5Z"/><path d="M729.3 141.1C729.3 141.1 732.9 138.8 735.1 137.3C737.8 135.6 739.8 133.8 742.6 132.5C744.9 131.5 749.0 130.9 749.0 130.9C749.0 130.9 746.7 134.5 744.7 136.3C742.6 138.2 740.9 139.4 738.3 140.5C736.1 141.6 733.4 142.0 731.9 142.1C730.8 142.2 729.3 141.1 729.3 141.1Z"/><path d="M805.4 121.6C805.6 120.3 807.0 118.1 808.5 116.5C809.9 115.2 813.0 114.0 813.0 114.0C813.0 114.0 814.5 115.5 814.2 116.5C813.9 117.9 812.5 119.6 811.1 121.0C809.8 122.2 807.3 123.5 807.3 123.5C807.3 123.5 805.2 122.6 805.4 121.6Z"/><path d="M845.0 114.6C845.0 115.0 844.9 115.2 844.7 115.5C844.5 115.8 844.2 116.0 843.9 116.2C843.5 116.3 843.2 116.4 842.7 116.4C842.3 116.4 842.0 116.3 841.6 116.2C841.2 116.0 841.0 115.8 840.8 115.5C840.5 115.2 840.5 115.0 840.5 114.6C840.5 114.3 840.5 114.0 840.8 113.7C841.0 113.4 841.2 113.3 841.6 113.1C842.0 112.9 842.3 112.9 842.7 112.9C843.2 112.9 843.5 112.9 843.9 113.1C844.2 113.3 844.5 113.4 844.7 113.7C844.9 114.0 845.0 114.3 845.0 114.6Z"/></g>
<g fill="#ffffff"><path d="M761.3 119.7C761.3 119.7 762.9 116.5 763.9 115.5C764.7 114.7 766.6 114.4 766.6 114.4C766.6 114.4 766.2 116.5 765.5 117.6C764.8 118.9 762.9 120.8 762.9 120.8C762.9 120.8 761.3 119.7 761.3 119.7Z"/><path d="M811.8 119.1C811.8 119.3 811.8 119.5 811.6 119.7C811.4 119.9 811.2 120.0 810.9 120.2C810.6 120.3 810.4 120.3 810.1 120.3C809.7 120.3 809.5 120.3 809.2 120.2C808.9 120.0 808.7 119.9 808.5 119.7C808.4 119.5 808.3 119.3 808.3 119.1C808.3 118.8 808.4 118.6 808.5 118.4C808.7 118.2 808.9 118.1 809.2 118.0C809.5 117.8 809.7 117.8 810.1 117.8C810.4 117.8 810.6 117.8 810.9 118.0C811.2 118.1 811.4 118.2 811.6 118.4C811.8 118.6 811.8 118.8 811.8 119.1Z"/></g>
<g fill="#72dc00"><path d="M640.6 106.0C640.6 106.0 651.9 106.0 651.9 106.0C651.9 106.0 648.2 108.5 646.2 109.4C644.7 110.1 641.9 110.6 641.9 110.6C641.9 110.6 640.6 106.0 640.6 106.0Z"/><path d="M750.1 105.3C753.6 104.5 766.1 105.3 766.1 105.3C766.1 105.3 762.3 110.8 759.7 113.9C756.7 117.3 754.5 119.3 751.1 122.4C748.0 125.3 745.9 127.1 742.6 129.9C739.5 132.4 737.3 134.0 734.1 136.3C731.3 138.2 729.4 139.7 726.6 141.1C724.3 142.2 722.4 143.2 720.2 143.2C718.2 143.2 716.3 142.2 715.4 141.1C714.6 139.9 715.2 138.5 715.9 137.3C717.0 135.8 719.2 133.9 721.3 132.0C724.0 129.4 726.7 127.5 729.8 124.5C733.1 121.4 735.3 118.9 738.3 116.0C740.7 113.7 742.4 112.3 744.7 110.1C746.8 108.3 747.4 105.9 750.1 105.3Z"/><path d="M705.8 110.7C705.8 110.7 708.0 109.1 709.5 108.5C711.6 107.9 714.2 107.3 717.0 106.9C719.4 106.6 723.4 106.6 723.4 106.6C723.4 106.6 719.5 108.7 717.0 109.6C714.6 110.4 712.4 110.8 710.6 111.2C709.2 111.5 707.6 111.8 706.9 111.7C706.3 111.7 705.8 110.7 705.8 110.7Z"/><path d="M778.9 105.3C783.2 103.6 796.5 105.3 796.5 105.3C796.5 105.3 796.6 109.4 795.9 111.7C795.2 114.3 794.2 115.8 792.7 118.1C791.3 120.3 790.1 121.4 788.5 123.5C786.8 125.5 784.6 126.9 784.2 128.8C783.8 130.6 785.0 131.8 786.3 133.1C787.8 134.5 789.4 135.3 791.7 135.7C794.0 136.2 795.7 135.9 798.1 135.2C800.3 134.5 801.5 133.4 803.4 132.0C805.5 130.5 806.7 129.4 808.7 127.7C810.8 126.1 811.9 124.7 814.1 123.5C815.9 122.3 817.3 121.8 819.4 121.3C821.7 120.8 823.4 120.7 825.8 120.8C828.6 120.9 830.9 121.0 833.3 121.9C835.2 122.6 836.3 123.6 837.5 125.1C838.7 126.4 839.9 127.7 839.7 129.3C839.5 130.9 837.8 131.7 836.5 133.1C835.0 134.6 834.0 135.7 832.2 136.8C830.1 138.1 828.1 138.3 825.8 139.5C823.7 140.5 822.4 141.4 820.5 142.7C818.8 143.8 816.2 145.9 816.2 145.9C816.2 145.9 818.1 147.1 819.4 147.5C821.1 147.9 823.0 147.3 824.7 148.0C826.3 148.7 827.5 149.5 827.9 151.2C828.4 152.9 827.9 154.7 826.9 156.5C825.8 158.5 824.4 159.4 822.6 160.8C820.7 162.3 819.4 163.0 817.3 164.0C814.9 165.1 813.2 165.3 810.9 166.1C808.8 166.9 807.4 167.2 805.5 168.3C803.8 169.3 802.9 170.3 801.3 171.5C799.6 172.7 798.1 173.2 797.0 174.7C796.0 176.0 796.5 177.3 795.9 178.9C795.3 180.9 795.3 182.7 793.8 184.3C792.1 186.0 789.8 186.3 787.4 187.5C785.0 188.7 783.5 189.6 781.0 190.7C778.6 191.7 777.0 192.0 774.6 192.8C772.2 193.6 770.6 194.1 768.2 194.9C765.8 195.7 764.2 196.3 761.8 197.1C759.4 197.9 757.3 198.1 755.4 199.2C753.9 200.0 753.3 201.0 752.2 202.4C751.0 203.9 750.7 205.9 749.5 206.7C748.5 207.3 747.3 206.9 746.3 206.1C745.3 205.3 744.8 203.9 744.2 202.4C743.5 200.6 742.8 199.0 742.6 197.1C742.4 195.4 742.5 194.3 743.1 192.8C744.0 190.9 745.3 189.4 746.9 187.5C748.7 185.3 750.2 184.2 752.2 182.1C754.2 180.1 755.5 178.8 757.5 176.8C759.6 174.8 760.9 173.6 762.9 171.5C764.6 169.5 766.1 168.1 767.1 166.1C767.9 164.7 768.2 161.9 768.2 161.9C768.2 161.9 765.6 160.9 763.9 160.8C761.8 160.7 760.0 161.2 757.5 161.3C754.5 161.5 752.2 161.6 749.0 161.9C745.7 162.2 743.7 162.3 740.5 162.9C737.6 163.5 735.8 164.1 733.0 165.1C730.1 166.1 728.4 167.1 725.5 168.3C722.7 169.5 720.9 170.3 718.1 171.5C715.2 172.7 713.2 173.6 710.6 174.7C708.6 175.5 707.1 176.7 705.3 176.8C703.7 176.9 701.5 175.2 701.5 175.2C701.5 175.2 702.7 173.4 703.7 172.5C705.0 171.4 707.4 170.0 709.5 168.3C712.0 166.3 713.6 165.1 715.9 162.9C718.5 160.6 720.0 158.9 722.3 156.5C724.4 154.5 725.5 153.1 727.7 151.2C729.6 149.5 730.8 148.2 733.0 146.9C735.6 145.4 737.7 145.2 740.5 143.7C743.0 142.3 744.7 141.1 746.9 139.5C748.6 138.2 749.2 136.7 751.1 135.7C753.3 134.7 755.4 134.9 757.5 134.1C759.2 133.5 760.4 133.2 761.8 132.0C763.5 130.5 764.5 128.8 766.1 126.7C767.8 124.3 768.7 122.7 770.3 120.3C772.0 117.8 773.1 116.4 774.6 113.9C776.3 110.9 775.5 106.7 778.9 105.3Z"/><path d="M693.0 159.2C693.5 157.9 694.3 156.5 695.7 155.5C697.3 154.3 698.9 153.8 701.0 153.3C703.0 152.9 705.1 152.9 706.3 153.3C707.3 153.6 708.1 154.5 707.9 155.5C707.7 156.5 706.5 157.7 705.3 158.7C703.7 159.8 702.0 160.5 699.9 161.3C698.2 162.1 696.2 162.8 695.1 162.9C694.3 163.0 693.7 162.6 693.3 161.9C692.9 161.1 692.6 160.2 693.0 159.2Z"/><path d="M699.9 180.2C699.9 180.5 699.8 180.7 699.5 181.0C699.2 181.2 698.9 181.4 698.4 181.5C697.9 181.7 697.5 181.7 696.9 181.7C696.4 181.7 696.0 181.7 695.5 181.5C695.0 181.4 694.7 181.2 694.4 181.0C694.1 180.7 694.0 180.5 694.0 180.2C694.0 179.9 694.1 179.7 694.4 179.5C694.7 179.2 695.0 179.0 695.5 178.9C696.0 178.8 696.4 178.7 696.9 178.7C697.5 178.7 697.9 178.8 698.4 178.9C698.9 179.0 699.2 179.2 699.5 179.5C699.8 179.7 699.9 179.9 699.9 180.2Z"/><path d="M813.0 185.3C813.0 185.3 814.6 181.7 816.2 180.0C817.9 178.2 819.5 177.4 821.5 176.3C823.3 175.3 826.3 174.1 826.3 174.1C826.3 174.1 827.2 175.2 826.9 175.7C826.4 176.4 824.3 178.5 822.6 180.0C820.7 181.7 818.7 183.3 817.3 184.3C816.1 185.0 814.6 185.7 814.1 185.9C813.6 186.0 813.0 185.3 813.0 185.3Z"/><path d="M699.7 179.9C699.7 180.2 699.6 180.4 699.3 180.6C699.0 180.8 698.7 181.0 698.2 181.1C697.7 181.2 697.3 181.3 696.7 181.3C696.2 181.3 695.8 181.2 695.3 181.1C694.8 181.0 694.5 180.8 694.2 180.6C693.9 180.4 693.8 180.2 693.8 179.9C693.8 179.6 693.9 179.4 694.2 179.2C694.5 178.9 694.8 178.8 695.3 178.7C695.8 178.5 696.2 178.5 696.7 178.5C697.3 178.5 697.7 178.5 698.2 178.7C698.7 178.8 699.0 178.9 699.3 179.2C699.6 179.4 699.7 179.6 699.7 179.9Z"/><path d="M784.9 209.9C785.0 208.9 785.6 208.0 786.3 207.1C787.1 205.9 788.0 204.7 789.1 204.3C789.9 203.9 791.4 204.7 791.4 204.7C791.4 204.7 791.5 206.9 790.9 208.0C790.4 209.2 789.6 210.1 788.6 210.8C787.7 211.5 785.8 211.7 785.8 211.7C785.8 211.7 784.8 210.7 784.9 209.9Z"/><path d="M741.9 269.6C741.9 269.6 743.2 266.0 744.3 264.0C745.5 261.8 746.5 260.4 748.0 258.4C749.7 256.2 750.8 254.7 752.7 252.8C754.3 251.2 756.3 249.6 757.3 249.1C758.2 248.7 759.7 249.5 759.7 249.5C759.7 249.5 759.0 252.2 758.3 253.7C757.4 255.5 756.7 256.7 755.5 258.4C754.2 260.3 753.2 261.4 751.7 263.1C750.4 264.6 749.4 265.4 748.0 266.8C746.6 268.2 745.4 270.0 744.3 270.5C743.4 270.9 741.9 269.6 741.9 269.6Z"/><path d="M702.0 466.3C702.0 466.3 706.5 466.0 706.5 466.0C706.5 466.0 705.3 468.0 704.5 469.0C703.8 469.8 702.3 470.8 702.3 470.8C702.3 470.8 702.0 466.3 702.0 466.3Z"/><path d="M684.8 481.0C684.8 481.0 688.0 481.0 688.0 481.0C688.0 481.0 686.5 483.2 686.5 483.2C686.5 483.2 684.8 481.0 684.8 481.0Z"/></g>
<g fill="#64c300"><path d="M759.7 146.9C760.6 145.7 763.3 143.1 766.1 141.6C768.7 140.2 770.6 139.6 773.5 139.5C776.4 139.4 778.2 140.5 781.0 141.1C783.4 141.5 784.9 142.4 787.4 142.1C790.4 141.8 792.9 140.4 795.9 139.5C798.4 138.7 800.0 137.5 802.3 137.3C804.4 137.1 806.4 137.3 807.7 138.4C808.9 139.5 809.3 141.1 808.7 142.7C808.1 144.4 806.2 145.4 804.5 146.9C802.3 148.9 800.4 150.1 798.1 152.3C795.9 154.2 794.7 155.5 792.7 157.6C791.0 159.5 789.7 160.8 788.5 162.9C787.3 164.8 786.1 166.1 786.3 168.3C786.5 170.4 788.5 171.5 789.5 173.6C790.5 175.6 791.5 176.8 791.7 178.9C791.9 181.0 791.9 182.8 790.6 184.3C789.3 185.8 787.4 186.0 785.3 186.4C782.9 186.8 781.2 185.9 778.9 186.4C776.3 186.9 774.9 188.1 772.5 189.1C770.1 190.0 768.4 190.2 766.1 191.2C763.6 192.2 762.1 193.2 759.7 194.4C757.2 195.6 755.4 197.2 753.3 197.6C751.6 197.9 749.0 196.5 749.0 196.5C749.0 196.5 749.5 193.3 750.6 191.7C752.0 189.6 754.2 187.7 756.5 185.3C758.8 182.9 760.5 181.5 762.9 178.9C765.0 176.6 766.3 175.1 768.2 172.5C770.0 170.2 771.2 168.5 772.5 166.1C773.5 164.2 775.0 162.5 774.6 160.8C774.2 159.1 772.0 158.8 770.3 157.6C768.2 156.1 766.1 154.8 763.9 153.3C762.3 152.2 760.5 151.4 759.7 150.1C759.0 149.1 758.9 147.9 759.7 146.9Z"/><path d="M709.5 172.5C709.5 172.5 712.8 169.2 714.9 167.2C717.2 164.9 718.8 163.2 721.3 160.8C723.7 158.4 725.3 156.5 727.7 154.4C729.6 152.7 730.8 151.4 733.0 150.1C735.6 148.6 737.7 147.8 740.5 146.9C742.8 146.2 745.2 145.2 746.9 145.9C748.6 146.5 749.0 148.3 749.0 150.1C749.0 152.1 748.3 153.8 746.9 155.5C745.4 157.2 743.8 157.9 741.5 158.7C739.2 159.5 737.5 158.9 735.1 159.7C732.9 160.5 731.8 161.7 729.8 162.9C727.5 164.4 725.9 165.7 723.4 167.2C721.1 168.6 719.3 169.1 717.0 170.4C714.9 171.5 712.8 173.3 711.7 173.6C710.8 173.8 709.5 172.5 709.5 172.5Z"/><path d="M720.2 140.5C720.2 140.5 721.0 136.9 722.3 135.2C724.1 132.9 727.0 130.6 729.8 127.7C733.0 124.5 735.1 122.4 738.3 119.2C741.2 116.4 743.3 114.0 745.8 111.7C747.7 110.0 748.8 108.4 751.1 107.5C753.4 106.5 757.5 106.9 757.5 106.9C757.5 106.9 755.0 110.7 753.3 112.8C751.0 115.6 748.7 118.2 745.8 121.3C742.7 124.7 740.5 126.9 737.3 129.9C734.5 132.4 732.4 134.1 729.8 136.3C727.8 137.9 726.4 139.7 724.5 140.5C723.0 141.2 720.2 140.5 720.2 140.5Z"/><path d="M769.3 129.9C769.3 129.9 771.1 124.5 772.5 121.3C773.9 118.0 775.0 115.7 776.7 112.8C778.1 110.4 779.1 108.1 781.0 106.9C782.7 105.9 786.3 106.9 786.3 106.9C786.3 106.9 786.2 111.4 785.3 113.9C784.2 116.7 782.7 118.6 781.0 121.3C779.5 123.8 778.4 125.8 776.7 127.7C775.4 129.2 774.0 130.5 772.5 130.9C771.2 131.3 769.3 129.9 769.3 129.9Z"/><path d="M810.9 130.9C812.1 128.6 813.8 127.1 816.2 125.6C818.8 124.0 820.7 123.3 823.7 122.9C826.9 122.5 829.6 122.7 832.2 123.5C834.1 124.0 835.8 125.2 836.5 126.7C837.1 128.2 836.4 129.6 835.4 130.9C834.1 132.6 832.3 134.0 830.1 135.2C827.8 136.4 826.0 136.3 823.7 137.3C821.2 138.4 819.3 139.7 817.3 140.5C815.7 141.2 814.5 142.2 813.0 141.6C811.5 141.0 810.2 139.3 809.8 137.3C809.4 135.2 809.7 133.1 810.9 130.9Z"/><path d="M807.7 159.7C808.1 158.1 809.2 156.1 810.9 154.4C812.5 152.7 814.1 151.6 816.2 151.2C818.2 150.8 820.3 151.2 821.5 152.3C822.8 153.3 823.2 155.0 822.6 156.5C822.0 158.2 820.2 159.5 818.3 160.8C816.5 162.0 814.9 162.5 813.0 162.9C811.4 163.3 809.8 163.6 808.7 162.9C807.7 162.3 807.4 161.0 807.7 159.7Z"/></g>
<g fill="#509600"><path d="M770.3 170.4C770.7 169.5 772.2 167.6 773.5 166.1C775.2 164.2 777.1 163.0 778.9 160.8C780.7 158.5 783.1 154.4 783.1 154.4C783.1 154.4 779.9 151.2 779.9 151.2C779.9 151.2 782.4 149.0 784.2 148.0C786.5 146.7 788.9 146.1 791.7 144.8C794.5 143.5 796.4 142.1 799.1 141.1C801.5 140.2 804.2 139.4 805.5 139.5C806.5 139.5 807.5 140.6 807.1 141.6C806.7 142.9 805.0 144.4 803.4 145.9C801.4 147.8 799.4 149.2 797.0 151.2C794.6 153.2 792.9 154.4 790.6 156.5C788.5 158.5 787.3 159.8 785.3 161.9C783.2 163.9 782.1 165.4 779.9 167.2C778.0 168.8 776.1 170.1 774.6 170.9C773.5 171.6 772.3 172.1 771.4 172.0C770.7 171.9 770.1 171.1 770.3 170.4Z"/><path d="M768.2 185.3C768.2 185.3 771.0 182.9 772.5 182.7C773.8 182.5 775.7 184.3 775.7 184.3C775.7 184.3 774.7 186.4 773.5 186.9C772.4 187.5 770.9 187.3 769.8 186.9C769.0 186.7 768.2 185.3 768.2 185.3Z"/><path d="M739.2 150.1C739.2 150.3 739.0 150.5 738.8 150.7C738.5 150.8 738.1 151.0 737.7 151.1C737.2 151.2 736.8 151.2 736.2 151.2C735.6 151.2 735.2 151.2 734.7 151.1C734.3 151.0 733.9 150.8 733.6 150.7C733.4 150.5 733.2 150.3 733.2 150.1C733.2 149.9 733.4 149.7 733.6 149.6C733.9 149.4 734.3 149.3 734.7 149.2C735.2 149.1 735.6 149.1 736.2 149.1C736.8 149.1 737.2 149.1 737.7 149.2C738.1 149.3 738.5 149.4 738.8 149.6C739.0 149.7 739.2 149.9 739.2 150.1Z"/></g>
<g fill="#f0f000"><path d="M794.4 149.9C794.4 150.1 794.4 150.3 794.2 150.5C794.1 150.6 793.9 150.7 793.7 150.8C793.4 151.0 793.2 151.0 792.9 151.0C792.7 151.0 792.5 151.0 792.2 150.8C792.0 150.7 791.8 150.6 791.7 150.5C791.5 150.3 791.5 150.1 791.5 149.9C791.5 149.7 791.5 149.6 791.7 149.4C791.8 149.2 792.0 149.1 792.2 149.0C792.5 148.9 792.7 148.9 792.9 148.9C793.2 148.9 793.4 148.9 793.7 149.0C793.9 149.1 794.1 149.2 794.2 149.4C794.4 149.6 794.4 149.7 794.4 149.9Z"/></g>
<g fill="#2e2eff"><path d="M789.5 165.1C789.5 165.1 792.9 162.4 794.9 160.8C797.2 158.9 798.7 157.4 801.3 155.5C803.6 153.7 805.3 152.5 807.7 151.2C809.6 150.1 812.0 149.0 813.0 148.9C813.8 148.7 814.6 150.1 814.6 150.1C814.6 150.1 811.6 152.7 809.8 154.4C807.8 156.3 806.6 157.8 804.5 159.7C802.5 161.5 801.4 162.8 799.1 164.0C796.9 165.2 794.4 165.9 792.7 166.1C791.5 166.3 789.5 165.1 789.5 165.1Z"/><path d="M869.3 129.2C868.8 127.8 869.6 126.2 870.6 124.8C871.6 123.4 872.9 122.5 874.4 122.2C875.9 122.0 878.2 123.5 878.2 123.5C878.2 123.5 878.5 126.5 877.6 127.9C876.6 129.6 874.8 131.5 873.1 131.7C871.5 132.0 869.8 130.6 869.3 129.2Z"/></g>
</g>
<line class="mg" x1="603.0" y1="303.4" x2="909.0" y2="303.4"/>
<line class="mg" x1="603.0" y1="501.0" x2="909.0" y2="501.0"/>
<line class="mg" x1="603.0" y1="698.6" x2="909.0" y2="698.6"/>
<line class="mg" x1="603.0" y1="896.2" x2="909.0" y2="896.2"/>
<line class="mg" style="stroke-dasharray:1.5 11.2" x1="750.0" y1="114.6" x2="750.0" y2="1093.8"/>
<g clip-path="url(#mapclip)"><path d="M824.3 105.9 L750.0 303.3 L736.0 350.0 L707.0 460.0 L697.0 500.7 L638.5 604.0 L591.0 665.4 L570.0 692.5" fill="none" stroke="#555" stroke-width="0.8"/>
<path d="M750.0 995.3 L750.0 1093.5" fill="none" stroke="#777" stroke-width="0.8"/>
<path d="M750.0 995.3 L704.7 1093.5" fill="none" stroke="#666" stroke-width="0.8"/>
<path d="M766.2 284.4C766.2 284.4 769.6 285.0 771.2 285.2C772.8 285.4 774.4 285.7 776.0 285.6C777.6 285.5 779.2 284.7 780.8 284.4C782.4 284.1 783.8 284.2 785.6 284.0C787.4 283.8 789.8 283.6 791.6 283.2C793.4 282.8 795.2 281.5 796.4 281.4C797.4 281.3 797.9 282.0 798.8 282.4C799.7 282.8 801.1 282.8 801.8 283.8C802.5 284.8 802.4 287.4 803.0 288.6C803.6 289.8 804.3 290.7 805.4 291.2C806.5 291.8 808.1 291.8 809.6 291.7C811.1 291.6 812.8 291.1 814.4 290.8C816.0 290.4 818.1 290.8 819.0 289.8C819.9 288.8 819.0 285.9 819.8 285.0C820.6 284.1 822.4 284.5 824.0 284.4C825.7 284.3 830.2 284.4 830.2 284.4C830.2 284.4 829.9 281.2 830.6 280.4C831.3 279.6 833.5 280.0 834.2 279.6C834.8 279.2 835.0 278.6 835.0 277.8C835.1 276.8 834.7 273.2 834.8 270.6C834.9 268.0 835.1 264.8 835.4 262.2C835.7 259.6 836.1 257.0 836.6 255.0C837.1 253.1 837.8 251.7 838.4 250.2C839.0 248.7 840.2 246.0 840.2 246.0C840.2 246.0 841.5 246.6 842.0 247.2C842.7 248.0 843.6 249.8 844.4 250.8C845.2 251.8 846.0 252.5 846.8 253.2C847.6 253.9 849.2 255.0 849.2 255.0C849.2 255.0 848.2 251.9 848.6 250.8C849.0 249.7 850.5 249.2 851.6 248.4C852.7 247.6 853.8 246.9 855.2 246.0C856.6 245.1 858.4 244.0 860.0 243.0C861.6 242.0 863.4 241.0 864.8 240.0C866.2 239.0 867.3 237.3 868.4 237.0C869.5 236.7 870.2 238.2 871.4 238.2C872.7 238.2 874.5 236.5 876.2 237.0C877.9 237.5 881.6 241.2 881.6 241.2C881.6 241.2 880.2 243.1 879.2 244.2C878.1 245.4 875.0 248.4 875.0 248.4C875.0 248.4 877.2 249.9 878.0 250.8C878.8 251.7 879.6 252.5 879.8 253.8C880.0 255.5 878.8 258.8 879.2 261.0C879.6 263.2 881.3 265.4 882.2 267.0C883.0 268.4 884.7 269.2 884.6 270.6C884.5 272.0 882.4 273.8 881.6 275.4C880.8 277.0 879.6 279.0 879.8 280.2C880.0 281.4 881.8 282.1 882.8 282.6C883.8 283.1 885.3 282.2 885.8 283.2C886.4 284.4 886.1 287.3 886.4 289.8C886.7 292.5 887.1 296.4 887.6 299.4C888.1 302.4 888.4 305.5 889.4 307.8C890.4 310.1 893.0 311.2 893.4 313.2C893.8 315.2 892.6 317.5 891.8 319.8C891.0 322.1 889.8 324.6 888.8 327.0C887.8 329.4 887.0 331.8 885.8 334.2C884.6 336.6 883.3 339.2 881.6 341.4C879.9 343.6 877.6 345.4 875.6 347.4C873.6 349.4 871.4 351.8 869.6 353.4C867.9 354.9 866.7 355.8 864.8 357.0C862.8 358.3 858.9 359.9 857.6 361.2C856.6 362.2 858.0 364.0 857.0 364.8C856.0 365.6 853.1 365.6 851.6 366.0C850.2 366.4 849.2 366.7 848.0 367.2C846.8 367.7 844.4 369.0 844.4 369.0C844.4 369.0 844.8 369.4 844.7 369.7C844.7 370.1 844.6 371.0 844.1 371.5C843.6 372.0 842.6 372.3 841.8 372.7C841.0 373.0 839.9 373.2 839.5 373.8C839.2 374.4 839.4 375.3 839.6 376.1C839.9 376.8 841.2 377.6 841.2 378.3C841.1 379.1 839.3 380.6 839.3 380.6C839.3 380.6 841.1 382.1 841.4 382.9C841.7 383.6 841.0 384.4 841.1 385.1C841.3 385.9 842.4 386.6 842.4 387.4C842.4 388.2 841.2 388.9 841.0 389.7C840.8 390.4 841.3 391.2 841.3 391.9C841.4 392.7 841.3 393.4 841.4 394.2C841.5 395.0 841.8 395.7 841.7 396.5C841.7 397.2 841.3 398.0 841.0 398.7C840.7 399.5 839.9 400.2 839.8 401.0C839.8 401.8 840.5 402.5 840.6 403.3C840.7 404.0 840.2 404.8 840.3 405.5C840.3 406.3 841.2 407.0 840.9 407.8C840.6 408.6 838.9 409.3 838.7 410.1C838.5 410.8 839.8 411.6 839.8 412.3C839.7 413.1 838.4 413.8 838.4 414.6C838.4 415.4 839.8 416.9 839.8 416.9C839.8 416.9 837.3 418.4 836.9 419.1C836.5 419.9 837.6 420.6 837.6 421.4C837.6 422.2 836.4 422.9 836.8 423.7C837.2 424.4 839.8 425.9 839.8 425.9C839.8 425.9 838.5 427.4 838.5 428.2C838.5 429.0 839.9 429.7 839.8 430.5C839.8 431.2 838.1 432.0 838.2 432.7C838.2 433.5 839.8 434.2 840.0 435.0C840.1 435.8 839.1 436.5 838.9 437.3C838.8 438.0 839.1 438.8 838.9 439.5C838.6 440.3 837.5 441.0 837.6 441.8C837.6 442.6 838.6 443.3 839.0 444.1C839.4 444.8 839.9 445.6 840.1 446.3C840.3 447.1 840.2 447.8 840.2 448.6C840.3 449.4 840.5 450.1 840.5 450.9C840.4 451.6 839.7 452.4 839.8 453.1C840.0 453.9 841.4 454.6 841.5 455.4C841.6 456.2 840.7 456.9 840.6 457.7C840.6 458.4 841.5 459.2 841.2 459.9C840.9 460.7 838.7 462.2 838.7 462.2C838.7 462.2 840.3 463.7 840.3 464.5C840.3 465.2 838.8 466.0 838.7 466.7C838.5 467.5 839.9 468.2 839.5 469.0C839.2 469.8 836.5 471.3 836.5 471.3C836.5 471.3 838.0 472.8 838.0 473.5C838.0 474.3 836.6 475.0 836.6 475.8C836.6 476.6 837.9 478.1 837.9 478.1C837.9 478.1 835.6 479.5 835.2 480.3C834.8 481.1 835.3 482.0 835.4 482.9C835.4 483.7 835.5 484.6 835.4 485.4C835.2 486.3 834.5 487.1 834.4 488.0C834.3 488.8 834.8 489.7 834.5 490.5C834.2 491.4 832.4 492.3 832.3 493.2C832.3 494.1 834.0 494.9 834.3 495.8C834.6 496.7 834.2 497.6 834.1 498.5C834.0 499.3 833.4 500.0 833.5 500.7C833.6 501.5 834.4 502.2 834.6 503.0C834.9 503.8 834.5 504.5 835.0 505.3C835.4 506.0 837.4 507.5 837.4 507.5C837.4 507.5 835.6 509.0 835.4 509.8C835.2 510.6 836.3 511.3 836.1 512.1C836.0 512.8 834.6 514.3 834.6 514.3C834.6 514.3 836.8 515.8 837.0 516.6C837.2 517.4 835.6 518.1 835.6 518.9C835.7 519.6 837.1 520.4 837.1 521.1C837.0 521.9 835.4 523.4 835.4 523.4C835.4 523.4 838.2 525.7 838.2 525.7C838.2 525.7 837.1 527.2 837.0 527.9C836.9 528.7 838.1 529.4 837.9 530.2C837.7 531.0 835.9 531.7 835.8 532.5C835.7 533.2 837.0 534.0 837.1 534.7C837.3 535.5 836.8 536.2 836.9 537.0C837.0 537.8 837.8 538.5 837.8 539.3C837.8 540.0 837.0 540.8 836.9 541.5C836.8 542.3 837.0 543.0 837.1 543.8C837.3 544.6 838.0 545.3 837.9 546.1C837.9 546.8 837.3 547.6 836.9 548.3C836.6 549.1 836.2 549.8 835.9 550.6C835.6 551.4 835.2 552.1 834.9 552.9C834.5 553.6 834.2 554.4 833.9 555.1C833.5 555.9 833.3 556.6 833.0 557.4C832.7 558.2 832.4 558.9 832.1 559.7C831.8 560.4 831.4 561.2 831.1 561.9C830.8 562.7 830.5 563.4 830.2 564.2C829.9 565.0 829.6 565.7 829.3 566.5C829.1 567.2 829.0 568.0 828.8 568.7C828.7 569.5 828.5 570.2 828.4 571.0C828.2 571.8 828.0 572.5 827.9 573.3C827.7 574.0 827.6 574.8 827.4 575.5C827.2 576.3 827.1 577.0 826.9 577.8C826.7 578.6 826.6 579.3 826.4 580.1C826.3 580.8 826.0 581.6 825.9 582.3C825.8 583.1 825.8 583.8 825.8 584.6C825.8 585.4 825.7 586.1 825.7 586.9C825.6 587.6 825.6 588.4 825.6 589.1C825.5 589.9 825.5 590.6 825.4 591.4C825.4 592.2 825.3 592.9 825.3 593.7C825.3 594.4 825.2 595.2 825.2 595.9C825.1 596.7 825.1 597.4 825.1 598.2C825.0 599.0 825.0 599.7 824.9 600.5C824.9 601.2 824.8 602.0 824.8 602.7C824.8 603.5 824.8 604.2 824.7 605.0C824.7 605.8 824.7 606.5 824.7 607.3C824.6 608.0 824.6 608.8 824.6 609.5C824.6 610.3 824.6 611.0 824.5 611.8C824.5 612.6 824.5 613.3 824.5 614.1C824.5 614.8 824.4 615.6 824.4 616.3C824.4 617.1 824.5 617.8 824.3 618.6C824.2 619.4 823.8 620.1 823.5 620.9C823.3 621.6 823.0 622.4 822.7 623.1C822.4 623.9 822.2 624.6 821.9 625.4C821.6 626.2 821.4 626.9 821.1 627.7C820.8 628.4 820.6 629.2 820.3 629.9C820.0 630.7 819.6 631.4 819.2 632.2C818.9 633.0 818.6 633.7 818.2 634.5C817.9 635.2 817.5 636.0 817.2 636.7C816.9 637.5 816.2 639.0 816.2 639.0C816.2 639.0 816.9 639.0 816.9 639.0C816.9 639.0 814.0 643.3 813.5 645.8C812.9 648.3 812.7 651.5 813.5 653.7C814.2 656.0 816.6 657.1 818.0 659.4C819.5 661.9 821.7 665.4 822.5 668.5C823.4 671.5 823.4 674.9 823.0 677.5C822.6 680.2 821.2 682.4 820.3 684.3C819.4 686.1 818.0 686.9 817.5 688.9C817.0 691.1 817.1 694.7 816.9 697.9C816.6 701.1 816.9 705.8 816.2 708.1C815.6 710.1 813.7 711.0 812.3 712.0C810.9 713.0 809.0 712.8 807.8 714.3C806.5 715.9 805.3 719.5 804.4 721.7C803.5 723.9 802.2 725.5 802.1 727.4C802.1 729.3 804.1 731.5 803.9 733.1C803.8 734.7 802.0 735.4 801.0 736.9C799.9 738.6 798.4 740.7 797.6 743.3C796.8 745.8 797.5 749.0 796.5 752.3C795.3 756.1 792.9 761.8 790.8 765.9C788.7 770.1 785.5 774.2 784.0 777.3C782.8 779.7 782.3 781.4 781.7 784.1C781.0 787.5 780.2 793.9 779.5 797.7C778.8 801.1 778.0 804.1 777.2 806.7C776.4 809.4 774.5 811.6 774.5 813.5C774.5 815.4 776.5 816.2 777.2 818.1C778.0 820.0 778.8 822.8 779.0 824.9C779.2 826.9 778.8 829.0 778.3 830.5C777.9 832.0 776.4 832.4 776.1 833.9C775.6 835.9 775.5 841.5 774.9 844.1C774.4 846.4 772.7 847.5 772.7 849.8C772.7 852.3 774.2 855.8 774.9 858.9C775.7 861.9 777.2 865.3 777.2 867.9C777.2 870.6 775.7 872.2 774.9 874.7C774.2 877.3 773.8 881.6 772.7 883.3C771.7 884.9 769.2 883.4 768.1 884.9C767.0 886.5 765.9 891.0 765.9 892.9C765.8 894.3 767.7 896.3 767.7 896.3C767.7 896.3 764.9 897.2 764.1 898.5C763.2 899.9 762.7 902.1 762.5 904.2C762.2 906.3 762.5 911.0 762.5 911.0C762.5 911.0 763.1 911.0 763.1 911.0C763.1 911.0 763.7 915.2 763.6 917.8C763.5 920.4 763.2 923.8 762.5 926.9C761.7 929.9 760.2 932.9 759.1 935.9C757.9 939.0 756.6 942.0 755.7 945.0C754.7 948.0 753.7 951.0 753.4 954.1C753.1 957.1 754.5 960.3 754.1 963.1C753.7 966.0 752.2 968.4 751.1 971.1C750.1 973.7 748.5 976.5 747.7 979.0C747.0 981.5 746.6 985.8 746.6 985.8C746.6 985.8 744.3 984.1 743.2 984.7C742.1 985.2 740.9 987.5 739.8 989.2C738.7 990.9 737.1 993.8 736.4 994.9C735.8 995.7 734.6 996.7 734.6 996.7" fill="none" stroke="#000" stroke-width="2.1" stroke-linejoin="round" stroke-linecap="round"/>
<path d="M727.3 1001.0C727.3 1001.0 729.5 999.0 730.7 998.3C731.9 997.5 734.6 996.7 734.6 996.7C734.6 996.7 732.7 993.3 731.9 991.5C731.0 989.7 730.1 987.9 729.6 985.8C729.1 983.7 729.3 980.7 728.9 979.0C728.6 977.6 727.2 976.9 727.3 975.6C727.4 974.3 729.1 972.8 729.6 971.1C730.1 969.4 730.2 967.5 730.1 965.4C729.9 963.3 728.9 961.2 728.5 958.6C728.0 956.0 727.9 952.9 727.3 949.5C726.8 946.1 726.2 942.4 725.1 938.2C723.9 934.0 722.2 929.1 720.5 924.6C718.8 920.1 714.9 911.0 714.9 911.0C714.9 911.0 715.3 911.0 715.3 911.0C715.3 911.0 713.9 902.5 712.6 897.4C711.2 891.7 709.0 883.8 706.9 877.0C704.9 870.2 702.4 863.4 700.1 856.6C697.9 849.8 695.2 841.5 693.3 836.2C691.8 831.8 690.3 827.7 688.8 824.9C687.5 822.4 685.8 820.5 684.3 819.2C682.8 817.9 681.2 817.8 679.7 816.9C678.3 816.1 676.2 815.7 675.7 814.0C675.1 812.3 675.8 809.2 676.3 806.7C676.8 804.3 679.0 801.7 678.6 799.5C678.2 797.2 675.5 795.1 674.1 793.1C672.6 791.1 670.6 789.4 670.0 787.5C669.4 785.6 670.1 783.3 670.7 781.8C671.2 780.3 673.2 780.0 673.4 778.4C673.6 776.5 672.5 773.5 671.8 770.5C671.0 766.9 670.1 761.8 668.4 756.9C666.7 752.0 663.9 746.1 661.6 741.0C659.3 735.9 656.7 731.2 654.8 726.3C652.9 721.4 652.0 717.1 650.3 711.5C648.4 705.3 645.7 696.4 643.5 688.9C641.2 681.3 638.7 673.0 636.7 666.2C634.6 659.4 632.7 652.6 631.0 648.1C629.6 644.5 626.5 639.0 626.5 639.0C626.5 639.0 628.1 639.0 628.1 639.0C628.1 639.0 625.3 635.1 625.3 635.1" fill="none" stroke="#000" stroke-width="2.1" stroke-linejoin="round" stroke-linecap="round"/>
<circle cx="841.4" cy="263.7" r="3.3" fill="#000"/>
<circle cx="765.8" cy="303.1" r="3.3" fill="#000"/>
<circle cx="829.5" cy="308.5" r="3.3" fill="#000"/>
<circle cx="749.9" cy="343.0" r="3.3" fill="#000"/>
<circle cx="741.8" cy="387.4" r="3.3" fill="#000"/>
<circle cx="797.6" cy="382.4" r="3.3" fill="#000"/>
<circle cx="829.3" cy="402.4" r="3.3" fill="#000"/>
<circle cx="726.2" cy="436.8" r="3.3" fill="#000"/>
<circle cx="714.2" cy="486.2" r="3.3" fill="#000"/>
<circle cx="750.0" cy="521.1" r="3.3" fill="#000"/>
<circle cx="694.2" cy="540.6" r="3.3" fill="#000"/>
<circle cx="781.7" cy="545.6" r="3.3" fill="#000"/>
<circle cx="714.2" cy="580.1" r="3.3" fill="#000"/>
<circle cx="670.4" cy="614.7" r="3.3" fill="#000"/>
<circle cx="718.3" cy="654.4" r="3.3" fill="#000"/>
<circle cx="718.3" cy="777.7" r="3.3" fill="#000"/>
<text x="731.2" y="269.3" font-size="29.5" textLength="37" lengthAdjust="spacingAndGlyphs" style="fill:#3c3c3c;stroke:none;opacity:.85">5.1</text></g>
<rect x="591.0" y="105.8" width="318.0" height="988.0" fill="none" stroke="#222" stroke-width="1.3"/>
<line class="tk" x1="585.0" y1="1093.8" x2="591.0" y2="1093.8"/>
<text class="ml" text-anchor="end" x="581.0" y="1100.7" textLength="28.5" lengthAdjust="spacingAndGlyphs">29N</text>
<line class="tk" x1="585.0" y1="896.2" x2="591.0" y2="896.2"/>
<text class="ml" text-anchor="end" x="581.0" y="903.1" textLength="28.5" lengthAdjust="spacingAndGlyphs">30N</text>
<line class="tk" x1="585.0" y1="698.6" x2="591.0" y2="698.6"/>
<text class="ml" text-anchor="end" x="581.0" y="705.5" textLength="28.5" lengthAdjust="spacingAndGlyphs">31N</text>
<line class="tk" x1="585.0" y1="501.0" x2="591.0" y2="501.0"/>
<text class="ml" text-anchor="end" x="581.0" y="507.9" textLength="28.5" lengthAdjust="spacingAndGlyphs">32N</text>
<line class="tk" x1="585.0" y1="303.4" x2="591.0" y2="303.4"/>
<text class="ml" text-anchor="end" x="581.0" y="310.3" textLength="28.5" lengthAdjust="spacingAndGlyphs">33N</text>
<line class="tk" x1="585.0" y1="105.8" x2="591.0" y2="105.8"/>
<text class="ml" text-anchor="end" x="581.0" y="112.7" textLength="28.5" lengthAdjust="spacingAndGlyphs">34N</text>
<line class="tk" x1="591.0" y1="1093.8" x2="591.0" y2="1098.8"/>
<text class="ml" text-anchor="middle" x="591.0" y="1116.1" textLength="27.5" lengthAdjust="spacingAndGlyphs">34E</text>
<line class="tk" x1="750.0" y1="1093.8" x2="750.0" y2="1098.8"/>
<text class="ml" text-anchor="middle" x="750.0" y="1116.1" textLength="27.5" lengthAdjust="spacingAndGlyphs">35E</text>
<line class="tk" x1="909.0" y1="1093.8" x2="909.0" y2="1098.8"/>
<text class="ml" text-anchor="middle" x="909.0" y="1116.1" textLength="27.5" lengthAdjust="spacingAndGlyphs">36E</text>
</svg></body></html>
